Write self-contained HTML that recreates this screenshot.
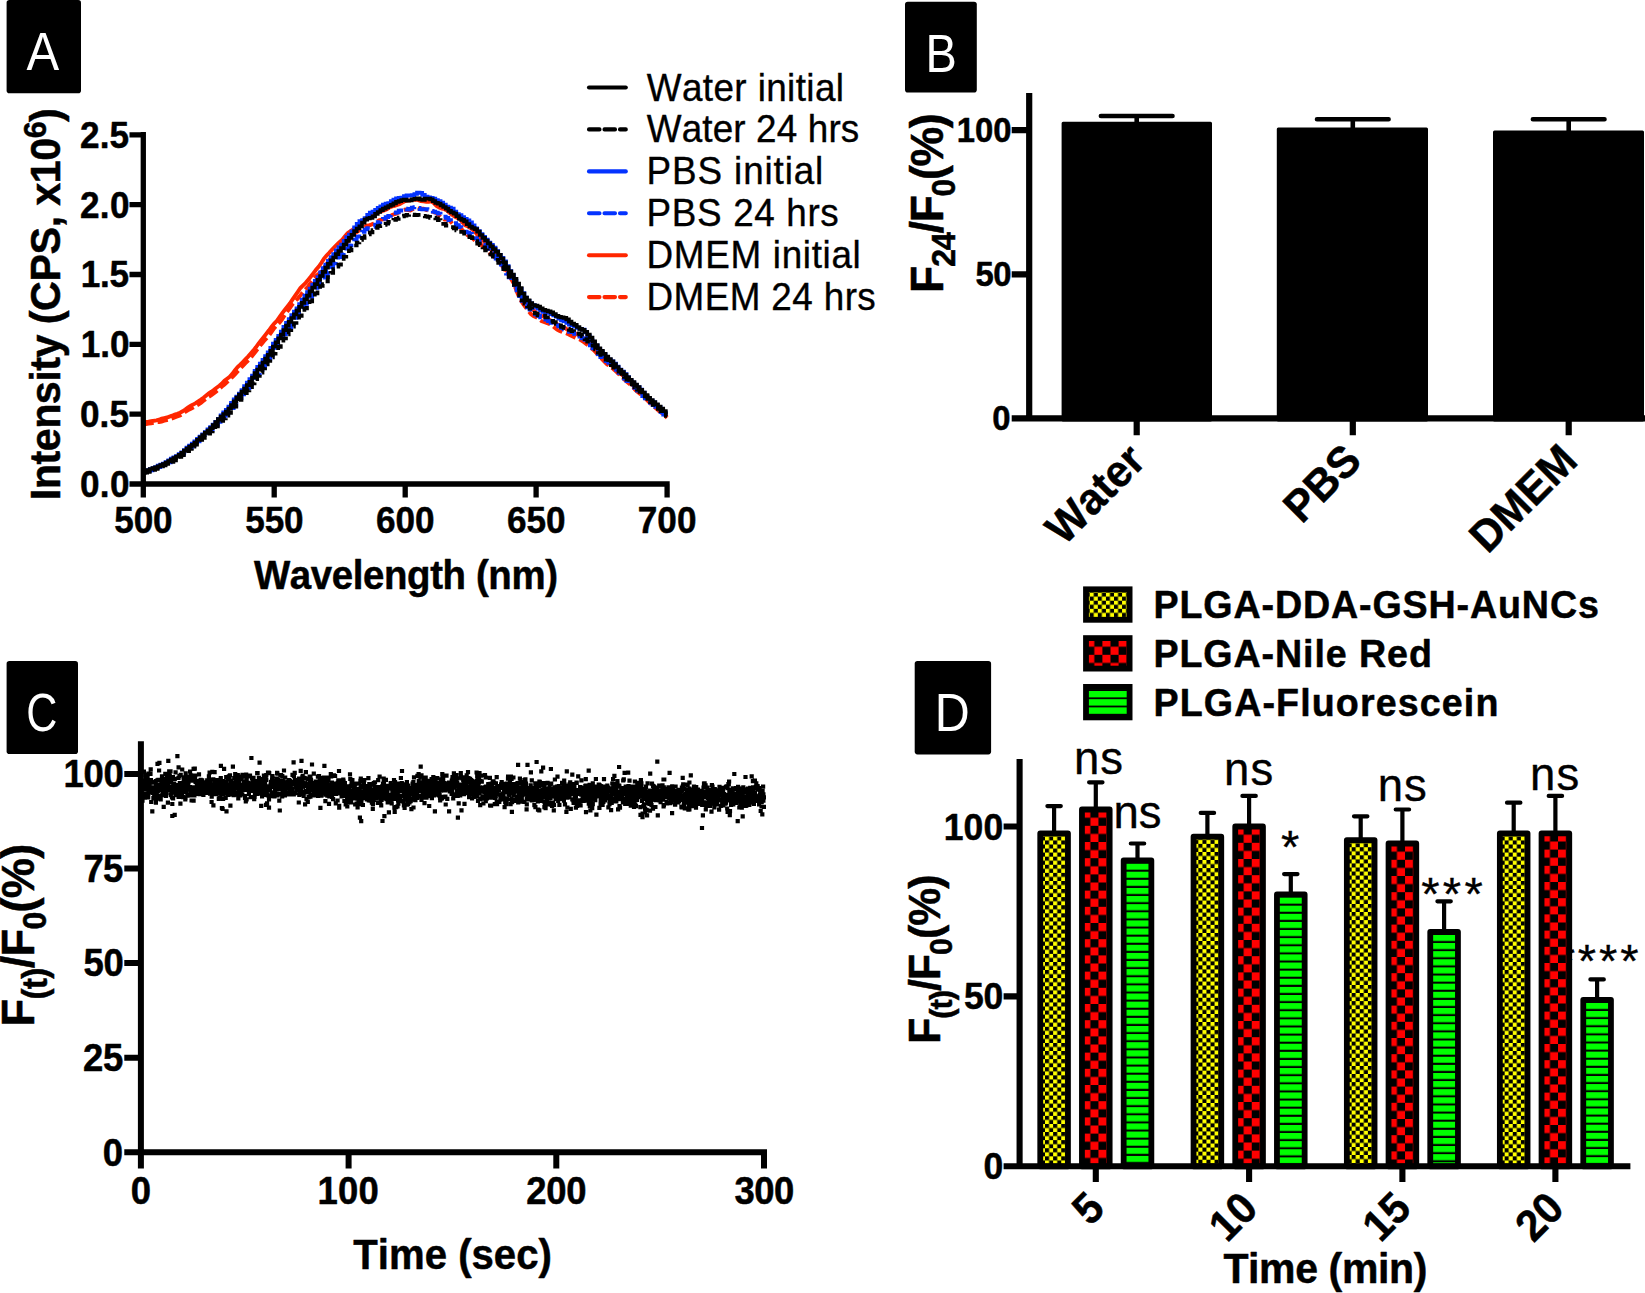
<!DOCTYPE html>
<html lang="en"><head><meta charset="utf-8"><title>Figure</title>
<style>html,body{margin:0;padding:0;background:#fff}svg{display:block}text{font-family:"Liberation Sans",Arial,sans-serif;fill:#000;font-kerning:none;white-space:pre}.b{font-weight:700;stroke:#000;stroke-width:.5px;stroke-linejoin:round}.r{stroke:#000;stroke-width:.35px}.ax{stroke:#000;fill:none}</style></head><body>
<svg width="1645" height="1293" viewBox="0 0 1645 1293">
<rect width="1645" height="1293" fill="#fff"/>
<rect x="6.6" y="0" width="74.4" height="93.2" rx="2.8" fill="#000"/>
<text transform="translate(26.60,70.40) scale(0.899,1)" font-size="54.51" style="fill:#fff">A</text>
<polyline points="143.3,424.7 145.9,424.2 148.5,423.6 151.2,423.4 153.8,422.9 156.4,422.3 159.0,422.0 161.6,421.5 164.3,420.7 166.9,420.1 169.5,419.5 172.1,418.5 174.7,417.4 177.3,416.5 180.0,415.5 182.6,414.0 185.2,411.9 187.8,410.3 190.4,409.1 193.1,407.6 195.7,406.0 198.3,404.6 200.9,402.8 203.5,400.8 206.2,398.7 208.8,396.8 211.4,395.2 214.0,393.3 216.6,391.2 219.3,388.9 221.9,386.6 224.5,384.5 227.1,382.1 229.7,379.6 232.3,377.0 235.0,374.4 237.6,371.5 240.2,368.7 242.8,366.0 245.4,363.1 248.1,360.5 250.7,357.8 253.3,354.6 255.9,351.3 258.5,347.9 261.2,344.4 263.8,341.2 266.4,338.5 269.0,335.6 271.6,332.0 274.2,328.2 276.9,325.3 279.5,322.6 282.1,319.3 284.7,315.3 287.3,311.5 290.0,307.8 292.6,304.1 295.2,301.1 297.8,298.6 300.4,295.4 303.1,291.9 305.7,289.1 308.3,286.2 310.9,282.6 313.5,279.0 316.2,275.8 318.8,273.7 321.4,271.4 324.0,267.8 326.6,264.2 329.2,259.9 331.9,256.4 334.5,254.9 337.1,253.3 339.7,250.3 342.3,246.7 345.0,244.1 347.6,241.9 350.2,238.6 352.8,235.1 355.4,233.0 358.1,231.2 360.7,229.0 363.3,227.1 365.9,226.0 368.5,225.5 371.2,224.6 373.8,223.6 376.4,222.0 379.0,220.2 381.6,219.6 384.2,219.1 386.9,218.4 389.5,216.8 392.1,215.0 394.7,214.2 397.3,213.2 400.0,211.5 402.6,210.2 405.2,209.6 407.8,210.1 410.4,210.4 413.1,209.1 415.7,208.1 418.3,208.5 420.9,208.7 423.5,208.7 426.2,209.9 428.8,210.6 431.4,211.2 434.0,212.2 436.6,213.1 439.2,215.5 441.9,218.5 444.5,219.6 447.1,219.3 449.7,220.6 452.3,223.6 455.0,225.0 457.6,225.5 460.2,227.6 462.8,230.6 465.4,233.5 468.1,235.6 470.7,236.9 473.3,238.9 475.9,241.9 478.5,243.7 481.2,244.8 483.8,247.1 486.4,250.0 489.0,252.6 491.6,255.0 494.2,256.8 496.9,258.7 499.5,261.8 502.1,265.9 504.7,269.7 507.3,273.2 510.0,277.1 512.6,281.6 515.2,287.2 517.8,294.0 520.4,299.8 523.1,303.9 525.7,307.4 528.3,310.9 530.9,314.0 533.5,316.1 536.1,317.2 538.8,318.9 541.4,321.0 544.0,322.0 546.6,323.0 549.2,323.9 551.9,325.1 554.5,327.5 557.1,329.7 559.7,330.9 562.3,332.0 565.0,332.9 567.6,333.9 570.2,335.3 572.8,336.6 575.4,337.7 578.1,338.8 580.7,340.0 583.3,341.7 585.9,343.6 588.5,345.6 591.1,347.9 593.8,350.2 596.4,353.0 599.0,356.0 601.6,358.6 604.2,361.5 606.9,364.1 609.5,365.8 612.1,367.9 614.7,370.2 617.3,372.7 620.0,375.2 622.6,377.6 625.2,380.2 627.8,382.4 630.4,384.7 633.1,387.5 635.7,390.4 638.3,392.6 640.9,394.6 643.5,396.6 646.1,399.1 648.8,402.0 651.4,404.5 654.0,406.6 656.6,408.9 659.2,411.2 661.9,413.2 664.5,415.3 667.1,417.7" fill="none" stroke="#ff2600" stroke-width="3.9" stroke-linejoin="miter" stroke-dasharray="10.5 4"/>
<polyline points="143.3,422.3 145.9,422.0 148.5,421.6 151.2,421.1 153.8,420.8 156.4,420.4 159.0,419.7 161.6,418.7 164.3,418.1 166.9,417.5 169.5,416.6 172.1,415.7 174.7,414.7 177.3,413.8 180.0,412.7 182.6,411.3 185.2,409.5 187.8,407.6 190.4,405.9 193.1,404.6 195.7,403.1 198.3,401.3 200.9,399.6 203.5,397.7 206.2,395.4 208.8,393.4 211.4,391.7 214.0,389.8 216.6,387.7 219.3,385.8 221.9,383.6 224.5,380.8 227.1,378.7 229.7,376.8 232.3,373.9 235.0,370.3 237.6,367.0 240.2,364.7 242.8,362.2 245.4,359.4 248.1,356.6 250.7,353.6 253.3,350.6 255.9,347.3 258.5,343.7 261.2,340.3 263.8,337.0 266.4,333.6 269.0,330.3 271.6,326.7 274.2,323.6 276.9,320.8 279.5,317.0 282.1,313.3 284.7,310.0 287.3,306.6 290.0,303.3 292.6,299.4 295.2,295.6 297.8,291.9 300.4,288.0 303.1,285.3 305.7,282.8 308.3,279.7 310.9,276.5 313.5,273.1 316.2,269.5 318.8,266.5 321.4,262.8 324.0,258.6 326.6,255.5 329.2,252.8 331.9,249.8 334.5,247.0 337.1,244.3 339.7,242.0 342.3,239.7 345.0,236.2 347.6,233.2 350.2,231.4 352.8,229.6 355.4,227.7 358.1,225.9 360.7,223.6 363.3,220.6 365.9,218.0 368.5,217.5 371.2,216.8 373.8,214.6 376.4,213.3 379.0,212.3 381.6,211.1 384.2,210.3 386.9,209.3 389.5,207.5 392.1,206.4 394.7,205.8 397.3,205.0 400.0,204.0 402.6,202.4 405.2,201.1 407.8,200.5 410.4,200.3 413.1,199.9 415.7,199.5 418.3,200.2 420.9,201.0 423.5,201.4 426.2,201.8 428.8,201.7 431.4,201.4 434.0,203.3 436.6,205.9 439.2,207.6 441.9,208.7 444.5,209.2 447.1,210.6 449.7,213.1 452.3,215.0 455.0,216.8 457.6,218.1 460.2,219.6 462.8,222.8 465.4,225.4 468.1,226.5 470.7,228.1 473.3,230.2 475.9,232.8 478.5,236.6 481.2,239.5 483.8,241.1 486.4,244.0 489.0,247.8 491.6,250.2 494.2,252.2 496.9,255.2 499.5,258.6 502.1,262.2 504.7,266.8 507.3,271.4 510.0,275.7 512.6,279.9 515.2,284.7 517.8,290.0 520.4,295.3 523.1,300.1 525.7,303.5 528.3,305.8 530.9,307.8 533.5,310.1 536.1,312.7 538.8,314.7 541.4,316.0 544.0,316.6 546.6,317.7 549.2,319.6 551.9,321.2 554.5,322.7 557.1,324.2 559.7,325.5 562.3,326.7 565.0,328.0 567.6,329.9 570.2,331.2 572.8,332.2 575.4,333.4 578.1,334.8 580.7,336.3 583.3,338.0 585.9,339.9 588.5,341.9 591.1,343.7 593.8,346.1 596.4,349.1 599.0,352.2 601.6,354.9 604.2,357.3 606.9,360.3 609.5,363.4 612.1,365.9 614.7,367.7 617.3,369.8 620.0,372.7 622.6,375.4 625.2,377.8 627.8,380.3 630.4,383.1 633.1,385.5 635.7,387.8 638.3,390.9 640.9,393.4 643.5,395.2 646.1,397.4 648.8,400.2 651.4,402.8 654.0,405.1 656.6,407.3 659.2,409.5 661.9,412.1 664.5,414.6 667.1,416.7" fill="none" stroke="#ff2600" stroke-width="3.9" stroke-linejoin="miter"/>
<polyline points="143.3,472.5 144.6,472.5 144.6,471.8 147.2,471.8 147.2,471.2 149.8,471.2 149.8,470.5 152.5,470.5 152.5,469.4 155.1,469.4 155.1,468.2 157.7,468.2 157.7,467.1 160.3,467.1 160.3,465.9 162.9,465.9 162.9,464.7 165.6,464.7 165.6,463.6 168.2,463.6 168.2,462.3 170.8,462.3 170.8,460.6 173.4,460.6 173.4,458.8 176.0,458.8 176.0,457.2 178.7,457.2 178.7,455.9 181.3,455.9 181.3,454.3 183.9,454.3 183.9,452.4 186.5,452.4 186.5,450.3 189.1,450.3 189.1,447.9 191.8,447.9 191.8,445.9 194.4,445.9 194.4,443.9 197.0,443.9 197.0,441.3 199.6,441.3 199.6,438.7 202.2,438.7 202.2,436.7 204.8,436.7 204.8,434.9 207.5,434.9 207.5,432.4 210.1,432.4 210.1,429.7 212.7,429.7 212.7,427.3 215.3,427.3 215.3,424.9 217.9,424.9 217.9,422.0 220.6,422.0 220.6,418.7 223.2,418.7 223.2,415.8 225.8,415.8 225.8,413.5 228.4,413.5 228.4,410.9 231.0,410.9 231.0,408.1 233.7,408.1 233.7,405.3 236.3,405.3 236.3,401.9 238.9,401.9 238.9,398.2 241.5,398.2 241.5,394.4 244.1,394.4 244.1,391.3 246.8,391.3 246.8,388.2 249.4,388.2 249.4,384.3 252.0,384.3 252.0,381.0 254.6,381.0 254.6,377.8 257.2,377.8 257.2,374.0 259.8,374.0 259.8,370.2 262.5,370.2 262.5,366.4 265.1,366.4 265.1,362.8 267.7,362.8 267.7,359.4 270.3,359.4 270.3,354.9 272.9,354.9 272.9,350.1 275.6,350.1 275.6,345.9 278.2,345.9 278.2,341.8 280.8,341.8 280.8,337.7 283.4,337.7 283.4,334.2 286.0,334.2 286.0,330.9 288.7,330.9 288.7,327.4 291.3,327.4 291.3,324.1 293.9,324.1 293.9,320.7 296.5,320.7 296.5,316.5 299.1,316.5 299.1,311.6 301.7,311.6 301.7,307.3 304.4,307.3 304.4,303.8 307.0,303.8 307.0,300.0 309.6,300.0 309.6,296.9 312.2,296.9 312.2,293.4 314.8,293.4 314.8,289.8 317.5,289.8 317.5,286.4 320.1,286.4 320.1,281.8 322.7,281.8 322.7,277.7 325.3,277.7 325.3,274.8 327.9,274.8 327.9,271.2 330.6,271.2 330.6,267.2 333.2,267.2 333.2,263.4 335.8,263.4 335.8,260.2 338.4,260.2 338.4,257.2 341.0,257.2 341.0,254.1 343.7,254.1 343.7,251.6 346.3,251.6 346.3,248.7 348.9,248.7 348.9,245.3 351.5,245.3 351.5,242.7 354.1,242.7 354.1,239.6 356.7,239.6 356.7,236.6 359.4,236.6 359.4,234.6 362.0,234.6 362.0,231.9 364.6,231.9 364.6,229.3 367.2,229.3 367.2,228.0 369.8,228.0 369.8,227.7 372.5,227.7 372.5,227.0 375.1,227.0 375.1,224.6 377.7,224.6 377.7,222.1 380.3,222.1 380.3,220.5 382.9,220.5 382.9,218.9 385.6,218.9 385.6,217.2 388.2,217.2 388.2,215.9 390.8,215.9 390.8,214.4 393.4,214.4 393.4,213.0 396.0,213.0 396.0,212.4 398.7,212.4 398.7,210.7 401.3,210.7 401.3,208.5 403.9,208.5 403.9,208.6 406.5,208.6 406.5,209.6 409.1,209.6 409.1,208.9 411.7,208.9 411.7,207.5 414.4,207.5 414.4,207.1 417.0,207.1 417.0,207.9 419.6,207.9 419.6,209.1 422.2,209.1 422.2,209.3 424.8,209.3 424.8,209.0 427.5,209.0 427.5,209.6 430.1,209.6 430.1,210.8 432.7,210.8 432.7,211.7 435.3,211.7 435.3,212.5 437.9,212.5 437.9,213.6 440.6,213.6 440.6,215.4 443.2,215.4 443.2,216.7 445.8,216.7 445.8,217.9 448.4,217.9 448.4,220.1 451.0,220.1 451.0,222.0 453.7,222.0 453.7,223.2 456.3,223.2 456.3,225.1 458.9,225.1 458.9,227.1 461.5,227.1 461.5,229.5 464.1,229.5 464.1,231.7 466.7,231.7 466.7,232.5 469.4,232.5 469.4,233.8 472.0,233.8 472.0,235.9 474.6,235.9 474.6,238.2 477.2,238.2 477.2,240.8 479.8,240.8 479.8,243.2 482.5,243.2 482.5,244.6 485.1,244.6 485.1,246.0 487.7,246.0 487.7,249.0 490.3,249.0 490.3,252.6 492.9,252.6 492.9,255.5 495.6,255.5 495.6,258.7 498.2,258.7 498.2,261.7 500.8,261.7 500.8,264.7 503.4,264.7 503.4,269.0 506.0,269.0 506.0,273.7 508.7,273.7 508.7,277.4 511.3,277.4 511.3,280.9 513.9,280.9 513.9,285.1 516.5,285.1 516.5,290.4 519.1,290.4 519.1,296.2 521.7,296.2 521.7,300.8 524.4,300.8 524.4,304.3 527.0,304.3 527.0,307.3 529.6,307.3 529.6,309.6 532.2,309.6 532.2,312.1 534.8,312.1 534.8,314.3 537.5,314.3 537.5,315.8 540.1,315.8 540.1,317.5 542.7,317.5 542.7,318.8 545.3,318.8 545.3,319.7 547.9,319.7 547.9,321.1 550.6,321.1 550.6,322.8 553.2,322.8 553.2,324.2 555.8,324.2 555.8,325.2 558.4,325.2 558.4,326.5 561.0,326.5 561.0,328.2 563.6,328.2 563.6,329.5 566.3,329.5 566.3,330.9 568.9,330.9 568.9,331.8 571.5,331.8 571.5,332.1 574.1,332.1 574.1,333.9 576.7,333.9 576.7,335.8 579.4,335.8 579.4,336.7 582.0,336.7 582.0,338.4 584.6,338.4 584.6,340.0 587.2,340.0 587.2,342.1 589.8,342.1 589.8,345.3 592.5,345.3 592.5,348.5 595.1,348.5 595.1,351.3 597.7,351.3 597.7,354.2 600.3,354.2 600.3,357.1 602.9,357.1 602.9,359.5 605.6,359.5 605.6,361.1 608.2,361.1 608.2,362.9 610.8,362.9 610.8,365.0 613.4,365.0 613.4,367.2 616.0,367.2 616.0,370.0 618.6,370.0 618.6,373.0 621.3,373.0 621.3,375.8 623.9,375.8 623.9,378.7 626.5,378.7 626.5,381.2 629.1,381.2 629.1,383.3 631.7,383.3 631.7,385.4 634.4,385.4 634.4,387.8 637.0,387.8 637.0,390.7 639.6,390.7 639.6,393.6 642.2,393.6 642.2,396.2 644.8,396.2 644.8,398.3 647.5,398.3 647.5,400.3 650.1,400.3 650.1,402.8 652.7,402.8 652.7,405.1 655.3,405.1 655.3,406.9 657.9,406.9 657.9,409.2 660.6,409.2 660.6,412.1 663.2,412.1 663.2,414.6 665.8,414.6 665.8,416.8 667.1,416.8" fill="none" stroke="#0433ff" stroke-width="3.7" stroke-linejoin="miter" stroke-dasharray="12 5"/>
<polyline points="143.3,471.9 144.6,471.9 144.6,471.2 147.2,471.2 147.2,470.2 149.8,470.2 149.8,469.0 152.5,469.0 152.5,468.1 155.1,468.1 155.1,467.0 157.7,467.0 157.7,465.7 160.3,465.7 160.3,464.7 162.9,464.7 162.9,463.6 165.6,463.6 165.6,462.1 168.2,462.1 168.2,460.3 170.8,460.3 170.8,458.6 173.4,458.6 173.4,457.4 176.0,457.4 176.0,456.1 178.7,456.1 178.7,454.2 181.3,454.2 181.3,452.3 183.9,452.3 183.9,450.0 186.5,450.0 186.5,447.7 189.1,447.7 189.1,445.6 191.8,445.6 191.8,443.5 194.4,443.5 194.4,441.3 197.0,441.3 197.0,438.9 199.6,438.9 199.6,436.5 202.2,436.5 202.2,434.4 204.8,434.4 204.8,432.0 207.5,432.0 207.5,429.4 210.1,429.4 210.1,427.1 212.7,427.1 212.7,424.7 215.3,424.7 215.3,421.9 217.9,421.9 217.9,418.8 220.6,418.8 220.6,415.4 223.2,415.4 223.2,412.4 225.8,412.4 225.8,409.9 228.4,409.9 228.4,406.7 231.0,406.7 231.0,402.9 233.7,402.9 233.7,399.4 236.3,399.4 236.3,396.5 238.9,396.5 238.9,393.6 241.5,393.6 241.5,390.0 244.1,390.0 244.1,386.2 246.8,386.2 246.8,382.6 249.4,382.6 249.4,379.2 252.0,379.2 252.0,375.5 254.6,375.5 254.6,370.9 257.2,370.9 257.2,366.9 259.8,366.9 259.8,363.6 262.5,363.6 262.5,359.8 265.1,359.8 265.1,356.1 267.7,356.1 267.7,352.3 270.3,352.3 270.3,347.9 272.9,347.9 272.9,343.5 275.6,343.5 275.6,339.8 278.2,339.8 278.2,335.9 280.8,335.9 280.8,331.5 283.4,331.5 283.4,326.9 286.0,326.9 286.0,322.8 288.7,322.8 288.7,319.2 291.3,319.2 291.3,315.2 293.9,315.2 293.9,311.5 296.5,311.5 296.5,308.3 299.1,308.3 299.1,304.1 301.7,304.1 301.7,299.6 304.4,299.6 304.4,295.5 307.0,295.5 307.0,292.0 309.6,292.0 309.6,288.7 312.2,288.7 312.2,284.6 314.8,284.6 314.8,280.8 317.5,280.8 317.5,277.0 320.1,277.0 320.1,272.3 322.7,272.3 322.7,268.1 325.3,268.1 325.3,264.6 327.9,264.6 327.9,260.8 330.6,260.8 330.6,257.2 333.2,257.2 333.2,254.1 335.8,254.1 335.8,250.4 338.4,250.4 338.4,247.0 341.0,247.0 341.0,244.6 343.7,244.6 343.7,240.8 346.3,240.8 346.3,237.1 348.9,237.1 348.9,234.7 351.5,234.7 351.5,231.3 354.1,231.3 354.1,227.4 356.7,227.4 356.7,223.9 359.4,223.9 359.4,221.2 362.0,221.2 362.0,220.1 364.6,220.1 364.6,218.2 367.2,218.2 367.2,214.8 369.8,214.8 369.8,212.6 372.5,212.6 372.5,211.6 375.1,211.6 375.1,209.9 377.7,209.9 377.7,207.9 380.3,207.9 380.3,206.3 382.9,206.3 382.9,204.6 385.6,204.6 385.6,203.5 388.2,203.5 388.2,203.0 390.8,203.0 390.8,201.0 393.4,201.0 393.4,199.5 396.0,199.5 396.0,198.4 398.7,198.4 398.7,197.8 401.3,197.8 401.3,197.6 403.9,197.6 403.9,196.1 406.5,196.1 406.5,195.4 409.1,195.4 409.1,195.7 411.7,195.7 411.7,195.1 414.4,195.1 414.4,194.0 417.0,194.0 417.0,192.6 419.6,192.6 419.6,192.8 422.2,192.8 422.2,194.8 424.8,194.8 424.8,196.5 427.5,196.5 427.5,197.3 430.1,197.3 430.1,197.8 432.7,197.8 432.7,198.7 435.3,198.7 435.3,200.0 437.9,200.0 437.9,201.2 440.6,201.2 440.6,202.6 443.2,202.6 443.2,204.5 445.8,204.5 445.8,206.7 448.4,206.7 448.4,207.6 451.0,207.6 451.0,208.5 453.7,208.5 453.7,211.7 456.3,211.7 456.3,214.1 458.9,214.1 458.9,215.2 461.5,215.2 461.5,217.0 464.1,217.0 464.1,218.8 466.7,218.8 466.7,220.3 469.4,220.3 469.4,222.3 472.0,222.3 472.0,225.3 474.6,225.3 474.6,228.4 477.2,228.4 477.2,231.0 479.8,231.0 479.8,234.2 482.5,234.2 482.5,236.9 485.1,236.9 485.1,239.6 487.7,239.6 487.7,242.5 490.3,242.5 490.3,244.9 492.9,244.9 492.9,247.6 495.6,247.6 495.6,251.1 498.2,251.1 498.2,254.9 500.8,254.9 500.8,257.9 503.4,257.9 503.4,261.3 506.0,261.3 506.0,266.1 508.7,266.1 508.7,271.0 511.3,271.0 511.3,275.4 513.9,275.4 513.9,280.9 516.5,280.9 516.5,285.5 519.1,285.5 519.1,288.9 521.7,288.9 521.7,293.2 524.4,293.2 524.4,297.5 527.0,297.5 527.0,300.9 529.6,300.9 529.6,303.3 532.2,303.3 532.2,305.0 534.8,305.0 534.8,306.9 537.5,306.9 537.5,308.7 540.1,308.7 540.1,310.6 542.7,310.6 542.7,312.0 545.3,312.0 545.3,312.3 547.9,312.3 547.9,312.8 550.6,312.8 550.6,314.1 553.2,314.1 553.2,315.4 555.8,315.4 555.8,316.6 558.4,316.6 558.4,318.7 561.0,318.7 561.0,320.4 563.6,320.4 563.6,321.2 566.3,321.2 566.3,322.9 568.9,322.9 568.9,324.7 571.5,324.7 571.5,325.5 574.1,325.5 574.1,326.4 576.7,326.4 576.7,328.0 579.4,328.0 579.4,328.8 582.0,328.8 582.0,329.7 584.6,329.7 584.6,332.4 587.2,332.4 587.2,336.2 589.8,336.2 589.8,340.1 592.5,340.1 592.5,342.9 595.1,342.9 595.1,345.7 597.7,345.7 597.7,349.2 600.3,349.2 600.3,352.0 602.9,352.0 602.9,354.4 605.6,354.4 605.6,357.1 608.2,357.1 608.2,359.5 610.8,359.5 610.8,361.4 613.4,361.4 613.4,363.7 616.0,363.7 616.0,366.7 618.6,366.7 618.6,369.5 621.3,369.5 621.3,371.7 623.9,371.7 623.9,374.1 626.5,374.1 626.5,377.1 629.1,377.1 629.1,380.3 631.7,380.3 631.7,382.7 634.4,382.7 634.4,384.9 637.0,384.9 637.0,387.2 639.6,387.2 639.6,389.7 642.2,389.7 642.2,392.6 644.8,392.6 644.8,395.8 647.5,395.8 647.5,398.5 650.1,398.5 650.1,400.6 652.7,400.6 652.7,402.4 655.3,402.4 655.3,404.8 657.9,404.8 657.9,407.2 660.6,407.2 660.6,409.6 663.2,409.6 663.2,412.3 665.8,412.3 665.8,414.9 667.1,414.9" fill="none" stroke="#0433ff" stroke-width="3.7" stroke-linejoin="miter"/>
<polyline points="143.3,473.2 144.6,473.2 144.6,472.6 147.2,472.6 147.2,472.0 149.8,472.0 149.8,470.9 152.5,470.9 152.5,469.9 155.1,469.9 155.1,468.9 157.7,468.9 157.7,467.6 160.3,467.6 160.3,466.4 162.9,466.4 162.9,465.4 165.6,465.4 165.6,464.0 168.2,464.0 168.2,462.8 170.8,462.8 170.8,461.8 173.4,461.8 173.4,460.4 176.0,460.4 176.0,458.6 178.7,458.6 178.7,456.8 181.3,456.8 181.3,455.2 183.9,455.2 183.9,453.4 186.5,453.4 186.5,451.2 189.1,451.2 189.1,448.9 191.8,448.9 191.8,446.7 194.4,446.7 194.4,444.7 197.0,444.7 197.0,442.2 199.6,442.2 199.6,439.9 202.2,439.9 202.2,437.8 204.8,437.8 204.8,435.7 207.5,435.7 207.5,433.7 210.1,433.7 210.1,431.5 212.7,431.5 212.7,429.1 215.3,429.1 215.3,426.3 217.9,426.3 217.9,423.6 220.6,423.6 220.6,421.0 223.2,421.0 223.2,418.4 225.8,418.4 225.8,415.6 228.4,415.6 228.4,412.8 231.0,412.8 231.0,409.7 233.7,409.7 233.7,406.6 236.3,406.6 236.3,403.6 238.9,403.6 238.9,399.9 241.5,399.9 241.5,396.2 244.1,396.2 244.1,393.1 246.8,393.1 246.8,390.3 249.4,390.3 249.4,387.2 252.0,387.2 252.0,383.4 254.6,383.4 254.6,379.2 257.2,379.2 257.2,375.9 259.8,375.9 259.8,372.7 262.5,372.7 262.5,368.5 265.1,368.5 265.1,364.4 267.7,364.4 267.7,360.9 270.3,360.9 270.3,357.4 272.9,357.4 272.9,353.7 275.6,353.7 275.6,350.4 278.2,350.4 278.2,346.8 280.8,346.8 280.8,342.8 283.4,342.8 283.4,338.5 286.0,338.5 286.0,334.3 288.7,334.3 288.7,330.2 291.3,330.2 291.3,326.6 293.9,326.6 293.9,323.0 296.5,323.0 296.5,319.5 299.1,319.5 299.1,316.0 301.7,316.0 301.7,311.9 304.4,311.9 304.4,308.3 307.0,308.3 307.0,305.1 309.6,305.1 309.6,301.4 312.2,301.4 312.2,297.6 314.8,297.6 314.8,293.4 317.5,293.4 317.5,289.1 320.1,289.1 320.1,286.0 322.7,286.0 322.7,284.1 325.3,284.1 325.3,281.4 327.9,281.4 327.9,277.2 330.6,277.2 330.6,272.9 333.2,272.9 333.2,269.1 335.8,269.1 335.8,266.7 338.4,266.7 338.4,264.6 341.0,264.6 341.0,260.8 343.7,260.8 343.7,256.6 346.3,256.6 346.3,253.4 348.9,253.4 348.9,250.5 351.5,250.5 351.5,248.1 354.1,248.1 354.1,245.5 356.7,245.5 356.7,242.5 359.4,242.5 359.4,239.9 362.0,239.9 362.0,237.8 364.6,237.8 364.6,236.2 367.2,236.2 367.2,234.5 369.8,234.5 369.8,232.3 372.5,232.3 372.5,230.1 375.1,230.1 375.1,227.8 377.7,227.8 377.7,226.2 380.3,226.2 380.3,225.6 382.9,225.6 382.9,225.0 385.6,225.0 385.6,223.7 388.2,223.7 388.2,221.9 390.8,221.9 390.8,220.7 393.4,220.7 393.4,219.8 396.0,219.8 396.0,218.8 398.7,218.8 398.7,217.6 401.3,217.6 401.3,216.5 403.9,216.5 403.9,215.7 406.5,215.7 406.5,214.8 409.1,214.8 409.1,214.3 411.7,214.3 411.7,214.7 414.4,214.7 414.4,215.2 417.0,215.2 417.0,214.8 419.6,214.8 419.6,214.8 422.2,214.8 422.2,215.9 424.8,215.9 424.8,216.4 427.5,216.4 427.5,216.9 430.1,216.9 430.1,217.8 432.7,217.8 432.7,217.7 435.3,217.7 435.3,218.3 437.9,218.3 437.9,220.2 440.6,220.2 440.6,222.0 443.2,222.0 443.2,223.8 445.8,223.8 445.8,225.6 448.4,225.6 448.4,226.8 451.0,226.8 451.0,227.1 453.7,227.1 453.7,228.3 456.3,228.3 456.3,230.4 458.9,230.4 458.9,231.8 461.5,231.8 461.5,232.0 464.1,232.0 464.1,233.6 466.7,233.6 466.7,236.4 469.4,236.4 469.4,237.2 472.0,237.2 472.0,238.1 474.6,238.1 474.6,241.1 477.2,241.1 477.2,243.7 479.8,243.7 479.8,245.2 482.5,245.2 482.5,247.4 485.1,247.4 485.1,250.4 487.7,250.4 487.7,252.7 490.3,252.7 490.3,254.3 492.9,254.3 492.9,256.6 495.6,256.6 495.6,259.8 498.2,259.8 498.2,262.9 500.8,262.9 500.8,266.1 503.4,266.1 503.4,269.1 506.0,269.1 506.0,272.7 508.7,272.7 508.7,276.9 511.3,276.9 511.3,280.7 513.9,280.7 513.9,284.8 516.5,284.8 516.5,289.9 519.1,289.9 519.1,295.4 521.7,295.4 521.7,300.3 524.4,300.3 524.4,303.7 527.0,303.7 527.0,306.3 529.6,306.3 529.6,308.7 532.2,308.7 532.2,310.9 534.8,310.9 534.8,313.5 537.5,313.5 537.5,315.4 540.1,315.4 540.1,315.3 542.7,315.3 542.7,315.5 545.3,315.5 545.3,317.4 547.9,317.4 547.9,319.4 550.6,319.4 550.6,320.9 553.2,320.9 553.2,322.2 555.8,322.2 555.8,323.8 558.4,323.8 558.4,325.4 561.0,325.4 561.0,326.8 563.6,326.8 563.6,327.9 566.3,327.9 566.3,328.8 568.9,328.8 568.9,329.9 571.5,329.9 571.5,331.1 574.1,331.1 574.1,332.2 576.7,332.2 576.7,333.3 579.4,333.3 579.4,334.4 582.0,334.4 582.0,336.2 584.6,336.2 584.6,339.2 587.2,339.2 587.2,341.6 589.8,341.6 589.8,343.1 592.5,343.1 592.5,345.6 595.1,345.6 595.1,349.4 597.7,349.4 597.7,352.7 600.3,352.7 600.3,354.9 602.9,354.9 602.9,357.2 605.6,357.2 605.6,359.7 608.2,359.7 608.2,362.3 610.8,362.3 610.8,365.1 613.4,365.1 613.4,367.7 616.0,367.7 616.0,369.7 618.6,369.7 618.6,371.6 621.3,371.6 621.3,374.0 623.9,374.0 623.9,376.9 626.5,376.9 626.5,379.7 629.1,379.7 629.1,382.0 631.7,382.0 631.7,384.4 634.4,384.4 634.4,387.1 637.0,387.1 637.0,389.6 639.6,389.6 639.6,391.9 642.2,391.9 642.2,394.2 644.8,394.2 644.8,396.5 647.5,396.5 647.5,399.0 650.1,399.0 650.1,402.1 652.7,402.1 652.7,404.9 655.3,404.9 655.3,406.9 657.9,406.9 657.9,408.9 660.6,408.9 660.6,411.1 663.2,411.1 663.2,413.4 665.8,413.4 665.8,416.0 667.1,416.0" fill="none" stroke="#000" stroke-width="3.7" stroke-linejoin="miter" stroke-dasharray="8.5 4.4"/>
<polyline points="143.3,472.2 144.6,472.2 144.6,471.3 147.2,471.3 147.2,470.2 149.8,470.2 149.8,469.0 152.5,469.0 152.5,468.1 155.1,468.1 155.1,467.4 157.7,467.4 157.7,466.3 160.3,466.3 160.3,465.1 162.9,465.1 162.9,464.0 165.6,464.0 165.6,462.6 168.2,462.6 168.2,461.1 170.8,461.1 170.8,459.5 173.4,459.5 173.4,458.1 176.0,458.1 176.0,456.7 178.7,456.7 178.7,454.9 181.3,454.9 181.3,452.8 183.9,452.8 183.9,450.7 186.5,450.7 186.5,448.7 189.1,448.7 189.1,446.7 191.8,446.7 191.8,444.8 194.4,444.8 194.4,442.7 197.0,442.7 197.0,439.9 199.6,439.9 199.6,437.4 202.2,437.4 202.2,435.0 204.8,435.0 204.8,432.6 207.5,432.6 207.5,430.5 210.1,430.5 210.1,428.1 212.7,428.1 212.7,425.2 215.3,425.2 215.3,422.0 217.9,422.0 217.9,419.2 220.6,419.2 220.6,416.7 223.2,416.7 223.2,414.0 225.8,414.0 225.8,411.5 228.4,411.5 228.4,408.7 231.0,408.7 231.0,405.2 233.7,405.2 233.7,401.4 236.3,401.4 236.3,397.7 238.9,397.7 238.9,394.5 241.5,394.5 241.5,391.6 244.1,391.6 244.1,388.5 246.8,388.5 246.8,385.2 249.4,385.2 249.4,381.9 252.0,381.9 252.0,377.7 254.6,377.7 254.6,373.2 257.2,373.2 257.2,369.6 259.8,369.6 259.8,366.4 262.5,366.4 262.5,362.5 265.1,362.5 265.1,358.5 267.7,358.5 267.7,354.8 270.3,354.8 270.3,350.8 272.9,350.8 272.9,346.5 275.6,346.5 275.6,342.3 278.2,342.3 278.2,338.4 280.8,338.4 280.8,334.6 283.4,334.6 283.4,330.1 286.0,330.1 286.0,325.7 288.7,325.7 288.7,321.8 291.3,321.8 291.3,318.0 293.9,318.0 293.9,314.4 296.5,314.4 296.5,310.7 299.1,310.7 299.1,306.8 301.7,306.8 301.7,302.9 304.4,302.9 304.4,299.4 307.0,299.4 307.0,295.7 309.6,295.7 309.6,291.3 312.2,291.3 312.2,287.6 314.8,287.6 314.8,284.1 317.5,284.1 317.5,279.9 320.1,279.9 320.1,276.0 322.7,276.0 322.7,271.9 325.3,271.9 325.3,267.6 327.9,267.6 327.9,263.8 330.6,263.8 330.6,260.4 333.2,260.4 333.2,257.5 335.8,257.5 335.8,254.1 338.4,254.1 338.4,251.0 341.0,251.0 341.0,248.1 343.7,248.1 343.7,244.6 346.3,244.6 346.3,240.9 348.9,240.9 348.9,237.8 351.5,237.8 351.5,234.8 354.1,234.8 354.1,231.1 356.7,231.1 356.7,228.5 359.4,228.5 359.4,226.4 362.0,226.4 362.0,222.7 364.6,222.7 364.6,219.6 367.2,219.6 367.2,218.3 369.8,218.3 369.8,217.8 372.5,217.8 372.5,216.3 375.1,216.3 375.1,213.9 377.7,213.9 377.7,212.0 380.3,212.0 380.3,210.2 382.9,210.2 382.9,208.6 385.6,208.6 385.6,207.3 388.2,207.3 388.2,206.0 390.8,206.0 390.8,204.9 393.4,204.9 393.4,203.4 396.0,203.4 396.0,201.8 398.7,201.8 398.7,201.1 401.3,201.1 401.3,200.1 403.9,200.1 403.9,199.5 406.5,199.5 406.5,200.7 409.1,200.7 409.1,200.5 411.7,200.5 411.7,199.3 414.4,199.3 414.4,198.9 417.0,198.9 417.0,198.4 419.6,198.4 419.6,199.3 422.2,199.3 422.2,199.8 424.8,199.8 424.8,198.7 427.5,198.7 427.5,198.5 430.1,198.5 430.1,199.4 432.7,199.4 432.7,201.2 435.3,201.2 435.3,202.8 437.9,202.8 437.9,203.6 440.6,203.6 440.6,205.3 443.2,205.3 443.2,207.0 445.8,207.0 445.8,208.7 448.4,208.7 448.4,210.9 451.0,210.9 451.0,212.3 453.7,212.3 453.7,213.7 456.3,213.7 456.3,216.2 458.9,216.2 458.9,218.7 461.5,218.7 461.5,219.8 464.1,219.8 464.1,221.3 466.7,221.3 466.7,224.1 469.4,224.1 469.4,226.5 472.0,226.5 472.0,228.0 474.6,228.0 474.6,229.2 477.2,229.2 477.2,231.7 479.8,231.7 479.8,235.0 482.5,235.0 482.5,237.9 485.1,237.9 485.1,240.5 487.7,240.5 487.7,243.4 490.3,243.4 490.3,246.4 492.9,246.4 492.9,249.1 495.6,249.1 495.6,251.7 498.2,251.7 498.2,254.8 500.8,254.8 500.8,258.5 503.4,258.5 503.4,262.4 506.0,262.4 506.0,267.1 508.7,267.1 508.7,271.3 511.3,271.3 511.3,274.6 513.9,274.6 513.9,278.9 516.5,278.9 516.5,283.5 519.1,283.5 519.1,288.1 521.7,288.1 521.7,293.5 524.4,293.5 524.4,297.6 527.0,297.6 527.0,300.3 529.6,300.3 529.6,303.1 532.2,303.1 532.2,305.0 534.8,305.0 534.8,305.7 537.5,305.7 537.5,306.5 540.1,306.5 540.1,308.4 542.7,308.4 542.7,309.8 545.3,309.8 545.3,310.6 547.9,310.6 547.9,311.3 550.6,311.3 550.6,312.3 553.2,312.3 553.2,314.2 555.8,314.2 555.8,315.8 558.4,315.8 558.4,316.8 561.0,316.8 561.0,317.4 563.6,317.4 563.6,317.8 566.3,317.8 566.3,319.3 568.9,319.3 568.9,321.7 571.5,321.7 571.5,323.6 574.1,323.6 574.1,324.9 576.7,324.9 576.7,327.0 579.4,327.0 579.4,328.8 582.0,328.8 582.0,329.9 584.6,329.9 584.6,331.8 587.2,331.8 587.2,334.6 589.8,334.6 589.8,337.7 592.5,337.7 592.5,341.3 595.1,341.3 595.1,345.2 597.7,345.2 597.7,348.4 600.3,348.4 600.3,350.8 602.9,350.8 602.9,353.8 605.6,353.8 605.6,356.6 608.2,356.6 608.2,359.0 610.8,359.0 610.8,361.4 613.4,361.4 613.4,364.2 616.0,364.2 616.0,367.0 618.6,367.0 618.6,369.8 621.3,369.8 621.3,372.2 623.9,372.2 623.9,374.5 626.5,374.5 626.5,377.3 629.1,377.3 629.1,379.9 631.7,379.9 631.7,382.2 634.4,382.2 634.4,384.5 637.0,384.5 637.0,387.0 639.6,387.0 639.6,389.9 642.2,389.9 642.2,392.5 644.8,392.5 644.8,395.1 647.5,395.1 647.5,397.8 650.1,397.8 650.1,400.0 652.7,400.0 652.7,402.2 655.3,402.2 655.3,404.4 657.9,404.4 657.9,406.5 660.6,406.5 660.6,408.5 663.2,408.5 663.2,411.2 665.8,411.2 665.8,414.1 667.1,414.1" fill="none" stroke="#000" stroke-width="3.7" stroke-linejoin="miter"/>
<path class="ax" stroke-width="5.3" d="M143.3,132.1 V497.5 M129.5,484.0 H669.7 M129.5,414.2 H143.3 M129.5,344.3 H143.3 M129.5,274.5 H143.3 M129.5,204.6 H143.3 M129.5,134.8 H143.3 M274.2,484.0 V497.5 M405.2,484.0 V497.5 M536.1,484.0 V497.5 M667.1,484.0 V497.5"/>
<text class="b" transform="translate(79.91,496.95) scale(0.96,1)" font-size="36.60" letter-spacing="0.358">0.0</text>
<text class="b" transform="translate(79.91,427.11) scale(0.96,1)" font-size="36.60" letter-spacing="0.117">0.5</text>
<text class="b" transform="translate(80.79,357.27) scale(0.96,1)" font-size="36.60" letter-spacing="-0.099">1.0</text>
<text class="b" transform="translate(80.79,287.43) scale(0.96,1)" font-size="36.60" letter-spacing="-0.340">1.5</text>
<text class="b" transform="translate(80.08,217.59) scale(0.96,1)" font-size="36.60" letter-spacing="0.268">2.0</text>
<text class="b" transform="translate(80.08,147.75) scale(0.96,1)" font-size="36.60" letter-spacing="0.027">2.5</text>
<text class="b" transform="translate(114.32,532.70) scale(0.96,1)" font-size="36.60" letter-spacing="-0.157">500</text>
<text class="b" transform="translate(245.27,532.70) scale(0.96,1)" font-size="36.60" letter-spacing="-0.157">550</text>
<text class="b" transform="translate(376.01,532.70) scale(0.96,1)" font-size="36.60" letter-spacing="-0.050">600</text>
<text class="b" transform="translate(506.96,532.70) scale(0.96,1)" font-size="36.60" letter-spacing="-0.050">650</text>
<text class="b" transform="translate(637.69,532.70) scale(0.96,1)" font-size="36.60" letter-spacing="0.067">700</text>
<text class="b" transform="translate(253.96,589.20) scale(0.96,1)" font-size="40.00" letter-spacing="-0.386">Wavelength (nm)</text>
<text class="b" transform="translate(60.40,500.16) rotate(-90) scale(0.96,1)" font-size="43.00" letter-spacing="-0.529">Intensity (CPS, x10<tspan font-size="31.82" dy="-14.70">6</tspan><tspan dy="14.70">)</tspan></text>
<line x1="589" x2="625.8" y1="87.5" y2="87.5" stroke="#000" stroke-width="4.1" stroke-linecap="round"/>
<text class="r" transform="translate(646.74,100.50) scale(0.96,1)" font-size="38.40" letter-spacing="0.414">Water initial</text>
<line x1="589" x2="625.8" y1="129.4" y2="129.4" stroke="#000" stroke-width="4.1" stroke-linecap="round" stroke-dasharray="10.5 5"/>
<text class="r" transform="translate(646.74,142.43) scale(0.96,1)" font-size="38.40" letter-spacing="0.150">Water 24 hrs</text>
<line x1="589" x2="625.8" y1="171.4" y2="171.4" stroke="#0433ff" stroke-width="4.1" stroke-linecap="round"/>
<text class="r" transform="translate(646.58,184.36) scale(0.96,1)" font-size="38.40" letter-spacing="0.914">PBS initial</text>
<line x1="589" x2="625.8" y1="213.3" y2="213.3" stroke="#0433ff" stroke-width="4.1" stroke-linecap="round" stroke-dasharray="10.5 5"/>
<text class="r" transform="translate(646.58,226.29) scale(0.96,1)" font-size="38.40" letter-spacing="0.671">PBS 24 hrs</text>
<line x1="589" x2="625.8" y1="255.2" y2="255.2" stroke="#ff2600" stroke-width="4.1" stroke-linecap="round"/>
<text class="r" transform="translate(646.58,268.22) scale(0.96,1)" font-size="38.40" letter-spacing="0.702">DMEM initial</text>
<line x1="589" x2="625.8" y1="297.1" y2="297.1" stroke="#ff2600" stroke-width="4.1" stroke-linecap="round" stroke-dasharray="10.5 5"/>
<text class="r" transform="translate(646.58,310.15) scale(0.96,1)" font-size="38.40" letter-spacing="0.410">DMEM 24 hrs</text>
<rect x="905.0" y="1.7" width="71.8" height="90.9" rx="2.8" fill="#000"/>
<text transform="translate(925.55,71.90) scale(0.871,1)" font-size="53.93" style="fill:#fff">B</text>
<path d="M1136.7,124.8 V116.0 M1100.9,116.0 H1172.5" stroke="#000" stroke-width="4.6" stroke-linecap="round" fill="none"/>
<rect x="1063.1" y="123.3" width="147.4" height="296.6" fill="#000" stroke="#000" stroke-width="3" stroke-linejoin="round"/>
<path d="M1352.8,130.6 V119.2 M1317.0,119.2 H1388.6" stroke="#000" stroke-width="4.6" stroke-linecap="round" fill="none"/>
<rect x="1278.3" y="129.1" width="148.2" height="290.8" fill="#000" stroke="#000" stroke-width="3" stroke-linejoin="round"/>
<path d="M1568.7,133.6 V119.2 M1532.9,119.2 H1604.5" stroke="#000" stroke-width="4.6" stroke-linecap="round" fill="none"/>
<rect x="1494.5" y="132.1" width="148.0" height="287.8" fill="#000" stroke="#000" stroke-width="3" stroke-linejoin="round"/>
<path class="ax" stroke-width="6.2" d="M1029.2,93 V421.5 M1011.7,418.4 H1645 M1011.7,274.3 H1029.2 M1011.7,130.2 H1029.2 M1136.7,418.4 V435.2 M1352.8,418.4 V435.2 M1568.7,418.4 V435.2"/>
<text class="b" transform="translate(992.19,430.40) scale(0.96,1)" font-size="34.20" letter-spacing="0.000">0</text>
<text class="b" transform="translate(975.59,286.30) scale(0.96,1)" font-size="34.20" letter-spacing="-0.690">50</text>
<text class="b" transform="translate(956.73,142.20) scale(0.96,1)" font-size="34.20" letter-spacing="-0.033">100</text>
<text class="b" transform="translate(1147.5,462.9) rotate(-45) scale(0.96,1)" text-anchor="end" font-size="44.3">Water</text>
<text class="b" transform="translate(1363.6,462.9) rotate(-45) scale(0.96,1)" text-anchor="end" font-size="44.3">PBS</text>
<text class="b" transform="translate(1579.5,462.9) rotate(-45) scale(0.96,1)" text-anchor="end" font-size="44.3">DMEM</text>
<text class="b" transform="translate(943.00,292.99) rotate(-90) scale(0.96,1)" font-size="46.50" letter-spacing="-1.371">F<tspan font-size="33.95" dy="12.00">24</tspan><tspan dy="-12.00">/F</tspan><tspan font-size="33.02" dy="12.00">0</tspan><tspan dy="-12.00">(%)</tspan></text>
<rect x="6.6" y="661.0" width="71.4" height="93.1" rx="2.8" fill="#000"/>
<text transform="translate(26.31,731.07) scale(0.799,1)" font-size="53.95" style="fill:#fff">C</text>
<path fill="#000" d="M138.8,791.4h4.2v4.2h-4.2zM139.2,787.9h4.2v4.2h-4.2zM139.6,784.0h4.2v4.2h-4.2zM139.4,788.8h4.2v4.2h-4.2zM140.0,792.1h4.2v4.2h-4.2zM140.2,792.3h4.2v4.2h-4.2zM140.3,780.2h4.2v4.2h-4.2zM140.6,778.9h4.2v4.2h-4.2zM140.4,798.5h4.2v4.2h-4.2zM141.1,794.6h4.2v4.2h-4.2zM140.9,784.5h4.2v4.2h-4.2zM141.6,786.8h4.2v4.2h-4.2zM141.7,786.0h4.2v4.2h-4.2zM141.8,769.6h4.2v4.2h-4.2zM141.6,780.4h4.2v4.2h-4.2zM141.9,792.7h4.2v4.2h-4.2zM142.5,778.4h4.2v4.2h-4.2zM142.8,787.4h4.2v4.2h-4.2zM142.9,795.6h4.2v4.2h-4.2zM142.9,784.5h4.2v4.2h-4.2zM143.4,773.1h4.2v4.2h-4.2zM143.6,791.8h4.2v4.2h-4.2zM143.6,783.0h4.2v4.2h-4.2zM144.0,775.8h4.2v4.2h-4.2zM143.9,795.0h4.2v4.2h-4.2zM144.1,785.0h4.2v4.2h-4.2zM144.3,777.6h4.2v4.2h-4.2zM144.4,779.0h4.2v4.2h-4.2zM144.7,782.1h4.2v4.2h-4.2zM144.7,783.6h4.2v4.2h-4.2zM145.5,782.1h4.2v4.2h-4.2zM145.5,773.1h4.2v4.2h-4.2zM145.5,775.6h4.2v4.2h-4.2zM146.1,795.4h4.2v4.2h-4.2zM146.3,791.3h4.2v4.2h-4.2zM146.2,771.6h4.2v4.2h-4.2zM146.5,786.5h4.2v4.2h-4.2zM146.5,783.5h4.2v4.2h-4.2zM147.1,787.6h4.2v4.2h-4.2zM147.1,782.9h4.2v4.2h-4.2zM147.5,781.4h4.2v4.2h-4.2zM147.3,779.0h4.2v4.2h-4.2zM148.0,790.0h4.2v4.2h-4.2zM148.1,787.1h4.2v4.2h-4.2zM148.2,785.3h4.2v4.2h-4.2zM148.4,771.8h4.2v4.2h-4.2zM148.8,778.0h4.2v4.2h-4.2zM148.6,767.3h4.2v4.2h-4.2zM149.1,799.9h4.2v4.2h-4.2zM149.3,788.0h4.2v4.2h-4.2zM149.4,780.4h4.2v4.2h-4.2zM149.8,786.1h4.2v4.2h-4.2zM149.9,788.4h4.2v4.2h-4.2zM150.1,785.3h4.2v4.2h-4.2zM150.2,809.3h4.2v4.2h-4.2zM150.6,789.2h4.2v4.2h-4.2zM150.6,789.8h4.2v4.2h-4.2zM150.8,790.7h4.2v4.2h-4.2zM150.8,788.9h4.2v4.2h-4.2zM151.4,780.6h4.2v4.2h-4.2zM151.3,796.0h4.2v4.2h-4.2zM151.8,779.9h4.2v4.2h-4.2zM152.1,792.1h4.2v4.2h-4.2zM152.2,795.2h4.2v4.2h-4.2zM152.3,796.3h4.2v4.2h-4.2zM152.7,791.5h4.2v4.2h-4.2zM152.5,788.2h4.2v4.2h-4.2zM152.7,795.8h4.2v4.2h-4.2zM153.3,789.0h4.2v4.2h-4.2zM153.4,793.0h4.2v4.2h-4.2zM153.7,779.0h4.2v4.2h-4.2zM153.7,794.8h4.2v4.2h-4.2zM153.8,800.5h4.2v4.2h-4.2zM154.1,784.8h4.2v4.2h-4.2zM154.2,788.1h4.2v4.2h-4.2zM154.7,790.7h4.2v4.2h-4.2zM155.0,796.5h4.2v4.2h-4.2zM154.9,783.0h4.2v4.2h-4.2zM155.3,778.3h4.2v4.2h-4.2zM155.4,761.7h4.2v4.2h-4.2zM155.9,794.5h4.2v4.2h-4.2zM155.7,789.3h4.2v4.2h-4.2zM156.3,777.7h4.2v4.2h-4.2zM156.3,783.4h4.2v4.2h-4.2zM156.7,785.8h4.2v4.2h-4.2zM156.6,795.8h4.2v4.2h-4.2zM157.0,768.4h4.2v4.2h-4.2zM157.0,788.3h4.2v4.2h-4.2zM157.0,787.5h4.2v4.2h-4.2zM157.3,760.8h4.2v4.2h-4.2zM157.6,794.0h4.2v4.2h-4.2zM157.6,788.4h4.2v4.2h-4.2zM157.8,794.0h4.2v4.2h-4.2zM158.1,794.7h4.2v4.2h-4.2zM158.8,782.2h4.2v4.2h-4.2zM158.6,797.3h4.2v4.2h-4.2zM159.1,786.2h4.2v4.2h-4.2zM159.1,782.3h4.2v4.2h-4.2zM159.1,785.0h4.2v4.2h-4.2zM159.8,777.4h4.2v4.2h-4.2zM159.8,786.7h4.2v4.2h-4.2zM159.9,774.3h4.2v4.2h-4.2zM160.0,779.7h4.2v4.2h-4.2zM160.2,793.0h4.2v4.2h-4.2zM160.4,787.0h4.2v4.2h-4.2zM160.8,790.0h4.2v4.2h-4.2zM161.3,779.5h4.2v4.2h-4.2zM161.4,777.1h4.2v4.2h-4.2zM161.2,776.6h4.2v4.2h-4.2zM161.4,781.8h4.2v4.2h-4.2zM161.6,804.8h4.2v4.2h-4.2zM162.0,789.2h4.2v4.2h-4.2zM162.1,792.3h4.2v4.2h-4.2zM162.7,782.2h4.2v4.2h-4.2zM162.8,792.9h4.2v4.2h-4.2zM163.2,771.8h4.2v4.2h-4.2zM163.3,784.7h4.2v4.2h-4.2zM163.5,782.1h4.2v4.2h-4.2zM163.8,793.7h4.2v4.2h-4.2zM163.7,792.9h4.2v4.2h-4.2zM163.9,792.5h4.2v4.2h-4.2zM164.0,778.1h4.2v4.2h-4.2zM164.4,787.5h4.2v4.2h-4.2zM164.3,791.0h4.2v4.2h-4.2zM164.9,782.6h4.2v4.2h-4.2zM164.7,780.7h4.2v4.2h-4.2zM165.0,775.4h4.2v4.2h-4.2zM165.3,785.9h4.2v4.2h-4.2zM165.8,800.5h4.2v4.2h-4.2zM166.1,781.3h4.2v4.2h-4.2zM166.2,758.8h4.2v4.2h-4.2zM166.2,780.9h4.2v4.2h-4.2zM166.7,780.3h4.2v4.2h-4.2zM166.5,788.3h4.2v4.2h-4.2zM167.1,769.2h4.2v4.2h-4.2zM167.2,776.5h4.2v4.2h-4.2zM167.0,772.2h4.2v4.2h-4.2zM167.4,785.1h4.2v4.2h-4.2zM167.7,787.3h4.2v4.2h-4.2zM167.7,773.8h4.2v4.2h-4.2zM168.0,785.5h4.2v4.2h-4.2zM168.4,769.2h4.2v4.2h-4.2zM168.7,793.1h4.2v4.2h-4.2zM168.9,787.0h4.2v4.2h-4.2zM168.9,788.4h4.2v4.2h-4.2zM169.0,780.2h4.2v4.2h-4.2zM169.2,786.7h4.2v4.2h-4.2zM169.3,790.8h4.2v4.2h-4.2zM169.9,795.4h4.2v4.2h-4.2zM170.2,801.9h4.2v4.2h-4.2zM170.2,813.9h4.2v4.2h-4.2zM170.7,786.3h4.2v4.2h-4.2zM170.8,774.9h4.2v4.2h-4.2zM171.0,796.2h4.2v4.2h-4.2zM170.8,776.2h4.2v4.2h-4.2zM171.1,782.3h4.2v4.2h-4.2zM171.2,784.8h4.2v4.2h-4.2zM171.4,787.8h4.2v4.2h-4.2zM172.1,781.6h4.2v4.2h-4.2zM171.9,790.3h4.2v4.2h-4.2zM172.0,784.2h4.2v4.2h-4.2zM172.3,783.2h4.2v4.2h-4.2zM172.6,812.8h4.2v4.2h-4.2zM172.7,776.7h4.2v4.2h-4.2zM172.9,784.8h4.2v4.2h-4.2zM173.1,783.8h4.2v4.2h-4.2zM173.5,770.2h4.2v4.2h-4.2zM173.9,793.0h4.2v4.2h-4.2zM173.7,792.2h4.2v4.2h-4.2zM173.9,790.6h4.2v4.2h-4.2zM174.4,783.1h4.2v4.2h-4.2zM174.4,786.6h4.2v4.2h-4.2zM174.8,785.8h4.2v4.2h-4.2zM175.0,786.6h4.2v4.2h-4.2zM175.1,790.6h4.2v4.2h-4.2zM175.3,754.0h4.2v4.2h-4.2zM175.8,789.4h4.2v4.2h-4.2zM175.5,784.6h4.2v4.2h-4.2zM176.1,782.9h4.2v4.2h-4.2zM176.5,794.8h4.2v4.2h-4.2zM176.4,775.7h4.2v4.2h-4.2zM176.5,765.3h4.2v4.2h-4.2zM176.7,784.1h4.2v4.2h-4.2zM177.3,794.9h4.2v4.2h-4.2zM177.4,774.0h4.2v4.2h-4.2zM177.7,780.9h4.2v4.2h-4.2zM177.7,785.8h4.2v4.2h-4.2zM177.9,791.4h4.2v4.2h-4.2zM178.1,786.9h4.2v4.2h-4.2zM178.3,801.5h4.2v4.2h-4.2zM178.7,782.7h4.2v4.2h-4.2zM178.6,772.8h4.2v4.2h-4.2zM178.6,783.0h4.2v4.2h-4.2zM179.3,782.6h4.2v4.2h-4.2zM179.6,789.2h4.2v4.2h-4.2zM179.5,788.8h4.2v4.2h-4.2zM179.9,792.6h4.2v4.2h-4.2zM180.1,767.4h4.2v4.2h-4.2zM179.9,784.9h4.2v4.2h-4.2zM180.1,786.3h4.2v4.2h-4.2zM180.6,785.0h4.2v4.2h-4.2zM180.5,783.0h4.2v4.2h-4.2zM180.9,782.1h4.2v4.2h-4.2zM181.1,795.0h4.2v4.2h-4.2zM181.6,778.1h4.2v4.2h-4.2zM181.7,784.8h4.2v4.2h-4.2zM182.1,784.2h4.2v4.2h-4.2zM181.9,775.2h4.2v4.2h-4.2zM182.5,776.0h4.2v4.2h-4.2zM182.2,789.5h4.2v4.2h-4.2zM182.7,789.9h4.2v4.2h-4.2zM182.9,780.8h4.2v4.2h-4.2zM183.2,797.4h4.2v4.2h-4.2zM183.1,784.3h4.2v4.2h-4.2zM183.6,771.2h4.2v4.2h-4.2zM183.4,795.8h4.2v4.2h-4.2zM184.1,788.8h4.2v4.2h-4.2zM184.1,789.6h4.2v4.2h-4.2zM184.1,778.0h4.2v4.2h-4.2zM184.4,783.5h4.2v4.2h-4.2zM184.6,790.2h4.2v4.2h-4.2zM185.1,779.6h4.2v4.2h-4.2zM185.1,774.7h4.2v4.2h-4.2zM185.4,793.5h4.2v4.2h-4.2zM185.3,779.9h4.2v4.2h-4.2zM185.9,783.7h4.2v4.2h-4.2zM185.7,785.5h4.2v4.2h-4.2zM185.9,777.3h4.2v4.2h-4.2zM186.4,780.4h4.2v4.2h-4.2zM186.4,787.6h4.2v4.2h-4.2zM187.0,778.1h4.2v4.2h-4.2zM187.2,786.1h4.2v4.2h-4.2zM187.0,785.1h4.2v4.2h-4.2zM187.5,792.4h4.2v4.2h-4.2zM187.7,784.9h4.2v4.2h-4.2zM188.0,769.6h4.2v4.2h-4.2zM188.1,793.3h4.2v4.2h-4.2zM188.4,778.5h4.2v4.2h-4.2zM188.2,774.3h4.2v4.2h-4.2zM188.6,785.9h4.2v4.2h-4.2zM189.0,773.2h4.2v4.2h-4.2zM189.1,775.6h4.2v4.2h-4.2zM189.0,789.0h4.2v4.2h-4.2zM189.5,798.4h4.2v4.2h-4.2zM189.6,792.3h4.2v4.2h-4.2zM190.1,786.5h4.2v4.2h-4.2zM189.9,791.9h4.2v4.2h-4.2zM190.5,791.5h4.2v4.2h-4.2zM190.3,787.9h4.2v4.2h-4.2zM190.5,786.1h4.2v4.2h-4.2zM190.7,786.5h4.2v4.2h-4.2zM190.9,785.2h4.2v4.2h-4.2zM191.5,798.5h4.2v4.2h-4.2zM191.5,766.7h4.2v4.2h-4.2zM191.5,778.5h4.2v4.2h-4.2zM192.3,793.3h4.2v4.2h-4.2zM192.5,788.8h4.2v4.2h-4.2zM192.7,766.5h4.2v4.2h-4.2zM192.9,790.9h4.2v4.2h-4.2zM192.8,785.2h4.2v4.2h-4.2zM192.8,776.8h4.2v4.2h-4.2zM193.4,779.0h4.2v4.2h-4.2zM193.2,773.4h4.2v4.2h-4.2zM193.5,779.7h4.2v4.2h-4.2zM194.0,789.0h4.2v4.2h-4.2zM194.2,791.2h4.2v4.2h-4.2zM194.5,780.1h4.2v4.2h-4.2zM194.4,785.6h4.2v4.2h-4.2zM194.8,784.0h4.2v4.2h-4.2zM194.6,791.0h4.2v4.2h-4.2zM195.3,791.5h4.2v4.2h-4.2zM195.2,785.6h4.2v4.2h-4.2zM195.6,788.9h4.2v4.2h-4.2zM195.9,778.7h4.2v4.2h-4.2zM195.9,780.8h4.2v4.2h-4.2zM196.2,786.5h4.2v4.2h-4.2zM196.1,791.8h4.2v4.2h-4.2zM196.3,788.7h4.2v4.2h-4.2zM196.6,791.5h4.2v4.2h-4.2zM196.7,780.4h4.2v4.2h-4.2zM196.9,772.3h4.2v4.2h-4.2zM197.6,792.1h4.2v4.2h-4.2zM197.4,789.0h4.2v4.2h-4.2zM197.6,784.5h4.2v4.2h-4.2zM198.1,782.3h4.2v4.2h-4.2zM198.3,782.1h4.2v4.2h-4.2zM198.7,786.4h4.2v4.2h-4.2zM198.3,792.1h4.2v4.2h-4.2zM198.6,777.8h4.2v4.2h-4.2zM198.9,789.9h4.2v4.2h-4.2zM199.2,783.2h4.2v4.2h-4.2zM199.6,784.5h4.2v4.2h-4.2zM199.5,792.1h4.2v4.2h-4.2zM199.9,788.1h4.2v4.2h-4.2zM200.1,783.5h4.2v4.2h-4.2zM200.1,778.3h4.2v4.2h-4.2zM200.4,788.9h4.2v4.2h-4.2zM200.6,787.1h4.2v4.2h-4.2zM200.7,786.1h4.2v4.2h-4.2zM201.1,787.3h4.2v4.2h-4.2zM201.3,792.9h4.2v4.2h-4.2zM201.3,780.3h4.2v4.2h-4.2zM201.6,786.2h4.2v4.2h-4.2zM201.8,782.4h4.2v4.2h-4.2zM201.9,789.0h4.2v4.2h-4.2zM202.6,787.4h4.2v4.2h-4.2zM202.7,790.4h4.2v4.2h-4.2zM203.0,788.8h4.2v4.2h-4.2zM203.0,787.8h4.2v4.2h-4.2zM203.0,789.6h4.2v4.2h-4.2zM203.5,790.8h4.2v4.2h-4.2zM203.5,783.8h4.2v4.2h-4.2zM203.9,787.5h4.2v4.2h-4.2zM203.9,788.3h4.2v4.2h-4.2zM204.0,782.6h4.2v4.2h-4.2zM204.2,782.2h4.2v4.2h-4.2zM204.7,785.2h4.2v4.2h-4.2zM205.1,778.3h4.2v4.2h-4.2zM204.8,781.1h4.2v4.2h-4.2zM205.5,784.8h4.2v4.2h-4.2zM205.7,784.4h4.2v4.2h-4.2zM205.7,782.7h4.2v4.2h-4.2zM206.2,786.0h4.2v4.2h-4.2zM206.3,790.7h4.2v4.2h-4.2zM206.2,790.0h4.2v4.2h-4.2zM206.8,782.6h4.2v4.2h-4.2zM206.5,789.7h4.2v4.2h-4.2zM206.8,774.3h4.2v4.2h-4.2zM207.0,787.7h4.2v4.2h-4.2zM207.5,770.6h4.2v4.2h-4.2zM207.6,784.0h4.2v4.2h-4.2zM207.6,777.7h4.2v4.2h-4.2zM208.0,791.5h4.2v4.2h-4.2zM208.0,781.5h4.2v4.2h-4.2zM208.5,786.3h4.2v4.2h-4.2zM208.7,779.5h4.2v4.2h-4.2zM208.9,786.8h4.2v4.2h-4.2zM209.2,791.0h4.2v4.2h-4.2zM209.5,799.9h4.2v4.2h-4.2zM209.6,784.4h4.2v4.2h-4.2zM209.6,794.6h4.2v4.2h-4.2zM210.1,785.2h4.2v4.2h-4.2zM209.8,789.9h4.2v4.2h-4.2zM210.2,769.8h4.2v4.2h-4.2zM210.4,784.2h4.2v4.2h-4.2zM210.7,782.6h4.2v4.2h-4.2zM211.1,792.0h4.2v4.2h-4.2zM211.2,777.2h4.2v4.2h-4.2zM211.3,803.2h4.2v4.2h-4.2zM211.7,782.9h4.2v4.2h-4.2zM211.5,785.9h4.2v4.2h-4.2zM212.1,784.2h4.2v4.2h-4.2zM212.2,791.3h4.2v4.2h-4.2zM212.4,784.2h4.2v4.2h-4.2zM212.6,782.4h4.2v4.2h-4.2zM212.5,770.0h4.2v4.2h-4.2zM213.0,778.9h4.2v4.2h-4.2zM213.0,780.4h4.2v4.2h-4.2zM213.5,787.6h4.2v4.2h-4.2zM213.7,788.1h4.2v4.2h-4.2zM214.0,785.4h4.2v4.2h-4.2zM214.1,792.1h4.2v4.2h-4.2zM213.9,786.9h4.2v4.2h-4.2zM214.5,778.0h4.2v4.2h-4.2zM214.7,783.7h4.2v4.2h-4.2zM214.7,788.8h4.2v4.2h-4.2zM215.2,786.9h4.2v4.2h-4.2zM215.3,787.9h4.2v4.2h-4.2zM215.2,788.9h4.2v4.2h-4.2zM215.7,789.0h4.2v4.2h-4.2zM215.9,791.2h4.2v4.2h-4.2zM215.8,781.8h4.2v4.2h-4.2zM216.3,786.5h4.2v4.2h-4.2zM216.3,785.3h4.2v4.2h-4.2zM216.7,796.8h4.2v4.2h-4.2zM216.9,780.0h4.2v4.2h-4.2zM217.1,782.1h4.2v4.2h-4.2zM217.4,796.3h4.2v4.2h-4.2zM217.8,787.7h4.2v4.2h-4.2zM217.8,785.1h4.2v4.2h-4.2zM218.0,795.7h4.2v4.2h-4.2zM218.0,783.1h4.2v4.2h-4.2zM218.2,777.7h4.2v4.2h-4.2zM218.7,775.9h4.2v4.2h-4.2zM218.6,780.5h4.2v4.2h-4.2zM218.8,763.7h4.2v4.2h-4.2zM219.2,791.9h4.2v4.2h-4.2zM219.2,786.2h4.2v4.2h-4.2zM219.8,805.9h4.2v4.2h-4.2zM219.9,782.1h4.2v4.2h-4.2zM220.2,791.7h4.2v4.2h-4.2zM220.5,806.7h4.2v4.2h-4.2zM220.7,788.1h4.2v4.2h-4.2zM220.5,786.6h4.2v4.2h-4.2zM220.8,778.9h4.2v4.2h-4.2zM221.0,796.8h4.2v4.2h-4.2zM221.1,787.4h4.2v4.2h-4.2zM221.3,792.3h4.2v4.2h-4.2zM221.5,784.1h4.2v4.2h-4.2zM221.8,783.0h4.2v4.2h-4.2zM221.8,785.3h4.2v4.2h-4.2zM222.0,766.8h4.2v4.2h-4.2zM222.7,781.9h4.2v4.2h-4.2zM222.7,779.8h4.2v4.2h-4.2zM223.1,790.6h4.2v4.2h-4.2zM222.9,780.9h4.2v4.2h-4.2zM223.5,787.8h4.2v4.2h-4.2zM223.6,785.8h4.2v4.2h-4.2zM223.6,795.8h4.2v4.2h-4.2zM223.7,791.2h4.2v4.2h-4.2zM224.4,779.8h4.2v4.2h-4.2zM224.1,775.1h4.2v4.2h-4.2zM224.4,809.3h4.2v4.2h-4.2zM224.5,787.5h4.2v4.2h-4.2zM225.1,789.9h4.2v4.2h-4.2zM225.4,777.4h4.2v4.2h-4.2zM225.5,783.0h4.2v4.2h-4.2zM225.6,791.1h4.2v4.2h-4.2zM226.0,792.8h4.2v4.2h-4.2zM226.2,783.8h4.2v4.2h-4.2zM226.2,792.8h4.2v4.2h-4.2zM226.3,785.8h4.2v4.2h-4.2zM226.8,774.2h4.2v4.2h-4.2zM227.1,777.5h4.2v4.2h-4.2zM227.2,775.6h4.2v4.2h-4.2zM227.4,784.0h4.2v4.2h-4.2zM227.4,782.2h4.2v4.2h-4.2zM227.8,786.5h4.2v4.2h-4.2zM227.9,773.2h4.2v4.2h-4.2zM228.3,803.6h4.2v4.2h-4.2zM228.3,792.2h4.2v4.2h-4.2zM228.3,788.3h4.2v4.2h-4.2zM229.0,778.5h4.2v4.2h-4.2zM228.7,787.3h4.2v4.2h-4.2zM229.4,783.3h4.2v4.2h-4.2zM229.1,792.3h4.2v4.2h-4.2zM229.4,788.0h4.2v4.2h-4.2zM229.5,791.7h4.2v4.2h-4.2zM230.0,787.6h4.2v4.2h-4.2zM230.3,785.9h4.2v4.2h-4.2zM230.6,781.3h4.2v4.2h-4.2zM230.8,780.7h4.2v4.2h-4.2zM231.0,781.4h4.2v4.2h-4.2zM230.8,764.5h4.2v4.2h-4.2zM231.1,790.6h4.2v4.2h-4.2zM231.6,793.0h4.2v4.2h-4.2zM231.6,785.2h4.2v4.2h-4.2zM232.0,790.0h4.2v4.2h-4.2zM232.1,785.9h4.2v4.2h-4.2zM232.2,790.9h4.2v4.2h-4.2zM232.2,776.0h4.2v4.2h-4.2zM232.7,786.3h4.2v4.2h-4.2zM232.8,780.5h4.2v4.2h-4.2zM233.3,786.2h4.2v4.2h-4.2zM233.1,772.0h4.2v4.2h-4.2zM233.4,792.4h4.2v4.2h-4.2zM234.0,782.7h4.2v4.2h-4.2zM234.1,776.7h4.2v4.2h-4.2zM234.4,775.7h4.2v4.2h-4.2zM234.2,778.9h4.2v4.2h-4.2zM234.7,784.4h4.2v4.2h-4.2zM234.8,777.8h4.2v4.2h-4.2zM234.9,791.5h4.2v4.2h-4.2zM235.2,774.3h4.2v4.2h-4.2zM235.4,792.6h4.2v4.2h-4.2zM235.5,779.6h4.2v4.2h-4.2zM235.7,772.9h4.2v4.2h-4.2zM236.2,796.3h4.2v4.2h-4.2zM236.3,780.7h4.2v4.2h-4.2zM236.4,787.4h4.2v4.2h-4.2zM236.5,787.6h4.2v4.2h-4.2zM236.8,780.7h4.2v4.2h-4.2zM237.1,790.1h4.2v4.2h-4.2zM237.2,785.3h4.2v4.2h-4.2zM237.4,774.5h4.2v4.2h-4.2zM237.4,788.5h4.2v4.2h-4.2zM238.1,777.2h4.2v4.2h-4.2zM238.2,793.2h4.2v4.2h-4.2zM238.6,782.6h4.2v4.2h-4.2zM238.3,783.5h4.2v4.2h-4.2zM238.6,791.8h4.2v4.2h-4.2zM239.2,787.3h4.2v4.2h-4.2zM239.0,790.3h4.2v4.2h-4.2zM239.4,776.3h4.2v4.2h-4.2zM239.4,775.5h4.2v4.2h-4.2zM239.6,787.7h4.2v4.2h-4.2zM239.7,783.7h4.2v4.2h-4.2zM240.1,785.2h4.2v4.2h-4.2zM240.2,792.2h4.2v4.2h-4.2zM240.4,772.7h4.2v4.2h-4.2zM241.1,784.6h4.2v4.2h-4.2zM241.0,784.2h4.2v4.2h-4.2zM241.3,774.5h4.2v4.2h-4.2zM241.2,783.1h4.2v4.2h-4.2zM241.7,787.3h4.2v4.2h-4.2zM241.8,780.4h4.2v4.2h-4.2zM242.0,779.8h4.2v4.2h-4.2zM242.2,780.6h4.2v4.2h-4.2zM242.2,782.9h4.2v4.2h-4.2zM242.8,787.3h4.2v4.2h-4.2zM242.6,785.0h4.2v4.2h-4.2zM242.9,795.9h4.2v4.2h-4.2zM243.0,793.9h4.2v4.2h-4.2zM243.7,779.3h4.2v4.2h-4.2zM243.8,787.7h4.2v4.2h-4.2zM243.7,799.4h4.2v4.2h-4.2zM244.4,781.3h4.2v4.2h-4.2zM244.1,772.6h4.2v4.2h-4.2zM244.6,778.3h4.2v4.2h-4.2zM244.5,797.2h4.2v4.2h-4.2zM244.9,783.9h4.2v4.2h-4.2zM245.4,773.7h4.2v4.2h-4.2zM245.6,774.2h4.2v4.2h-4.2zM245.4,787.0h4.2v4.2h-4.2zM245.7,785.6h4.2v4.2h-4.2zM245.7,783.1h4.2v4.2h-4.2zM246.3,780.7h4.2v4.2h-4.2zM246.2,784.5h4.2v4.2h-4.2zM246.7,786.5h4.2v4.2h-4.2zM246.7,781.8h4.2v4.2h-4.2zM246.8,791.9h4.2v4.2h-4.2zM246.9,785.3h4.2v4.2h-4.2zM247.3,782.3h4.2v4.2h-4.2zM247.9,773.6h4.2v4.2h-4.2zM247.8,788.8h4.2v4.2h-4.2zM248.0,784.9h4.2v4.2h-4.2zM248.2,788.6h4.2v4.2h-4.2zM248.5,781.9h4.2v4.2h-4.2zM248.7,781.3h4.2v4.2h-4.2zM248.6,795.0h4.2v4.2h-4.2zM249.0,782.2h4.2v4.2h-4.2zM249.3,755.9h4.2v4.2h-4.2zM249.2,783.0h4.2v4.2h-4.2zM249.6,784.6h4.2v4.2h-4.2zM249.9,776.3h4.2v4.2h-4.2zM250.1,786.0h4.2v4.2h-4.2zM250.3,788.7h4.2v4.2h-4.2zM250.7,783.0h4.2v4.2h-4.2zM250.9,778.5h4.2v4.2h-4.2zM250.9,781.3h4.2v4.2h-4.2zM250.9,778.6h4.2v4.2h-4.2zM251.4,775.8h4.2v4.2h-4.2zM251.3,788.7h4.2v4.2h-4.2zM252.0,785.1h4.2v4.2h-4.2zM252.2,785.8h4.2v4.2h-4.2zM252.1,797.0h4.2v4.2h-4.2zM252.5,794.9h4.2v4.2h-4.2zM252.5,779.0h4.2v4.2h-4.2zM252.8,792.0h4.2v4.2h-4.2zM252.8,782.3h4.2v4.2h-4.2zM253.2,786.2h4.2v4.2h-4.2zM253.8,786.9h4.2v4.2h-4.2zM253.5,781.4h4.2v4.2h-4.2zM253.8,787.1h4.2v4.2h-4.2zM253.8,781.2h4.2v4.2h-4.2zM254.5,786.2h4.2v4.2h-4.2zM254.6,786.4h4.2v4.2h-4.2zM255.0,779.0h4.2v4.2h-4.2zM255.2,791.2h4.2v4.2h-4.2zM254.8,791.8h4.2v4.2h-4.2zM255.1,771.0h4.2v4.2h-4.2zM255.8,786.5h4.2v4.2h-4.2zM255.5,770.9h4.2v4.2h-4.2zM256.2,782.8h4.2v4.2h-4.2zM256.3,785.6h4.2v4.2h-4.2zM256.3,785.6h4.2v4.2h-4.2zM256.8,788.9h4.2v4.2h-4.2zM256.8,775.7h4.2v4.2h-4.2zM256.7,787.7h4.2v4.2h-4.2zM257.3,781.5h4.2v4.2h-4.2zM257.5,787.5h4.2v4.2h-4.2zM257.5,760.5h4.2v4.2h-4.2zM257.6,789.2h4.2v4.2h-4.2zM258.2,784.9h4.2v4.2h-4.2zM258.4,780.4h4.2v4.2h-4.2zM258.6,791.5h4.2v4.2h-4.2zM258.6,777.7h4.2v4.2h-4.2zM259.1,803.7h4.2v4.2h-4.2zM259.2,787.1h4.2v4.2h-4.2zM259.5,786.4h4.2v4.2h-4.2zM259.7,780.7h4.2v4.2h-4.2zM259.5,779.7h4.2v4.2h-4.2zM259.7,778.0h4.2v4.2h-4.2zM260.4,789.4h4.2v4.2h-4.2zM260.0,794.2h4.2v4.2h-4.2zM260.3,784.9h4.2v4.2h-4.2zM260.6,783.1h4.2v4.2h-4.2zM260.6,777.1h4.2v4.2h-4.2zM260.9,791.3h4.2v4.2h-4.2zM261.5,782.3h4.2v4.2h-4.2zM261.5,787.6h4.2v4.2h-4.2zM261.8,773.4h4.2v4.2h-4.2zM262.1,776.6h4.2v4.2h-4.2zM262.0,778.5h4.2v4.2h-4.2zM262.5,780.9h4.2v4.2h-4.2zM262.9,781.1h4.2v4.2h-4.2zM263.0,780.8h4.2v4.2h-4.2zM262.8,784.8h4.2v4.2h-4.2zM263.0,792.7h4.2v4.2h-4.2zM263.2,785.8h4.2v4.2h-4.2zM263.8,787.6h4.2v4.2h-4.2zM263.6,774.9h4.2v4.2h-4.2zM263.9,802.8h4.2v4.2h-4.2zM264.2,777.7h4.2v4.2h-4.2zM264.2,773.0h4.2v4.2h-4.2zM264.9,784.7h4.2v4.2h-4.2zM264.7,790.2h4.2v4.2h-4.2zM265.0,801.2h4.2v4.2h-4.2zM265.5,787.3h4.2v4.2h-4.2zM265.7,793.3h4.2v4.2h-4.2zM265.5,784.2h4.2v4.2h-4.2zM265.9,770.6h4.2v4.2h-4.2zM266.1,784.2h4.2v4.2h-4.2zM266.5,770.6h4.2v4.2h-4.2zM266.3,785.3h4.2v4.2h-4.2zM266.9,797.3h4.2v4.2h-4.2zM267.1,771.0h4.2v4.2h-4.2zM266.9,805.6h4.2v4.2h-4.2zM267.2,787.7h4.2v4.2h-4.2zM267.3,787.7h4.2v4.2h-4.2zM267.8,788.4h4.2v4.2h-4.2zM267.9,784.2h4.2v4.2h-4.2zM268.5,782.4h4.2v4.2h-4.2zM268.4,785.1h4.2v4.2h-4.2zM268.5,794.1h4.2v4.2h-4.2zM269.1,785.0h4.2v4.2h-4.2zM268.9,779.7h4.2v4.2h-4.2zM269.4,793.2h4.2v4.2h-4.2zM269.6,792.0h4.2v4.2h-4.2zM269.4,784.4h4.2v4.2h-4.2zM270.1,775.2h4.2v4.2h-4.2zM270.0,777.7h4.2v4.2h-4.2zM270.4,774.1h4.2v4.2h-4.2zM270.6,784.9h4.2v4.2h-4.2zM270.6,790.9h4.2v4.2h-4.2zM271.2,784.5h4.2v4.2h-4.2zM270.9,784.8h4.2v4.2h-4.2zM271.3,790.2h4.2v4.2h-4.2zM271.7,784.2h4.2v4.2h-4.2zM271.9,792.3h4.2v4.2h-4.2zM271.8,783.5h4.2v4.2h-4.2zM272.4,794.3h4.2v4.2h-4.2zM272.6,781.0h4.2v4.2h-4.2zM272.3,790.2h4.2v4.2h-4.2zM273.0,781.3h4.2v4.2h-4.2zM273.0,788.6h4.2v4.2h-4.2zM273.3,793.4h4.2v4.2h-4.2zM273.7,785.3h4.2v4.2h-4.2zM273.4,778.4h4.2v4.2h-4.2zM274.1,791.9h4.2v4.2h-4.2zM273.8,785.1h4.2v4.2h-4.2zM274.0,783.4h4.2v4.2h-4.2zM274.5,791.8h4.2v4.2h-4.2zM274.6,776.5h4.2v4.2h-4.2zM275.0,770.7h4.2v4.2h-4.2zM275.3,771.5h4.2v4.2h-4.2zM275.5,792.4h4.2v4.2h-4.2zM275.5,793.2h4.2v4.2h-4.2zM275.8,777.7h4.2v4.2h-4.2zM275.7,780.7h4.2v4.2h-4.2zM276.4,787.4h4.2v4.2h-4.2zM276.3,778.8h4.2v4.2h-4.2zM276.8,785.4h4.2v4.2h-4.2zM276.8,787.3h4.2v4.2h-4.2zM276.6,779.6h4.2v4.2h-4.2zM277.2,798.5h4.2v4.2h-4.2zM277.3,782.5h4.2v4.2h-4.2zM277.8,781.2h4.2v4.2h-4.2zM278.0,780.7h4.2v4.2h-4.2zM277.7,808.4h4.2v4.2h-4.2zM278.3,773.4h4.2v4.2h-4.2zM278.7,792.1h4.2v4.2h-4.2zM278.5,780.1h4.2v4.2h-4.2zM278.7,772.9h4.2v4.2h-4.2zM279.0,778.5h4.2v4.2h-4.2zM279.0,773.2h4.2v4.2h-4.2zM279.4,785.5h4.2v4.2h-4.2zM279.5,786.8h4.2v4.2h-4.2zM280.1,794.2h4.2v4.2h-4.2zM280.0,780.5h4.2v4.2h-4.2zM280.2,774.1h4.2v4.2h-4.2zM280.4,780.3h4.2v4.2h-4.2zM280.6,791.1h4.2v4.2h-4.2zM280.7,779.4h4.2v4.2h-4.2zM280.8,784.4h4.2v4.2h-4.2zM281.4,792.8h4.2v4.2h-4.2zM281.4,789.4h4.2v4.2h-4.2zM281.6,780.3h4.2v4.2h-4.2zM281.9,768.4h4.2v4.2h-4.2zM281.9,785.8h4.2v4.2h-4.2zM282.4,782.6h4.2v4.2h-4.2zM282.4,793.0h4.2v4.2h-4.2zM282.8,793.2h4.2v4.2h-4.2zM282.8,789.8h4.2v4.2h-4.2zM283.1,775.4h4.2v4.2h-4.2zM283.6,791.3h4.2v4.2h-4.2zM283.6,783.1h4.2v4.2h-4.2zM283.7,786.3h4.2v4.2h-4.2zM283.9,782.2h4.2v4.2h-4.2zM284.0,792.2h4.2v4.2h-4.2zM284.4,780.3h4.2v4.2h-4.2zM284.3,783.9h4.2v4.2h-4.2zM285.0,782.5h4.2v4.2h-4.2zM284.9,781.4h4.2v4.2h-4.2zM285.3,779.7h4.2v4.2h-4.2zM285.4,781.4h4.2v4.2h-4.2zM285.8,781.4h4.2v4.2h-4.2zM286.0,791.2h4.2v4.2h-4.2zM285.8,782.8h4.2v4.2h-4.2zM286.5,783.5h4.2v4.2h-4.2zM286.6,785.4h4.2v4.2h-4.2zM286.6,791.9h4.2v4.2h-4.2zM287.2,789.9h4.2v4.2h-4.2zM287.1,777.9h4.2v4.2h-4.2zM287.1,787.3h4.2v4.2h-4.2zM287.5,784.1h4.2v4.2h-4.2zM287.9,778.9h4.2v4.2h-4.2zM288.0,790.8h4.2v4.2h-4.2zM288.3,780.1h4.2v4.2h-4.2zM288.2,792.4h4.2v4.2h-4.2zM288.6,784.0h4.2v4.2h-4.2zM288.6,786.2h4.2v4.2h-4.2zM289.2,790.5h4.2v4.2h-4.2zM289.3,789.5h4.2v4.2h-4.2zM289.4,780.4h4.2v4.2h-4.2zM289.6,787.6h4.2v4.2h-4.2zM290.0,780.1h4.2v4.2h-4.2zM290.3,786.6h4.2v4.2h-4.2zM290.0,791.3h4.2v4.2h-4.2zM290.4,772.8h4.2v4.2h-4.2zM290.9,780.2h4.2v4.2h-4.2zM290.8,790.6h4.2v4.2h-4.2zM291.1,782.0h4.2v4.2h-4.2zM291.4,781.1h4.2v4.2h-4.2zM291.5,760.2h4.2v4.2h-4.2zM291.5,781.6h4.2v4.2h-4.2zM291.7,792.3h4.2v4.2h-4.2zM291.8,773.7h4.2v4.2h-4.2zM292.2,781.6h4.2v4.2h-4.2zM292.6,770.7h4.2v4.2h-4.2zM292.7,777.9h4.2v4.2h-4.2zM292.8,790.4h4.2v4.2h-4.2zM293.3,791.0h4.2v4.2h-4.2zM293.4,790.3h4.2v4.2h-4.2zM293.8,778.4h4.2v4.2h-4.2zM293.7,778.4h4.2v4.2h-4.2zM294.1,784.9h4.2v4.2h-4.2zM294.1,779.5h4.2v4.2h-4.2zM294.2,785.5h4.2v4.2h-4.2zM294.4,784.4h4.2v4.2h-4.2zM295.1,778.6h4.2v4.2h-4.2zM295.1,786.6h4.2v4.2h-4.2zM294.9,787.0h4.2v4.2h-4.2zM295.2,783.2h4.2v4.2h-4.2zM295.3,779.2h4.2v4.2h-4.2zM295.9,781.5h4.2v4.2h-4.2zM296.3,782.6h4.2v4.2h-4.2zM296.2,779.7h4.2v4.2h-4.2zM296.4,781.4h4.2v4.2h-4.2zM296.4,788.3h4.2v4.2h-4.2zM296.7,800.4h4.2v4.2h-4.2zM296.8,776.5h4.2v4.2h-4.2zM297.2,786.5h4.2v4.2h-4.2zM297.2,792.8h4.2v4.2h-4.2zM297.8,776.8h4.2v4.2h-4.2zM298.1,789.5h4.2v4.2h-4.2zM298.4,783.6h4.2v4.2h-4.2zM298.0,791.8h4.2v4.2h-4.2zM298.6,768.8h4.2v4.2h-4.2zM298.8,778.3h4.2v4.2h-4.2zM298.7,783.7h4.2v4.2h-4.2zM299.4,758.7h4.2v4.2h-4.2zM299.4,786.9h4.2v4.2h-4.2zM299.4,783.2h4.2v4.2h-4.2zM299.6,780.1h4.2v4.2h-4.2zM299.7,779.4h4.2v4.2h-4.2zM300.3,783.4h4.2v4.2h-4.2zM300.3,775.1h4.2v4.2h-4.2zM300.6,773.8h4.2v4.2h-4.2zM300.9,784.5h4.2v4.2h-4.2zM300.8,782.1h4.2v4.2h-4.2zM301.4,780.8h4.2v4.2h-4.2zM301.6,793.9h4.2v4.2h-4.2zM301.8,789.9h4.2v4.2h-4.2zM302.1,775.7h4.2v4.2h-4.2zM302.2,781.3h4.2v4.2h-4.2zM302.3,782.5h4.2v4.2h-4.2zM302.7,782.6h4.2v4.2h-4.2zM302.5,775.9h4.2v4.2h-4.2zM303.0,802.2h4.2v4.2h-4.2zM303.0,781.3h4.2v4.2h-4.2zM303.4,783.9h4.2v4.2h-4.2zM303.7,776.4h4.2v4.2h-4.2zM303.8,770.0h4.2v4.2h-4.2zM303.7,782.8h4.2v4.2h-4.2zM304.0,783.5h4.2v4.2h-4.2zM304.0,788.7h4.2v4.2h-4.2zM304.4,797.1h4.2v4.2h-4.2zM304.7,781.7h4.2v4.2h-4.2zM304.9,789.0h4.2v4.2h-4.2zM305.1,783.9h4.2v4.2h-4.2zM305.5,790.4h4.2v4.2h-4.2zM305.3,789.1h4.2v4.2h-4.2zM305.7,799.8h4.2v4.2h-4.2zM305.9,785.1h4.2v4.2h-4.2zM305.9,777.0h4.2v4.2h-4.2zM306.5,795.1h4.2v4.2h-4.2zM306.5,790.1h4.2v4.2h-4.2zM307.0,790.2h4.2v4.2h-4.2zM307.0,776.9h4.2v4.2h-4.2zM307.3,781.7h4.2v4.2h-4.2zM307.6,774.6h4.2v4.2h-4.2zM307.9,781.3h4.2v4.2h-4.2zM307.7,782.1h4.2v4.2h-4.2zM308.3,774.5h4.2v4.2h-4.2zM308.3,787.2h4.2v4.2h-4.2zM308.3,794.5h4.2v4.2h-4.2zM308.8,782.0h4.2v4.2h-4.2zM309.1,792.6h4.2v4.2h-4.2zM308.9,777.7h4.2v4.2h-4.2zM309.6,781.7h4.2v4.2h-4.2zM309.7,783.6h4.2v4.2h-4.2zM309.9,762.4h4.2v4.2h-4.2zM309.9,783.1h4.2v4.2h-4.2zM310.4,787.7h4.2v4.2h-4.2zM310.1,782.7h4.2v4.2h-4.2zM310.5,780.9h4.2v4.2h-4.2zM310.5,784.8h4.2v4.2h-4.2zM311.2,782.7h4.2v4.2h-4.2zM311.0,784.6h4.2v4.2h-4.2zM311.5,790.0h4.2v4.2h-4.2zM311.5,785.7h4.2v4.2h-4.2zM311.7,771.6h4.2v4.2h-4.2zM311.8,783.4h4.2v4.2h-4.2zM312.0,793.2h4.2v4.2h-4.2zM312.6,790.0h4.2v4.2h-4.2zM312.6,782.4h4.2v4.2h-4.2zM312.8,788.2h4.2v4.2h-4.2zM312.9,786.5h4.2v4.2h-4.2zM313.5,781.9h4.2v4.2h-4.2zM313.6,779.5h4.2v4.2h-4.2zM313.8,788.4h4.2v4.2h-4.2zM313.8,787.6h4.2v4.2h-4.2zM313.9,793.1h4.2v4.2h-4.2zM314.4,784.0h4.2v4.2h-4.2zM314.3,788.7h4.2v4.2h-4.2zM314.9,780.1h4.2v4.2h-4.2zM315.2,782.2h4.2v4.2h-4.2zM315.2,791.4h4.2v4.2h-4.2zM315.5,781.0h4.2v4.2h-4.2zM315.8,774.6h4.2v4.2h-4.2zM316.0,793.8h4.2v4.2h-4.2zM316.2,790.5h4.2v4.2h-4.2zM315.9,790.6h4.2v4.2h-4.2zM316.4,782.1h4.2v4.2h-4.2zM316.4,790.7h4.2v4.2h-4.2zM316.8,786.6h4.2v4.2h-4.2zM316.8,779.5h4.2v4.2h-4.2zM316.9,773.9h4.2v4.2h-4.2zM317.6,782.9h4.2v4.2h-4.2zM317.4,784.9h4.2v4.2h-4.2zM317.6,775.7h4.2v4.2h-4.2zM317.9,784.3h4.2v4.2h-4.2zM318.3,805.8h4.2v4.2h-4.2zM318.4,787.4h4.2v4.2h-4.2zM318.7,787.0h4.2v4.2h-4.2zM318.8,776.1h4.2v4.2h-4.2zM319.3,793.5h4.2v4.2h-4.2zM319.5,782.9h4.2v4.2h-4.2zM319.7,775.9h4.2v4.2h-4.2zM319.8,790.9h4.2v4.2h-4.2zM319.9,786.5h4.2v4.2h-4.2zM320.1,789.9h4.2v4.2h-4.2zM320.4,781.7h4.2v4.2h-4.2zM320.7,780.3h4.2v4.2h-4.2zM320.8,784.0h4.2v4.2h-4.2zM321.0,786.6h4.2v4.2h-4.2zM321.3,786.9h4.2v4.2h-4.2zM321.4,786.1h4.2v4.2h-4.2zM321.8,780.3h4.2v4.2h-4.2zM321.9,784.4h4.2v4.2h-4.2zM322.1,778.2h4.2v4.2h-4.2zM322.0,775.5h4.2v4.2h-4.2zM322.3,763.8h4.2v4.2h-4.2zM322.4,791.1h4.2v4.2h-4.2zM323.0,779.2h4.2v4.2h-4.2zM323.3,786.7h4.2v4.2h-4.2zM323.3,799.1h4.2v4.2h-4.2zM323.6,792.6h4.2v4.2h-4.2zM323.9,782.5h4.2v4.2h-4.2zM324.1,786.2h4.2v4.2h-4.2zM323.9,791.0h4.2v4.2h-4.2zM324.3,791.4h4.2v4.2h-4.2zM324.7,785.3h4.2v4.2h-4.2zM324.7,790.4h4.2v4.2h-4.2zM324.9,789.1h4.2v4.2h-4.2zM324.8,785.7h4.2v4.2h-4.2zM325.3,793.5h4.2v4.2h-4.2zM325.5,779.4h4.2v4.2h-4.2zM325.9,775.6h4.2v4.2h-4.2zM325.8,783.0h4.2v4.2h-4.2zM325.9,792.6h4.2v4.2h-4.2zM326.4,775.8h4.2v4.2h-4.2zM326.3,777.8h4.2v4.2h-4.2zM326.9,801.7h4.2v4.2h-4.2zM327.2,794.2h4.2v4.2h-4.2zM327.2,790.1h4.2v4.2h-4.2zM327.2,785.4h4.2v4.2h-4.2zM327.8,785.0h4.2v4.2h-4.2zM327.9,783.7h4.2v4.2h-4.2zM327.9,782.7h4.2v4.2h-4.2zM328.2,787.6h4.2v4.2h-4.2zM328.7,772.0h4.2v4.2h-4.2zM328.6,792.4h4.2v4.2h-4.2zM328.6,789.5h4.2v4.2h-4.2zM329.1,791.7h4.2v4.2h-4.2zM329.1,774.4h4.2v4.2h-4.2zM329.2,789.7h4.2v4.2h-4.2zM329.8,780.6h4.2v4.2h-4.2zM329.8,786.8h4.2v4.2h-4.2zM330.0,784.3h4.2v4.2h-4.2zM330.0,794.7h4.2v4.2h-4.2zM330.6,789.2h4.2v4.2h-4.2zM330.5,785.7h4.2v4.2h-4.2zM331.1,789.3h4.2v4.2h-4.2zM331.2,785.6h4.2v4.2h-4.2zM331.0,797.0h4.2v4.2h-4.2zM331.5,791.0h4.2v4.2h-4.2zM332.0,786.0h4.2v4.2h-4.2zM331.9,773.2h4.2v4.2h-4.2zM332.0,783.1h4.2v4.2h-4.2zM332.5,781.9h4.2v4.2h-4.2zM332.6,789.8h4.2v4.2h-4.2zM332.7,781.4h4.2v4.2h-4.2zM333.1,784.8h4.2v4.2h-4.2zM333.0,773.9h4.2v4.2h-4.2zM333.5,789.3h4.2v4.2h-4.2zM333.7,801.3h4.2v4.2h-4.2zM333.8,791.8h4.2v4.2h-4.2zM334.2,781.5h4.2v4.2h-4.2zM334.2,783.0h4.2v4.2h-4.2zM334.4,784.2h4.2v4.2h-4.2zM334.8,784.8h4.2v4.2h-4.2zM335.1,781.8h4.2v4.2h-4.2zM334.9,787.6h4.2v4.2h-4.2zM335.5,781.7h4.2v4.2h-4.2zM335.5,798.4h4.2v4.2h-4.2zM335.9,782.5h4.2v4.2h-4.2zM335.7,780.7h4.2v4.2h-4.2zM336.2,778.3h4.2v4.2h-4.2zM336.2,784.9h4.2v4.2h-4.2zM336.3,787.3h4.2v4.2h-4.2zM336.8,778.6h4.2v4.2h-4.2zM337.1,803.8h4.2v4.2h-4.2zM336.9,768.9h4.2v4.2h-4.2zM337.1,805.5h4.2v4.2h-4.2zM337.7,778.3h4.2v4.2h-4.2zM337.5,791.2h4.2v4.2h-4.2zM337.9,779.7h4.2v4.2h-4.2zM338.2,786.4h4.2v4.2h-4.2zM338.2,788.0h4.2v4.2h-4.2zM338.8,785.5h4.2v4.2h-4.2zM339.1,783.5h4.2v4.2h-4.2zM338.9,786.8h4.2v4.2h-4.2zM339.3,784.7h4.2v4.2h-4.2zM339.5,794.4h4.2v4.2h-4.2zM339.7,786.4h4.2v4.2h-4.2zM340.1,791.4h4.2v4.2h-4.2zM340.1,787.2h4.2v4.2h-4.2zM340.0,780.0h4.2v4.2h-4.2zM340.2,791.4h4.2v4.2h-4.2zM340.9,786.7h4.2v4.2h-4.2zM340.9,780.1h4.2v4.2h-4.2zM341.2,777.5h4.2v4.2h-4.2zM341.5,784.0h4.2v4.2h-4.2zM341.5,791.2h4.2v4.2h-4.2zM341.5,779.3h4.2v4.2h-4.2zM341.9,787.1h4.2v4.2h-4.2zM342.1,792.4h4.2v4.2h-4.2zM342.5,784.9h4.2v4.2h-4.2zM342.3,798.9h4.2v4.2h-4.2zM342.7,791.2h4.2v4.2h-4.2zM342.8,781.1h4.2v4.2h-4.2zM343.1,793.9h4.2v4.2h-4.2zM343.5,785.0h4.2v4.2h-4.2zM343.6,802.4h4.2v4.2h-4.2zM343.7,786.8h4.2v4.2h-4.2zM344.2,784.3h4.2v4.2h-4.2zM344.1,785.1h4.2v4.2h-4.2zM344.7,789.3h4.2v4.2h-4.2zM344.9,796.9h4.2v4.2h-4.2zM344.7,789.3h4.2v4.2h-4.2zM345.2,785.7h4.2v4.2h-4.2zM345.2,804.2h4.2v4.2h-4.2zM345.6,788.7h4.2v4.2h-4.2zM345.5,799.9h4.2v4.2h-4.2zM345.8,793.4h4.2v4.2h-4.2zM346.0,795.5h4.2v4.2h-4.2zM346.5,786.1h4.2v4.2h-4.2zM346.7,787.6h4.2v4.2h-4.2zM346.9,789.0h4.2v4.2h-4.2zM346.7,791.1h4.2v4.2h-4.2zM347.0,799.8h4.2v4.2h-4.2zM347.0,791.5h4.2v4.2h-4.2zM347.5,784.3h4.2v4.2h-4.2zM347.9,772.2h4.2v4.2h-4.2zM348.2,776.9h4.2v4.2h-4.2zM348.0,796.2h4.2v4.2h-4.2zM348.6,792.7h4.2v4.2h-4.2zM348.7,788.6h4.2v4.2h-4.2zM349.0,800.4h4.2v4.2h-4.2zM348.8,783.8h4.2v4.2h-4.2zM349.1,795.9h4.2v4.2h-4.2zM349.5,779.8h4.2v4.2h-4.2zM349.8,783.2h4.2v4.2h-4.2zM350.0,779.3h4.2v4.2h-4.2zM349.8,790.6h4.2v4.2h-4.2zM350.3,777.9h4.2v4.2h-4.2zM350.5,789.9h4.2v4.2h-4.2zM350.8,792.5h4.2v4.2h-4.2zM350.7,782.3h4.2v4.2h-4.2zM351.3,790.9h4.2v4.2h-4.2zM351.5,792.5h4.2v4.2h-4.2zM351.3,782.4h4.2v4.2h-4.2zM351.5,792.8h4.2v4.2h-4.2zM352.0,786.9h4.2v4.2h-4.2zM352.0,793.8h4.2v4.2h-4.2zM352.2,796.3h4.2v4.2h-4.2zM352.3,781.8h4.2v4.2h-4.2zM352.5,788.2h4.2v4.2h-4.2zM352.7,784.6h4.2v4.2h-4.2zM353.1,802.4h4.2v4.2h-4.2zM353.6,789.8h4.2v4.2h-4.2zM353.3,787.6h4.2v4.2h-4.2zM353.6,792.9h4.2v4.2h-4.2zM354.0,793.0h4.2v4.2h-4.2zM354.2,788.3h4.2v4.2h-4.2zM354.5,801.6h4.2v4.2h-4.2zM354.3,790.8h4.2v4.2h-4.2zM354.7,781.5h4.2v4.2h-4.2zM355.0,793.5h4.2v4.2h-4.2zM355.2,796.5h4.2v4.2h-4.2zM355.5,805.3h4.2v4.2h-4.2zM355.7,787.0h4.2v4.2h-4.2zM356.0,794.3h4.2v4.2h-4.2zM355.8,786.9h4.2v4.2h-4.2zM356.2,801.3h4.2v4.2h-4.2zM356.5,798.6h4.2v4.2h-4.2zM356.5,797.0h4.2v4.2h-4.2zM356.7,791.5h4.2v4.2h-4.2zM356.8,790.8h4.2v4.2h-4.2zM357.6,786.4h4.2v4.2h-4.2zM357.8,815.6h4.2v4.2h-4.2zM357.4,781.6h4.2v4.2h-4.2zM357.6,802.1h4.2v4.2h-4.2zM358.3,778.7h4.2v4.2h-4.2zM358.6,794.9h4.2v4.2h-4.2zM358.7,790.2h4.2v4.2h-4.2zM358.7,776.6h4.2v4.2h-4.2zM359.1,819.1h4.2v4.2h-4.2zM359.0,784.5h4.2v4.2h-4.2zM359.3,799.1h4.2v4.2h-4.2zM359.3,795.9h4.2v4.2h-4.2zM359.6,796.4h4.2v4.2h-4.2zM359.7,793.1h4.2v4.2h-4.2zM360.4,794.0h4.2v4.2h-4.2zM360.4,784.9h4.2v4.2h-4.2zM360.7,783.8h4.2v4.2h-4.2zM360.8,802.9h4.2v4.2h-4.2zM360.8,792.9h4.2v4.2h-4.2zM361.0,789.2h4.2v4.2h-4.2zM361.3,795.8h4.2v4.2h-4.2zM361.5,791.7h4.2v4.2h-4.2zM361.8,782.2h4.2v4.2h-4.2zM362.1,778.1h4.2v4.2h-4.2zM362.6,795.3h4.2v4.2h-4.2zM362.4,786.7h4.2v4.2h-4.2zM362.6,792.1h4.2v4.2h-4.2zM362.7,790.6h4.2v4.2h-4.2zM362.9,796.0h4.2v4.2h-4.2zM363.5,791.6h4.2v4.2h-4.2zM363.3,790.4h4.2v4.2h-4.2zM363.5,783.9h4.2v4.2h-4.2zM363.7,785.6h4.2v4.2h-4.2zM364.2,788.7h4.2v4.2h-4.2zM364.4,790.1h4.2v4.2h-4.2zM364.8,795.1h4.2v4.2h-4.2zM365.0,784.9h4.2v4.2h-4.2zM364.8,797.3h4.2v4.2h-4.2zM365.4,794.9h4.2v4.2h-4.2zM365.3,786.2h4.2v4.2h-4.2zM365.5,792.5h4.2v4.2h-4.2zM365.6,788.1h4.2v4.2h-4.2zM366.3,776.1h4.2v4.2h-4.2zM366.0,796.5h4.2v4.2h-4.2zM366.3,792.9h4.2v4.2h-4.2zM366.7,798.3h4.2v4.2h-4.2zM366.9,790.2h4.2v4.2h-4.2zM367.1,785.3h4.2v4.2h-4.2zM367.2,782.1h4.2v4.2h-4.2zM367.8,783.8h4.2v4.2h-4.2zM367.7,787.8h4.2v4.2h-4.2zM367.9,791.0h4.2v4.2h-4.2zM368.0,784.4h4.2v4.2h-4.2zM368.1,791.2h4.2v4.2h-4.2zM368.3,797.0h4.2v4.2h-4.2zM368.5,798.5h4.2v4.2h-4.2zM368.9,794.3h4.2v4.2h-4.2zM368.9,798.2h4.2v4.2h-4.2zM369.4,792.6h4.2v4.2h-4.2zM369.8,800.6h4.2v4.2h-4.2zM369.7,797.6h4.2v4.2h-4.2zM370.0,782.5h4.2v4.2h-4.2zM370.3,781.9h4.2v4.2h-4.2zM370.6,796.2h4.2v4.2h-4.2zM370.7,806.7h4.2v4.2h-4.2zM370.8,802.1h4.2v4.2h-4.2zM370.8,791.4h4.2v4.2h-4.2zM371.5,797.9h4.2v4.2h-4.2zM371.5,787.7h4.2v4.2h-4.2zM371.7,781.0h4.2v4.2h-4.2zM371.9,792.6h4.2v4.2h-4.2zM371.8,793.1h4.2v4.2h-4.2zM372.1,794.7h4.2v4.2h-4.2zM372.5,785.4h4.2v4.2h-4.2zM372.6,789.6h4.2v4.2h-4.2zM372.9,780.2h4.2v4.2h-4.2zM372.8,789.1h4.2v4.2h-4.2zM373.3,789.9h4.2v4.2h-4.2zM373.3,796.4h4.2v4.2h-4.2zM373.8,796.6h4.2v4.2h-4.2zM374.0,787.1h4.2v4.2h-4.2zM374.3,792.5h4.2v4.2h-4.2zM374.1,785.1h4.2v4.2h-4.2zM374.6,787.5h4.2v4.2h-4.2zM374.7,794.0h4.2v4.2h-4.2zM374.9,793.1h4.2v4.2h-4.2zM375.1,784.9h4.2v4.2h-4.2zM375.5,785.8h4.2v4.2h-4.2zM375.4,785.9h4.2v4.2h-4.2zM375.9,795.5h4.2v4.2h-4.2zM375.7,800.9h4.2v4.2h-4.2zM376.1,795.0h4.2v4.2h-4.2zM376.1,778.0h4.2v4.2h-4.2zM376.9,786.7h4.2v4.2h-4.2zM376.7,790.6h4.2v4.2h-4.2zM377.1,792.1h4.2v4.2h-4.2zM377.4,795.4h4.2v4.2h-4.2zM377.5,787.6h4.2v4.2h-4.2zM377.5,774.6h4.2v4.2h-4.2zM378.1,790.1h4.2v4.2h-4.2zM378.0,787.8h4.2v4.2h-4.2zM378.1,790.5h4.2v4.2h-4.2zM378.2,799.4h4.2v4.2h-4.2zM378.5,787.0h4.2v4.2h-4.2zM378.7,785.1h4.2v4.2h-4.2zM379.2,797.4h4.2v4.2h-4.2zM379.1,803.2h4.2v4.2h-4.2zM379.5,797.7h4.2v4.2h-4.2zM379.4,790.6h4.2v4.2h-4.2zM380.1,784.2h4.2v4.2h-4.2zM380.1,794.8h4.2v4.2h-4.2zM380.3,790.6h4.2v4.2h-4.2zM380.4,818.9h4.2v4.2h-4.2zM380.8,787.0h4.2v4.2h-4.2zM380.9,781.6h4.2v4.2h-4.2zM381.1,796.2h4.2v4.2h-4.2zM381.6,776.6h4.2v4.2h-4.2zM381.9,779.8h4.2v4.2h-4.2zM382.1,793.7h4.2v4.2h-4.2zM382.3,795.8h4.2v4.2h-4.2zM382.3,784.9h4.2v4.2h-4.2zM382.4,789.2h4.2v4.2h-4.2zM382.3,814.0h4.2v4.2h-4.2zM382.6,777.8h4.2v4.2h-4.2zM382.8,784.9h4.2v4.2h-4.2zM383.1,796.0h4.2v4.2h-4.2zM383.2,784.6h4.2v4.2h-4.2zM383.8,777.7h4.2v4.2h-4.2zM383.8,785.8h4.2v4.2h-4.2zM384.0,784.0h4.2v4.2h-4.2zM384.5,790.3h4.2v4.2h-4.2zM384.5,793.4h4.2v4.2h-4.2zM384.5,797.1h4.2v4.2h-4.2zM384.8,787.7h4.2v4.2h-4.2zM385.3,787.1h4.2v4.2h-4.2zM385.6,800.4h4.2v4.2h-4.2zM385.3,791.0h4.2v4.2h-4.2zM385.8,797.4h4.2v4.2h-4.2zM386.2,785.2h4.2v4.2h-4.2zM385.9,794.0h4.2v4.2h-4.2zM386.3,783.8h4.2v4.2h-4.2zM386.3,786.2h4.2v4.2h-4.2zM386.8,810.2h4.2v4.2h-4.2zM386.8,783.8h4.2v4.2h-4.2zM387.5,793.1h4.2v4.2h-4.2zM387.5,796.3h4.2v4.2h-4.2zM387.8,784.4h4.2v4.2h-4.2zM388.0,793.2h4.2v4.2h-4.2zM388.1,785.5h4.2v4.2h-4.2zM388.0,793.1h4.2v4.2h-4.2zM388.2,798.4h4.2v4.2h-4.2zM388.6,797.4h4.2v4.2h-4.2zM388.6,781.0h4.2v4.2h-4.2zM388.9,792.9h4.2v4.2h-4.2zM389.0,782.7h4.2v4.2h-4.2zM389.6,801.2h4.2v4.2h-4.2zM389.9,786.6h4.2v4.2h-4.2zM390.2,792.4h4.2v4.2h-4.2zM390.3,789.3h4.2v4.2h-4.2zM390.3,784.0h4.2v4.2h-4.2zM390.4,783.5h4.2v4.2h-4.2zM391.0,794.4h4.2v4.2h-4.2zM390.9,793.4h4.2v4.2h-4.2zM391.3,796.7h4.2v4.2h-4.2zM391.6,789.5h4.2v4.2h-4.2zM391.8,787.5h4.2v4.2h-4.2zM391.9,789.5h4.2v4.2h-4.2zM391.9,778.1h4.2v4.2h-4.2zM392.1,791.6h4.2v4.2h-4.2zM392.3,805.5h4.2v4.2h-4.2zM392.9,780.1h4.2v4.2h-4.2zM392.6,809.8h4.2v4.2h-4.2zM393.3,789.5h4.2v4.2h-4.2zM393.4,796.8h4.2v4.2h-4.2zM393.7,794.5h4.2v4.2h-4.2zM393.7,793.6h4.2v4.2h-4.2zM394.0,805.1h4.2v4.2h-4.2zM393.8,793.7h4.2v4.2h-4.2zM394.5,785.8h4.2v4.2h-4.2zM394.6,783.8h4.2v4.2h-4.2zM394.4,787.1h4.2v4.2h-4.2zM394.7,785.8h4.2v4.2h-4.2zM395.3,788.3h4.2v4.2h-4.2zM395.4,804.3h4.2v4.2h-4.2zM395.5,796.2h4.2v4.2h-4.2zM395.8,788.8h4.2v4.2h-4.2zM395.7,792.8h4.2v4.2h-4.2zM396.0,798.4h4.2v4.2h-4.2zM396.3,801.5h4.2v4.2h-4.2zM396.5,794.4h4.2v4.2h-4.2zM397.0,781.6h4.2v4.2h-4.2zM397.0,795.6h4.2v4.2h-4.2zM397.2,784.0h4.2v4.2h-4.2zM397.4,794.6h4.2v4.2h-4.2zM397.7,786.0h4.2v4.2h-4.2zM397.9,787.8h4.2v4.2h-4.2zM397.7,781.4h4.2v4.2h-4.2zM398.1,794.5h4.2v4.2h-4.2zM398.5,794.1h4.2v4.2h-4.2zM398.5,787.2h4.2v4.2h-4.2zM398.6,798.9h4.2v4.2h-4.2zM398.8,775.9h4.2v4.2h-4.2zM399.5,793.9h4.2v4.2h-4.2zM399.7,781.1h4.2v4.2h-4.2zM399.9,768.9h4.2v4.2h-4.2zM399.9,788.4h4.2v4.2h-4.2zM399.8,789.3h4.2v4.2h-4.2zM400.4,782.5h4.2v4.2h-4.2zM400.8,784.7h4.2v4.2h-4.2zM400.5,798.7h4.2v4.2h-4.2zM400.8,785.3h4.2v4.2h-4.2zM400.9,799.2h4.2v4.2h-4.2zM401.3,787.6h4.2v4.2h-4.2zM401.8,803.3h4.2v4.2h-4.2zM402.0,792.0h4.2v4.2h-4.2zM401.9,784.4h4.2v4.2h-4.2zM402.4,789.5h4.2v4.2h-4.2zM402.7,792.4h4.2v4.2h-4.2zM402.5,783.5h4.2v4.2h-4.2zM402.5,805.9h4.2v4.2h-4.2zM402.8,791.2h4.2v4.2h-4.2zM402.9,795.3h4.2v4.2h-4.2zM403.4,791.0h4.2v4.2h-4.2zM403.6,782.2h4.2v4.2h-4.2zM404.0,795.6h4.2v4.2h-4.2zM403.9,791.3h4.2v4.2h-4.2zM404.2,797.2h4.2v4.2h-4.2zM404.4,786.3h4.2v4.2h-4.2zM404.7,790.7h4.2v4.2h-4.2zM404.6,792.9h4.2v4.2h-4.2zM404.8,780.1h4.2v4.2h-4.2zM405.2,802.6h4.2v4.2h-4.2zM405.2,800.6h4.2v4.2h-4.2zM406.0,801.9h4.2v4.2h-4.2zM405.7,789.5h4.2v4.2h-4.2zM406.4,794.6h4.2v4.2h-4.2zM406.0,783.5h4.2v4.2h-4.2zM406.7,790.4h4.2v4.2h-4.2zM406.5,797.7h4.2v4.2h-4.2zM407.1,790.2h4.2v4.2h-4.2zM407.4,795.4h4.2v4.2h-4.2zM407.4,800.2h4.2v4.2h-4.2zM407.3,791.2h4.2v4.2h-4.2zM408.0,791.7h4.2v4.2h-4.2zM407.8,786.1h4.2v4.2h-4.2zM408.3,798.2h4.2v4.2h-4.2zM408.6,799.1h4.2v4.2h-4.2zM408.5,786.4h4.2v4.2h-4.2zM408.9,791.4h4.2v4.2h-4.2zM408.8,790.7h4.2v4.2h-4.2zM409.4,791.1h4.2v4.2h-4.2zM409.3,807.0h4.2v4.2h-4.2zM409.5,796.7h4.2v4.2h-4.2zM409.8,788.1h4.2v4.2h-4.2zM409.8,789.1h4.2v4.2h-4.2zM410.3,791.0h4.2v4.2h-4.2zM410.5,785.2h4.2v4.2h-4.2zM410.5,781.4h4.2v4.2h-4.2zM411.1,791.7h4.2v4.2h-4.2zM411.3,785.9h4.2v4.2h-4.2zM411.3,780.1h4.2v4.2h-4.2zM411.4,805.4h4.2v4.2h-4.2zM411.9,775.2h4.2v4.2h-4.2zM411.8,795.6h4.2v4.2h-4.2zM412.4,783.5h4.2v4.2h-4.2zM412.2,787.0h4.2v4.2h-4.2zM412.4,797.2h4.2v4.2h-4.2zM412.8,797.5h4.2v4.2h-4.2zM413.2,783.6h4.2v4.2h-4.2zM413.3,798.1h4.2v4.2h-4.2zM413.2,785.4h4.2v4.2h-4.2zM413.3,783.0h4.2v4.2h-4.2zM413.7,789.7h4.2v4.2h-4.2zM414.3,794.9h4.2v4.2h-4.2zM414.2,795.0h4.2v4.2h-4.2zM414.7,792.0h4.2v4.2h-4.2zM414.9,790.0h4.2v4.2h-4.2zM414.7,785.1h4.2v4.2h-4.2zM414.9,783.2h4.2v4.2h-4.2zM415.0,795.8h4.2v4.2h-4.2zM415.3,773.7h4.2v4.2h-4.2zM415.6,794.3h4.2v4.2h-4.2zM416.1,784.7h4.2v4.2h-4.2zM416.0,782.8h4.2v4.2h-4.2zM416.5,784.2h4.2v4.2h-4.2zM416.2,787.2h4.2v4.2h-4.2zM416.5,771.9h4.2v4.2h-4.2zM416.7,778.8h4.2v4.2h-4.2zM417.3,788.6h4.2v4.2h-4.2zM417.5,785.3h4.2v4.2h-4.2zM417.5,782.6h4.2v4.2h-4.2zM417.7,793.6h4.2v4.2h-4.2zM418.2,794.6h4.2v4.2h-4.2zM418.3,774.6h4.2v4.2h-4.2zM418.1,788.9h4.2v4.2h-4.2zM418.6,764.6h4.2v4.2h-4.2zM419.0,794.6h4.2v4.2h-4.2zM419.1,788.3h4.2v4.2h-4.2zM419.0,783.6h4.2v4.2h-4.2zM419.4,797.7h4.2v4.2h-4.2zM419.4,773.3h4.2v4.2h-4.2zM419.8,780.8h4.2v4.2h-4.2zM420.2,787.7h4.2v4.2h-4.2zM420.4,785.6h4.2v4.2h-4.2zM420.1,786.0h4.2v4.2h-4.2zM420.6,782.1h4.2v4.2h-4.2zM420.8,791.5h4.2v4.2h-4.2zM420.8,793.0h4.2v4.2h-4.2zM421.2,777.4h4.2v4.2h-4.2zM421.6,789.0h4.2v4.2h-4.2zM421.7,795.6h4.2v4.2h-4.2zM421.9,791.0h4.2v4.2h-4.2zM422.3,782.2h4.2v4.2h-4.2zM422.1,789.4h4.2v4.2h-4.2zM422.8,784.4h4.2v4.2h-4.2zM422.4,801.1h4.2v4.2h-4.2zM423.0,778.6h4.2v4.2h-4.2zM423.3,785.8h4.2v4.2h-4.2zM423.2,789.8h4.2v4.2h-4.2zM423.5,790.5h4.2v4.2h-4.2zM423.6,775.5h4.2v4.2h-4.2zM424.1,783.7h4.2v4.2h-4.2zM423.9,792.3h4.2v4.2h-4.2zM424.4,795.6h4.2v4.2h-4.2zM424.9,792.2h4.2v4.2h-4.2zM424.9,783.5h4.2v4.2h-4.2zM425.1,782.6h4.2v4.2h-4.2zM425.1,788.0h4.2v4.2h-4.2zM425.3,778.8h4.2v4.2h-4.2zM425.5,789.2h4.2v4.2h-4.2zM426.0,794.0h4.2v4.2h-4.2zM426.3,788.4h4.2v4.2h-4.2zM426.0,788.0h4.2v4.2h-4.2zM426.6,782.1h4.2v4.2h-4.2zM426.4,790.5h4.2v4.2h-4.2zM427.2,790.6h4.2v4.2h-4.2zM427.0,789.2h4.2v4.2h-4.2zM427.1,803.9h4.2v4.2h-4.2zM427.8,784.1h4.2v4.2h-4.2zM427.6,792.6h4.2v4.2h-4.2zM427.9,790.5h4.2v4.2h-4.2zM428.0,787.4h4.2v4.2h-4.2zM428.6,792.1h4.2v4.2h-4.2zM428.5,780.9h4.2v4.2h-4.2zM428.6,786.4h4.2v4.2h-4.2zM428.7,788.0h4.2v4.2h-4.2zM429.4,791.4h4.2v4.2h-4.2zM429.5,780.7h4.2v4.2h-4.2zM429.5,776.9h4.2v4.2h-4.2zM429.8,796.1h4.2v4.2h-4.2zM430.0,783.2h4.2v4.2h-4.2zM429.9,780.9h4.2v4.2h-4.2zM430.3,791.0h4.2v4.2h-4.2zM430.3,785.7h4.2v4.2h-4.2zM431.0,777.3h4.2v4.2h-4.2zM431.2,774.9h4.2v4.2h-4.2zM431.5,780.9h4.2v4.2h-4.2zM431.3,783.1h4.2v4.2h-4.2zM431.9,793.2h4.2v4.2h-4.2zM431.7,779.5h4.2v4.2h-4.2zM432.2,789.4h4.2v4.2h-4.2zM432.5,788.4h4.2v4.2h-4.2zM432.5,785.1h4.2v4.2h-4.2zM432.8,809.3h4.2v4.2h-4.2zM433.1,788.8h4.2v4.2h-4.2zM433.3,776.2h4.2v4.2h-4.2zM433.3,782.6h4.2v4.2h-4.2zM433.4,791.4h4.2v4.2h-4.2zM433.5,780.1h4.2v4.2h-4.2zM434.1,782.3h4.2v4.2h-4.2zM434.4,785.0h4.2v4.2h-4.2zM434.2,792.5h4.2v4.2h-4.2zM434.3,787.2h4.2v4.2h-4.2zM434.7,786.2h4.2v4.2h-4.2zM435.2,776.0h4.2v4.2h-4.2zM434.9,785.7h4.2v4.2h-4.2zM435.3,785.2h4.2v4.2h-4.2zM435.7,786.6h4.2v4.2h-4.2zM436.1,791.0h4.2v4.2h-4.2zM435.9,781.3h4.2v4.2h-4.2zM436.3,786.0h4.2v4.2h-4.2zM436.7,790.4h4.2v4.2h-4.2zM436.8,793.4h4.2v4.2h-4.2zM437.1,784.9h4.2v4.2h-4.2zM436.8,780.7h4.2v4.2h-4.2zM437.4,785.0h4.2v4.2h-4.2zM437.5,793.1h4.2v4.2h-4.2zM437.9,795.5h4.2v4.2h-4.2zM438.1,798.2h4.2v4.2h-4.2zM438.0,788.1h4.2v4.2h-4.2zM438.2,781.9h4.2v4.2h-4.2zM438.5,785.5h4.2v4.2h-4.2zM438.7,786.7h4.2v4.2h-4.2zM438.8,777.3h4.2v4.2h-4.2zM439.0,788.6h4.2v4.2h-4.2zM439.2,785.6h4.2v4.2h-4.2zM439.5,796.6h4.2v4.2h-4.2zM439.8,795.9h4.2v4.2h-4.2zM440.1,794.9h4.2v4.2h-4.2zM440.2,772.1h4.2v4.2h-4.2zM440.4,773.3h4.2v4.2h-4.2zM440.9,781.5h4.2v4.2h-4.2zM440.8,794.8h4.2v4.2h-4.2zM441.1,777.1h4.2v4.2h-4.2zM441.3,782.1h4.2v4.2h-4.2zM441.2,795.0h4.2v4.2h-4.2zM441.6,787.8h4.2v4.2h-4.2zM442.0,787.6h4.2v4.2h-4.2zM442.2,787.8h4.2v4.2h-4.2zM442.4,781.0h4.2v4.2h-4.2zM442.5,782.8h4.2v4.2h-4.2zM442.5,780.9h4.2v4.2h-4.2zM443.2,788.4h4.2v4.2h-4.2zM442.8,787.3h4.2v4.2h-4.2zM443.3,794.6h4.2v4.2h-4.2zM443.7,785.9h4.2v4.2h-4.2zM443.5,784.9h4.2v4.2h-4.2zM443.6,802.4h4.2v4.2h-4.2zM444.0,785.2h4.2v4.2h-4.2zM444.0,786.7h4.2v4.2h-4.2zM444.4,773.6h4.2v4.2h-4.2zM444.7,786.1h4.2v4.2h-4.2zM445.2,796.7h4.2v4.2h-4.2zM445.1,787.4h4.2v4.2h-4.2zM445.3,784.3h4.2v4.2h-4.2zM445.6,786.2h4.2v4.2h-4.2zM446.0,785.4h4.2v4.2h-4.2zM446.0,785.7h4.2v4.2h-4.2zM446.3,781.8h4.2v4.2h-4.2zM446.4,782.8h4.2v4.2h-4.2zM446.4,782.8h4.2v4.2h-4.2zM447.0,809.2h4.2v4.2h-4.2zM447.2,783.0h4.2v4.2h-4.2zM447.0,780.6h4.2v4.2h-4.2zM447.6,787.7h4.2v4.2h-4.2zM447.5,786.1h4.2v4.2h-4.2zM447.7,789.3h4.2v4.2h-4.2zM448.4,785.2h4.2v4.2h-4.2zM448.4,782.4h4.2v4.2h-4.2zM448.5,789.4h4.2v4.2h-4.2zM448.8,788.1h4.2v4.2h-4.2zM449.0,789.2h4.2v4.2h-4.2zM448.8,785.1h4.2v4.2h-4.2zM449.5,791.9h4.2v4.2h-4.2zM449.7,778.6h4.2v4.2h-4.2zM449.6,786.8h4.2v4.2h-4.2zM449.8,789.6h4.2v4.2h-4.2zM450.3,777.3h4.2v4.2h-4.2zM450.2,785.4h4.2v4.2h-4.2zM450.4,774.9h4.2v4.2h-4.2zM450.8,784.8h4.2v4.2h-4.2zM450.9,780.7h4.2v4.2h-4.2zM451.4,777.5h4.2v4.2h-4.2zM451.1,796.3h4.2v4.2h-4.2zM451.5,785.2h4.2v4.2h-4.2zM451.8,771.3h4.2v4.2h-4.2zM451.8,785.5h4.2v4.2h-4.2zM452.1,793.8h4.2v4.2h-4.2zM452.5,774.4h4.2v4.2h-4.2zM452.4,777.2h4.2v4.2h-4.2zM452.7,779.6h4.2v4.2h-4.2zM453.3,792.3h4.2v4.2h-4.2zM453.0,779.5h4.2v4.2h-4.2zM453.3,784.3h4.2v4.2h-4.2zM453.5,782.2h4.2v4.2h-4.2zM453.9,776.9h4.2v4.2h-4.2zM454.3,772.9h4.2v4.2h-4.2zM454.4,777.5h4.2v4.2h-4.2zM454.6,789.1h4.2v4.2h-4.2zM454.6,792.5h4.2v4.2h-4.2zM454.6,784.5h4.2v4.2h-4.2zM455.1,781.1h4.2v4.2h-4.2zM455.5,776.3h4.2v4.2h-4.2zM455.6,793.7h4.2v4.2h-4.2zM455.8,789.7h4.2v4.2h-4.2zM455.8,815.5h4.2v4.2h-4.2zM456.2,786.3h4.2v4.2h-4.2zM456.4,787.7h4.2v4.2h-4.2zM456.5,791.1h4.2v4.2h-4.2zM456.6,801.2h4.2v4.2h-4.2zM457.2,784.2h4.2v4.2h-4.2zM457.0,782.6h4.2v4.2h-4.2zM457.6,783.9h4.2v4.2h-4.2zM457.6,790.6h4.2v4.2h-4.2zM458.1,793.4h4.2v4.2h-4.2zM458.0,787.4h4.2v4.2h-4.2zM458.0,789.9h4.2v4.2h-4.2zM458.3,787.9h4.2v4.2h-4.2zM458.7,770.9h4.2v4.2h-4.2zM458.8,774.4h4.2v4.2h-4.2zM459.3,789.3h4.2v4.2h-4.2zM459.4,808.2h4.2v4.2h-4.2zM459.6,782.7h4.2v4.2h-4.2zM459.7,775.6h4.2v4.2h-4.2zM460.2,792.1h4.2v4.2h-4.2zM460.2,776.2h4.2v4.2h-4.2zM460.6,775.2h4.2v4.2h-4.2zM460.7,786.9h4.2v4.2h-4.2zM460.9,783.1h4.2v4.2h-4.2zM461.1,778.1h4.2v4.2h-4.2zM461.2,789.6h4.2v4.2h-4.2zM461.6,775.3h4.2v4.2h-4.2zM461.8,792.1h4.2v4.2h-4.2zM461.6,781.1h4.2v4.2h-4.2zM462.2,783.6h4.2v4.2h-4.2zM462.4,801.8h4.2v4.2h-4.2zM462.1,788.2h4.2v4.2h-4.2zM462.7,780.0h4.2v4.2h-4.2zM463.0,786.3h4.2v4.2h-4.2zM463.2,778.0h4.2v4.2h-4.2zM463.3,786.5h4.2v4.2h-4.2zM463.5,780.3h4.2v4.2h-4.2zM463.5,782.9h4.2v4.2h-4.2zM463.9,784.2h4.2v4.2h-4.2zM464.3,780.0h4.2v4.2h-4.2zM464.0,782.3h4.2v4.2h-4.2zM464.3,777.2h4.2v4.2h-4.2zM464.6,773.2h4.2v4.2h-4.2zM464.6,783.1h4.2v4.2h-4.2zM465.3,787.5h4.2v4.2h-4.2zM465.5,791.1h4.2v4.2h-4.2zM465.8,788.1h4.2v4.2h-4.2zM465.9,770.0h4.2v4.2h-4.2zM466.1,785.2h4.2v4.2h-4.2zM466.4,788.4h4.2v4.2h-4.2zM466.5,789.5h4.2v4.2h-4.2zM466.4,776.1h4.2v4.2h-4.2zM466.8,788.0h4.2v4.2h-4.2zM467.0,795.0h4.2v4.2h-4.2zM466.9,780.2h4.2v4.2h-4.2zM467.1,777.2h4.2v4.2h-4.2zM467.9,790.7h4.2v4.2h-4.2zM467.6,778.9h4.2v4.2h-4.2zM468.0,787.8h4.2v4.2h-4.2zM468.0,776.7h4.2v4.2h-4.2zM468.3,791.8h4.2v4.2h-4.2zM468.9,788.0h4.2v4.2h-4.2zM468.9,784.9h4.2v4.2h-4.2zM468.9,777.9h4.2v4.2h-4.2zM469.0,784.1h4.2v4.2h-4.2zM469.7,778.8h4.2v4.2h-4.2zM469.8,782.6h4.2v4.2h-4.2zM470.0,796.3h4.2v4.2h-4.2zM470.0,778.7h4.2v4.2h-4.2zM470.2,787.8h4.2v4.2h-4.2zM470.7,790.9h4.2v4.2h-4.2zM470.7,784.7h4.2v4.2h-4.2zM470.8,787.0h4.2v4.2h-4.2zM471.3,786.8h4.2v4.2h-4.2zM471.5,794.9h4.2v4.2h-4.2zM471.4,793.5h4.2v4.2h-4.2zM471.5,789.6h4.2v4.2h-4.2zM471.7,791.8h4.2v4.2h-4.2zM471.9,791.8h4.2v4.2h-4.2zM472.4,794.5h4.2v4.2h-4.2zM472.6,790.6h4.2v4.2h-4.2zM472.9,783.2h4.2v4.2h-4.2zM473.0,780.6h4.2v4.2h-4.2zM473.4,789.7h4.2v4.2h-4.2zM473.6,782.4h4.2v4.2h-4.2zM473.6,783.7h4.2v4.2h-4.2zM474.0,790.4h4.2v4.2h-4.2zM473.7,780.7h4.2v4.2h-4.2zM474.1,779.6h4.2v4.2h-4.2zM474.5,770.4h4.2v4.2h-4.2zM474.9,779.1h4.2v4.2h-4.2zM474.7,783.7h4.2v4.2h-4.2zM475.1,774.5h4.2v4.2h-4.2zM475.4,794.2h4.2v4.2h-4.2zM475.4,787.3h4.2v4.2h-4.2zM475.9,798.7h4.2v4.2h-4.2zM475.9,781.4h4.2v4.2h-4.2zM476.2,785.2h4.2v4.2h-4.2zM476.0,775.7h4.2v4.2h-4.2zM476.7,780.5h4.2v4.2h-4.2zM476.8,787.5h4.2v4.2h-4.2zM476.9,775.5h4.2v4.2h-4.2zM477.3,791.0h4.2v4.2h-4.2zM477.4,771.1h4.2v4.2h-4.2zM477.3,789.3h4.2v4.2h-4.2zM477.7,785.4h4.2v4.2h-4.2zM478.2,797.1h4.2v4.2h-4.2zM478.1,803.0h4.2v4.2h-4.2zM478.3,785.3h4.2v4.2h-4.2zM478.5,778.7h4.2v4.2h-4.2zM479.0,788.8h4.2v4.2h-4.2zM479.1,773.6h4.2v4.2h-4.2zM479.0,787.9h4.2v4.2h-4.2zM479.7,779.5h4.2v4.2h-4.2zM479.9,796.5h4.2v4.2h-4.2zM479.8,786.1h4.2v4.2h-4.2zM480.0,788.5h4.2v4.2h-4.2zM480.3,794.2h4.2v4.2h-4.2zM480.6,786.1h4.2v4.2h-4.2zM480.6,789.0h4.2v4.2h-4.2zM480.7,789.5h4.2v4.2h-4.2zM481.3,801.4h4.2v4.2h-4.2zM481.1,795.8h4.2v4.2h-4.2zM481.3,786.0h4.2v4.2h-4.2zM481.6,789.1h4.2v4.2h-4.2zM482.0,787.4h4.2v4.2h-4.2zM481.9,786.6h4.2v4.2h-4.2zM482.5,789.9h4.2v4.2h-4.2zM482.7,788.3h4.2v4.2h-4.2zM482.9,785.9h4.2v4.2h-4.2zM482.8,785.3h4.2v4.2h-4.2zM482.9,772.9h4.2v4.2h-4.2zM483.6,775.4h4.2v4.2h-4.2zM483.7,799.1h4.2v4.2h-4.2zM483.8,792.4h4.2v4.2h-4.2zM483.8,784.5h4.2v4.2h-4.2zM484.1,787.7h4.2v4.2h-4.2zM484.6,794.9h4.2v4.2h-4.2zM484.8,796.2h4.2v4.2h-4.2zM484.9,784.9h4.2v4.2h-4.2zM484.8,788.9h4.2v4.2h-4.2zM485.0,785.1h4.2v4.2h-4.2zM485.5,785.2h4.2v4.2h-4.2zM485.8,785.1h4.2v4.2h-4.2zM486.1,783.0h4.2v4.2h-4.2zM486.1,785.9h4.2v4.2h-4.2zM486.3,790.1h4.2v4.2h-4.2zM486.2,781.9h4.2v4.2h-4.2zM486.5,787.1h4.2v4.2h-4.2zM487.2,789.2h4.2v4.2h-4.2zM487.0,792.5h4.2v4.2h-4.2zM487.3,787.3h4.2v4.2h-4.2zM487.5,793.6h4.2v4.2h-4.2zM487.5,789.6h4.2v4.2h-4.2zM487.8,775.8h4.2v4.2h-4.2zM488.0,803.4h4.2v4.2h-4.2zM488.1,791.3h4.2v4.2h-4.2zM488.4,781.7h4.2v4.2h-4.2zM489.0,795.6h4.2v4.2h-4.2zM489.0,783.9h4.2v4.2h-4.2zM489.0,803.6h4.2v4.2h-4.2zM489.7,782.2h4.2v4.2h-4.2zM489.4,790.3h4.2v4.2h-4.2zM489.9,786.3h4.2v4.2h-4.2zM489.9,781.6h4.2v4.2h-4.2zM490.0,788.6h4.2v4.2h-4.2zM490.7,779.8h4.2v4.2h-4.2zM490.9,789.2h4.2v4.2h-4.2zM490.6,788.1h4.2v4.2h-4.2zM491.3,779.3h4.2v4.2h-4.2zM491.3,794.7h4.2v4.2h-4.2zM491.7,787.6h4.2v4.2h-4.2zM491.6,791.2h4.2v4.2h-4.2zM492.1,792.4h4.2v4.2h-4.2zM492.0,780.7h4.2v4.2h-4.2zM492.4,785.9h4.2v4.2h-4.2zM492.8,791.8h4.2v4.2h-4.2zM493.0,790.8h4.2v4.2h-4.2zM492.7,802.1h4.2v4.2h-4.2zM493.1,795.7h4.2v4.2h-4.2zM493.4,786.7h4.2v4.2h-4.2zM493.4,788.8h4.2v4.2h-4.2zM493.7,794.4h4.2v4.2h-4.2zM493.8,781.2h4.2v4.2h-4.2zM494.2,791.8h4.2v4.2h-4.2zM494.6,775.1h4.2v4.2h-4.2zM494.6,799.6h4.2v4.2h-4.2zM495.0,802.1h4.2v4.2h-4.2zM494.7,787.1h4.2v4.2h-4.2zM495.1,785.0h4.2v4.2h-4.2zM495.2,789.2h4.2v4.2h-4.2zM495.8,787.9h4.2v4.2h-4.2zM495.7,787.5h4.2v4.2h-4.2zM496.1,785.7h4.2v4.2h-4.2zM496.0,784.4h4.2v4.2h-4.2zM496.4,784.6h4.2v4.2h-4.2zM496.7,784.1h4.2v4.2h-4.2zM497.2,799.8h4.2v4.2h-4.2zM496.9,788.1h4.2v4.2h-4.2zM497.1,786.4h4.2v4.2h-4.2zM497.7,784.9h4.2v4.2h-4.2zM498.0,792.5h4.2v4.2h-4.2zM498.2,784.5h4.2v4.2h-4.2zM498.4,785.8h4.2v4.2h-4.2zM498.4,793.8h4.2v4.2h-4.2zM498.3,797.5h4.2v4.2h-4.2zM499.0,782.3h4.2v4.2h-4.2zM499.2,783.7h4.2v4.2h-4.2zM499.3,794.9h4.2v4.2h-4.2zM499.4,793.2h4.2v4.2h-4.2zM499.6,780.0h4.2v4.2h-4.2zM499.5,795.3h4.2v4.2h-4.2zM499.8,783.4h4.2v4.2h-4.2zM500.4,795.2h4.2v4.2h-4.2zM500.7,784.8h4.2v4.2h-4.2zM500.6,791.6h4.2v4.2h-4.2zM500.7,797.1h4.2v4.2h-4.2zM500.9,791.8h4.2v4.2h-4.2zM501.3,792.1h4.2v4.2h-4.2zM501.4,795.4h4.2v4.2h-4.2zM501.4,791.5h4.2v4.2h-4.2zM502.0,785.9h4.2v4.2h-4.2zM502.0,789.9h4.2v4.2h-4.2zM502.5,805.0h4.2v4.2h-4.2zM502.3,785.8h4.2v4.2h-4.2zM503.0,787.2h4.2v4.2h-4.2zM502.8,787.9h4.2v4.2h-4.2zM503.3,781.7h4.2v4.2h-4.2zM503.1,800.0h4.2v4.2h-4.2zM503.6,788.9h4.2v4.2h-4.2zM503.6,785.7h4.2v4.2h-4.2zM503.8,800.7h4.2v4.2h-4.2zM503.9,785.9h4.2v4.2h-4.2zM504.2,802.1h4.2v4.2h-4.2zM504.8,796.3h4.2v4.2h-4.2zM504.9,781.4h4.2v4.2h-4.2zM504.9,786.3h4.2v4.2h-4.2zM505.0,785.3h4.2v4.2h-4.2zM505.3,790.1h4.2v4.2h-4.2zM505.4,797.5h4.2v4.2h-4.2zM505.9,776.6h4.2v4.2h-4.2zM506.0,774.4h4.2v4.2h-4.2zM506.4,788.9h4.2v4.2h-4.2zM506.5,791.9h4.2v4.2h-4.2zM506.4,789.4h4.2v4.2h-4.2zM506.9,788.1h4.2v4.2h-4.2zM507.3,792.9h4.2v4.2h-4.2zM507.0,785.4h4.2v4.2h-4.2zM507.5,790.2h4.2v4.2h-4.2zM507.8,791.0h4.2v4.2h-4.2zM507.9,779.9h4.2v4.2h-4.2zM507.9,778.3h4.2v4.2h-4.2zM508.5,802.1h4.2v4.2h-4.2zM508.7,788.7h4.2v4.2h-4.2zM508.8,774.5h4.2v4.2h-4.2zM508.6,787.6h4.2v4.2h-4.2zM508.9,782.0h4.2v4.2h-4.2zM509.6,796.7h4.2v4.2h-4.2zM509.8,783.8h4.2v4.2h-4.2zM509.5,776.7h4.2v4.2h-4.2zM509.8,809.7h4.2v4.2h-4.2zM510.0,800.1h4.2v4.2h-4.2zM510.6,786.1h4.2v4.2h-4.2zM510.8,786.9h4.2v4.2h-4.2zM510.8,790.1h4.2v4.2h-4.2zM511.0,788.3h4.2v4.2h-4.2zM511.3,775.4h4.2v4.2h-4.2zM511.7,793.0h4.2v4.2h-4.2zM511.4,781.9h4.2v4.2h-4.2zM512.1,787.8h4.2v4.2h-4.2zM511.7,788.3h4.2v4.2h-4.2zM511.9,798.9h4.2v4.2h-4.2zM512.3,784.2h4.2v4.2h-4.2zM512.5,787.7h4.2v4.2h-4.2zM512.7,789.2h4.2v4.2h-4.2zM512.9,787.0h4.2v4.2h-4.2zM513.5,787.3h4.2v4.2h-4.2zM513.6,785.4h4.2v4.2h-4.2zM513.8,797.9h4.2v4.2h-4.2zM513.9,789.6h4.2v4.2h-4.2zM514.3,794.5h4.2v4.2h-4.2zM514.3,789.6h4.2v4.2h-4.2zM514.6,795.0h4.2v4.2h-4.2zM514.4,786.7h4.2v4.2h-4.2zM515.2,784.2h4.2v4.2h-4.2zM515.4,781.1h4.2v4.2h-4.2zM515.3,788.4h4.2v4.2h-4.2zM515.4,796.3h4.2v4.2h-4.2zM515.5,787.2h4.2v4.2h-4.2zM516.0,762.7h4.2v4.2h-4.2zM516.1,800.2h4.2v4.2h-4.2zM516.2,796.5h4.2v4.2h-4.2zM516.7,793.1h4.2v4.2h-4.2zM516.8,787.1h4.2v4.2h-4.2zM516.9,788.0h4.2v4.2h-4.2zM517.3,790.6h4.2v4.2h-4.2zM517.7,781.0h4.2v4.2h-4.2zM517.8,791.1h4.2v4.2h-4.2zM517.8,776.6h4.2v4.2h-4.2zM518.0,788.7h4.2v4.2h-4.2zM518.4,785.4h4.2v4.2h-4.2zM518.7,788.9h4.2v4.2h-4.2zM518.9,780.1h4.2v4.2h-4.2zM518.9,796.8h4.2v4.2h-4.2zM518.9,791.0h4.2v4.2h-4.2zM519.3,790.5h4.2v4.2h-4.2zM519.8,788.3h4.2v4.2h-4.2zM519.7,795.8h4.2v4.2h-4.2zM520.0,799.6h4.2v4.2h-4.2zM519.9,791.1h4.2v4.2h-4.2zM520.5,783.1h4.2v4.2h-4.2zM520.6,792.6h4.2v4.2h-4.2zM520.9,786.6h4.2v4.2h-4.2zM521.0,786.0h4.2v4.2h-4.2zM521.3,788.8h4.2v4.2h-4.2zM521.6,792.1h4.2v4.2h-4.2zM521.8,790.3h4.2v4.2h-4.2zM521.7,781.5h4.2v4.2h-4.2zM522.3,777.9h4.2v4.2h-4.2zM522.3,799.8h4.2v4.2h-4.2zM522.5,787.5h4.2v4.2h-4.2zM522.5,789.0h4.2v4.2h-4.2zM522.9,782.5h4.2v4.2h-4.2zM523.3,777.2h4.2v4.2h-4.2zM523.0,788.1h4.2v4.2h-4.2zM523.4,788.1h4.2v4.2h-4.2zM523.8,782.0h4.2v4.2h-4.2zM523.9,781.5h4.2v4.2h-4.2zM523.9,786.4h4.2v4.2h-4.2zM524.5,807.3h4.2v4.2h-4.2zM524.7,802.3h4.2v4.2h-4.2zM524.7,796.5h4.2v4.2h-4.2zM524.9,790.7h4.2v4.2h-4.2zM525.3,787.9h4.2v4.2h-4.2zM525.1,791.3h4.2v4.2h-4.2zM525.3,793.6h4.2v4.2h-4.2zM525.4,762.7h4.2v4.2h-4.2zM526.1,790.5h4.2v4.2h-4.2zM526.0,797.3h4.2v4.2h-4.2zM526.2,795.9h4.2v4.2h-4.2zM526.8,786.0h4.2v4.2h-4.2zM526.6,795.0h4.2v4.2h-4.2zM526.9,787.4h4.2v4.2h-4.2zM527.0,788.2h4.2v4.2h-4.2zM527.6,786.6h4.2v4.2h-4.2zM527.6,789.7h4.2v4.2h-4.2zM527.7,787.4h4.2v4.2h-4.2zM528.3,792.9h4.2v4.2h-4.2zM528.5,787.1h4.2v4.2h-4.2zM528.6,783.3h4.2v4.2h-4.2zM528.8,770.2h4.2v4.2h-4.2zM528.8,790.0h4.2v4.2h-4.2zM528.8,791.9h4.2v4.2h-4.2zM529.5,789.3h4.2v4.2h-4.2zM529.6,790.7h4.2v4.2h-4.2zM529.7,778.2h4.2v4.2h-4.2zM529.7,798.3h4.2v4.2h-4.2zM529.9,789.2h4.2v4.2h-4.2zM530.4,793.3h4.2v4.2h-4.2zM530.5,797.4h4.2v4.2h-4.2zM531.0,788.6h4.2v4.2h-4.2zM531.0,785.8h4.2v4.2h-4.2zM531.1,792.9h4.2v4.2h-4.2zM531.6,795.1h4.2v4.2h-4.2zM531.4,798.0h4.2v4.2h-4.2zM531.8,789.5h4.2v4.2h-4.2zM532.3,803.0h4.2v4.2h-4.2zM532.2,797.6h4.2v4.2h-4.2zM532.5,794.7h4.2v4.2h-4.2zM532.5,794.9h4.2v4.2h-4.2zM532.7,788.7h4.2v4.2h-4.2zM533.2,781.3h4.2v4.2h-4.2zM533.3,805.1h4.2v4.2h-4.2zM533.2,781.4h4.2v4.2h-4.2zM533.7,791.1h4.2v4.2h-4.2zM533.7,793.5h4.2v4.2h-4.2zM533.9,782.1h4.2v4.2h-4.2zM534.3,782.0h4.2v4.2h-4.2zM534.5,759.9h4.2v4.2h-4.2zM534.7,790.6h4.2v4.2h-4.2zM534.7,786.2h4.2v4.2h-4.2zM535.1,789.8h4.2v4.2h-4.2zM535.4,795.9h4.2v4.2h-4.2zM535.4,787.3h4.2v4.2h-4.2zM535.8,799.2h4.2v4.2h-4.2zM536.1,795.6h4.2v4.2h-4.2zM535.9,807.5h4.2v4.2h-4.2zM536.1,795.9h4.2v4.2h-4.2zM536.7,783.9h4.2v4.2h-4.2zM537.0,792.0h4.2v4.2h-4.2zM537.1,791.7h4.2v4.2h-4.2zM537.3,779.5h4.2v4.2h-4.2zM537.2,808.2h4.2v4.2h-4.2zM537.4,794.1h4.2v4.2h-4.2zM537.7,779.9h4.2v4.2h-4.2zM537.8,791.2h4.2v4.2h-4.2zM538.3,797.7h4.2v4.2h-4.2zM538.7,792.2h4.2v4.2h-4.2zM538.5,798.9h4.2v4.2h-4.2zM538.6,792.5h4.2v4.2h-4.2zM538.8,788.8h4.2v4.2h-4.2zM539.4,793.4h4.2v4.2h-4.2zM539.2,769.2h4.2v4.2h-4.2zM539.4,795.3h4.2v4.2h-4.2zM539.8,783.6h4.2v4.2h-4.2zM540.2,788.0h4.2v4.2h-4.2zM540.3,781.0h4.2v4.2h-4.2zM540.7,788.1h4.2v4.2h-4.2zM540.8,790.5h4.2v4.2h-4.2zM541.0,765.6h4.2v4.2h-4.2zM541.0,789.0h4.2v4.2h-4.2zM541.0,794.9h4.2v4.2h-4.2zM541.4,783.4h4.2v4.2h-4.2zM541.9,799.2h4.2v4.2h-4.2zM542.2,785.9h4.2v4.2h-4.2zM542.3,805.1h4.2v4.2h-4.2zM542.2,781.1h4.2v4.2h-4.2zM542.3,785.2h4.2v4.2h-4.2zM542.8,801.1h4.2v4.2h-4.2zM542.8,793.5h4.2v4.2h-4.2zM543.2,787.0h4.2v4.2h-4.2zM543.5,789.6h4.2v4.2h-4.2zM543.5,806.1h4.2v4.2h-4.2zM543.6,793.1h4.2v4.2h-4.2zM544.2,788.2h4.2v4.2h-4.2zM544.3,792.4h4.2v4.2h-4.2zM544.7,786.9h4.2v4.2h-4.2zM544.9,781.3h4.2v4.2h-4.2zM544.7,787.3h4.2v4.2h-4.2zM544.9,797.2h4.2v4.2h-4.2zM545.0,795.4h4.2v4.2h-4.2zM545.7,786.4h4.2v4.2h-4.2zM545.5,780.8h4.2v4.2h-4.2zM545.7,793.9h4.2v4.2h-4.2zM546.1,788.7h4.2v4.2h-4.2zM546.2,802.4h4.2v4.2h-4.2zM546.6,801.2h4.2v4.2h-4.2zM546.8,790.4h4.2v4.2h-4.2zM547.1,800.3h4.2v4.2h-4.2zM547.1,786.2h4.2v4.2h-4.2zM547.4,787.7h4.2v4.2h-4.2zM547.8,782.6h4.2v4.2h-4.2zM547.6,795.0h4.2v4.2h-4.2zM547.7,789.0h4.2v4.2h-4.2zM548.4,795.7h4.2v4.2h-4.2zM548.4,790.1h4.2v4.2h-4.2zM548.8,792.9h4.2v4.2h-4.2zM548.8,766.9h4.2v4.2h-4.2zM549.1,781.4h4.2v4.2h-4.2zM549.2,787.1h4.2v4.2h-4.2zM549.5,794.3h4.2v4.2h-4.2zM549.5,790.4h4.2v4.2h-4.2zM549.5,802.8h4.2v4.2h-4.2zM550.0,791.7h4.2v4.2h-4.2zM550.0,803.8h4.2v4.2h-4.2zM550.7,792.8h4.2v4.2h-4.2zM550.9,800.4h4.2v4.2h-4.2zM550.9,793.3h4.2v4.2h-4.2zM551.0,788.7h4.2v4.2h-4.2zM551.1,788.1h4.2v4.2h-4.2zM551.7,808.2h4.2v4.2h-4.2zM551.8,788.3h4.2v4.2h-4.2zM551.9,787.9h4.2v4.2h-4.2zM551.9,802.7h4.2v4.2h-4.2zM552.2,785.2h4.2v4.2h-4.2zM552.4,786.4h4.2v4.2h-4.2zM552.9,794.4h4.2v4.2h-4.2zM552.8,777.4h4.2v4.2h-4.2zM553.2,787.1h4.2v4.2h-4.2zM553.6,797.1h4.2v4.2h-4.2zM553.5,795.0h4.2v4.2h-4.2zM553.6,790.5h4.2v4.2h-4.2zM554.0,791.5h4.2v4.2h-4.2zM554.3,785.7h4.2v4.2h-4.2zM554.6,784.8h4.2v4.2h-4.2zM554.6,792.7h4.2v4.2h-4.2zM554.8,784.4h4.2v4.2h-4.2zM555.3,789.7h4.2v4.2h-4.2zM555.4,786.0h4.2v4.2h-4.2zM555.4,774.5h4.2v4.2h-4.2zM555.6,793.9h4.2v4.2h-4.2zM556.1,798.8h4.2v4.2h-4.2zM555.8,786.5h4.2v4.2h-4.2zM556.5,793.5h4.2v4.2h-4.2zM556.2,793.7h4.2v4.2h-4.2zM556.7,784.1h4.2v4.2h-4.2zM556.7,784.7h4.2v4.2h-4.2zM557.3,802.9h4.2v4.2h-4.2zM557.5,786.4h4.2v4.2h-4.2zM557.5,791.7h4.2v4.2h-4.2zM557.6,794.9h4.2v4.2h-4.2zM558.1,788.4h4.2v4.2h-4.2zM558.0,789.5h4.2v4.2h-4.2zM558.2,792.6h4.2v4.2h-4.2zM558.3,785.6h4.2v4.2h-4.2zM558.5,796.9h4.2v4.2h-4.2zM558.7,795.9h4.2v4.2h-4.2zM559.3,792.2h4.2v4.2h-4.2zM559.5,786.8h4.2v4.2h-4.2zM559.8,787.3h4.2v4.2h-4.2zM559.9,794.9h4.2v4.2h-4.2zM560.0,793.3h4.2v4.2h-4.2zM560.0,780.8h4.2v4.2h-4.2zM560.7,785.6h4.2v4.2h-4.2zM560.6,785.5h4.2v4.2h-4.2zM561.1,784.7h4.2v4.2h-4.2zM561.3,788.5h4.2v4.2h-4.2zM561.5,784.2h4.2v4.2h-4.2zM561.8,798.5h4.2v4.2h-4.2zM562.0,791.3h4.2v4.2h-4.2zM561.9,789.6h4.2v4.2h-4.2zM562.1,778.5h4.2v4.2h-4.2zM562.3,782.0h4.2v4.2h-4.2zM562.7,793.7h4.2v4.2h-4.2zM562.6,786.0h4.2v4.2h-4.2zM562.9,802.3h4.2v4.2h-4.2zM563.2,789.3h4.2v4.2h-4.2zM563.5,794.8h4.2v4.2h-4.2zM563.3,783.8h4.2v4.2h-4.2zM563.9,794.4h4.2v4.2h-4.2zM564.0,791.1h4.2v4.2h-4.2zM563.9,783.5h4.2v4.2h-4.2zM564.3,809.8h4.2v4.2h-4.2zM564.7,769.3h4.2v4.2h-4.2zM564.6,794.2h4.2v4.2h-4.2zM565.2,790.4h4.2v4.2h-4.2zM565.3,805.4h4.2v4.2h-4.2zM565.3,795.5h4.2v4.2h-4.2zM565.6,792.7h4.2v4.2h-4.2zM566.1,784.1h4.2v4.2h-4.2zM566.2,787.2h4.2v4.2h-4.2zM566.2,795.0h4.2v4.2h-4.2zM566.3,788.7h4.2v4.2h-4.2zM567.0,787.5h4.2v4.2h-4.2zM566.8,784.9h4.2v4.2h-4.2zM567.2,794.1h4.2v4.2h-4.2zM567.0,785.6h4.2v4.2h-4.2zM567.5,782.2h4.2v4.2h-4.2zM568.0,788.2h4.2v4.2h-4.2zM567.9,789.9h4.2v4.2h-4.2zM568.1,780.2h4.2v4.2h-4.2zM568.4,792.3h4.2v4.2h-4.2zM568.7,806.7h4.2v4.2h-4.2zM569.0,784.9h4.2v4.2h-4.2zM569.1,791.6h4.2v4.2h-4.2zM569.3,791.3h4.2v4.2h-4.2zM569.6,790.8h4.2v4.2h-4.2zM569.5,789.1h4.2v4.2h-4.2zM569.8,784.5h4.2v4.2h-4.2zM570.0,784.7h4.2v4.2h-4.2zM570.2,797.2h4.2v4.2h-4.2zM570.2,772.5h4.2v4.2h-4.2zM570.4,790.5h4.2v4.2h-4.2zM570.9,784.7h4.2v4.2h-4.2zM571.2,798.3h4.2v4.2h-4.2zM571.4,791.9h4.2v4.2h-4.2zM571.2,781.9h4.2v4.2h-4.2zM571.5,800.8h4.2v4.2h-4.2zM571.6,786.9h4.2v4.2h-4.2zM572.2,787.6h4.2v4.2h-4.2zM572.5,790.3h4.2v4.2h-4.2zM572.3,784.6h4.2v4.2h-4.2zM572.4,790.7h4.2v4.2h-4.2zM573.0,792.5h4.2v4.2h-4.2zM572.9,794.4h4.2v4.2h-4.2zM573.2,791.3h4.2v4.2h-4.2zM573.2,796.2h4.2v4.2h-4.2zM573.8,794.6h4.2v4.2h-4.2zM573.8,805.5h4.2v4.2h-4.2zM574.4,780.6h4.2v4.2h-4.2zM574.6,780.7h4.2v4.2h-4.2zM574.5,800.4h4.2v4.2h-4.2zM574.7,787.9h4.2v4.2h-4.2zM574.9,790.9h4.2v4.2h-4.2zM575.0,803.8h4.2v4.2h-4.2zM575.4,798.9h4.2v4.2h-4.2zM575.8,789.8h4.2v4.2h-4.2zM575.7,788.9h4.2v4.2h-4.2zM576.1,774.2h4.2v4.2h-4.2zM576.1,791.7h4.2v4.2h-4.2zM576.4,800.0h4.2v4.2h-4.2zM576.8,791.8h4.2v4.2h-4.2zM576.6,788.1h4.2v4.2h-4.2zM576.9,790.6h4.2v4.2h-4.2zM577.3,800.9h4.2v4.2h-4.2zM577.6,798.3h4.2v4.2h-4.2zM577.6,788.8h4.2v4.2h-4.2zM578.1,789.1h4.2v4.2h-4.2zM578.0,785.1h4.2v4.2h-4.2zM578.5,803.3h4.2v4.2h-4.2zM578.4,785.1h4.2v4.2h-4.2zM578.8,788.7h4.2v4.2h-4.2zM579.2,792.5h4.2v4.2h-4.2zM579.2,791.1h4.2v4.2h-4.2zM579.4,786.0h4.2v4.2h-4.2zM579.3,778.3h4.2v4.2h-4.2zM579.8,790.3h4.2v4.2h-4.2zM580.2,797.8h4.2v4.2h-4.2zM579.9,789.1h4.2v4.2h-4.2zM580.6,795.5h4.2v4.2h-4.2zM580.5,792.3h4.2v4.2h-4.2zM581.0,793.6h4.2v4.2h-4.2zM580.8,788.0h4.2v4.2h-4.2zM581.4,796.6h4.2v4.2h-4.2zM581.4,798.7h4.2v4.2h-4.2zM581.5,792.8h4.2v4.2h-4.2zM581.7,795.2h4.2v4.2h-4.2zM581.8,792.5h4.2v4.2h-4.2zM582.4,791.9h4.2v4.2h-4.2zM582.7,786.3h4.2v4.2h-4.2zM582.7,794.0h4.2v4.2h-4.2zM583.2,784.1h4.2v4.2h-4.2zM583.3,796.8h4.2v4.2h-4.2zM583.0,788.2h4.2v4.2h-4.2zM583.7,777.1h4.2v4.2h-4.2zM583.7,791.5h4.2v4.2h-4.2zM583.6,783.5h4.2v4.2h-4.2zM583.9,810.0h4.2v4.2h-4.2zM584.5,793.3h4.2v4.2h-4.2zM584.6,783.4h4.2v4.2h-4.2zM584.6,798.6h4.2v4.2h-4.2zM585.1,787.2h4.2v4.2h-4.2zM585.2,791.9h4.2v4.2h-4.2zM585.3,786.1h4.2v4.2h-4.2zM585.6,785.7h4.2v4.2h-4.2zM585.8,787.9h4.2v4.2h-4.2zM586.1,790.9h4.2v4.2h-4.2zM586.4,783.4h4.2v4.2h-4.2zM586.7,797.4h4.2v4.2h-4.2zM586.6,768.5h4.2v4.2h-4.2zM586.7,801.6h4.2v4.2h-4.2zM586.7,793.5h4.2v4.2h-4.2zM587.5,782.7h4.2v4.2h-4.2zM587.7,804.0h4.2v4.2h-4.2zM587.9,787.0h4.2v4.2h-4.2zM587.9,797.2h4.2v4.2h-4.2zM588.3,808.4h4.2v4.2h-4.2zM588.0,795.7h4.2v4.2h-4.2zM588.5,800.0h4.2v4.2h-4.2zM588.7,800.3h4.2v4.2h-4.2zM588.9,782.8h4.2v4.2h-4.2zM589.2,784.0h4.2v4.2h-4.2zM589.4,785.8h4.2v4.2h-4.2zM589.4,792.6h4.2v4.2h-4.2zM589.7,784.8h4.2v4.2h-4.2zM590.2,791.3h4.2v4.2h-4.2zM590.1,806.0h4.2v4.2h-4.2zM590.1,788.0h4.2v4.2h-4.2zM590.8,797.5h4.2v4.2h-4.2zM590.7,802.0h4.2v4.2h-4.2zM590.7,781.3h4.2v4.2h-4.2zM591.4,784.4h4.2v4.2h-4.2zM591.5,784.9h4.2v4.2h-4.2zM591.3,788.6h4.2v4.2h-4.2zM591.6,793.4h4.2v4.2h-4.2zM592.2,796.3h4.2v4.2h-4.2zM592.4,794.6h4.2v4.2h-4.2zM592.3,786.1h4.2v4.2h-4.2zM592.5,792.4h4.2v4.2h-4.2zM592.8,786.6h4.2v4.2h-4.2zM593.2,798.1h4.2v4.2h-4.2zM593.5,787.1h4.2v4.2h-4.2zM593.4,789.1h4.2v4.2h-4.2zM593.9,791.5h4.2v4.2h-4.2zM593.8,776.9h4.2v4.2h-4.2zM594.3,812.6h4.2v4.2h-4.2zM594.1,792.7h4.2v4.2h-4.2zM594.4,791.9h4.2v4.2h-4.2zM594.6,789.4h4.2v4.2h-4.2zM595.1,794.4h4.2v4.2h-4.2zM595.4,784.6h4.2v4.2h-4.2zM595.2,792.8h4.2v4.2h-4.2zM595.7,790.0h4.2v4.2h-4.2zM595.9,785.3h4.2v4.2h-4.2zM596.1,789.9h4.2v4.2h-4.2zM596.2,792.0h4.2v4.2h-4.2zM596.3,785.5h4.2v4.2h-4.2zM596.6,787.3h4.2v4.2h-4.2zM596.5,792.6h4.2v4.2h-4.2zM596.7,782.4h4.2v4.2h-4.2zM597.5,793.8h4.2v4.2h-4.2zM597.4,783.0h4.2v4.2h-4.2zM597.3,805.7h4.2v4.2h-4.2zM597.9,790.3h4.2v4.2h-4.2zM597.8,792.4h4.2v4.2h-4.2zM598.3,787.1h4.2v4.2h-4.2zM598.5,801.7h4.2v4.2h-4.2zM598.6,798.7h4.2v4.2h-4.2zM598.7,783.9h4.2v4.2h-4.2zM599.0,794.7h4.2v4.2h-4.2zM599.1,787.9h4.2v4.2h-4.2zM599.7,786.5h4.2v4.2h-4.2zM599.7,795.8h4.2v4.2h-4.2zM600.1,785.2h4.2v4.2h-4.2zM600.0,798.7h4.2v4.2h-4.2zM600.1,791.6h4.2v4.2h-4.2zM600.8,792.2h4.2v4.2h-4.2zM600.5,802.7h4.2v4.2h-4.2zM600.9,784.5h4.2v4.2h-4.2zM601.3,799.7h4.2v4.2h-4.2zM601.5,797.9h4.2v4.2h-4.2zM601.4,795.9h4.2v4.2h-4.2zM601.9,777.1h4.2v4.2h-4.2zM601.7,790.6h4.2v4.2h-4.2zM602.2,794.8h4.2v4.2h-4.2zM602.5,794.7h4.2v4.2h-4.2zM602.7,797.0h4.2v4.2h-4.2zM603.0,794.2h4.2v4.2h-4.2zM603.0,798.3h4.2v4.2h-4.2zM603.2,789.8h4.2v4.2h-4.2zM603.1,796.2h4.2v4.2h-4.2zM603.9,786.6h4.2v4.2h-4.2zM603.6,785.1h4.2v4.2h-4.2zM604.2,788.2h4.2v4.2h-4.2zM604.1,795.3h4.2v4.2h-4.2zM604.6,796.1h4.2v4.2h-4.2zM604.4,792.7h4.2v4.2h-4.2zM604.7,795.3h4.2v4.2h-4.2zM605.2,783.6h4.2v4.2h-4.2zM605.2,787.9h4.2v4.2h-4.2zM605.5,792.0h4.2v4.2h-4.2zM605.5,794.3h4.2v4.2h-4.2zM606.0,794.2h4.2v4.2h-4.2zM605.9,785.4h4.2v4.2h-4.2zM606.3,805.3h4.2v4.2h-4.2zM606.3,788.6h4.2v4.2h-4.2zM606.6,795.1h4.2v4.2h-4.2zM607.1,793.5h4.2v4.2h-4.2zM607.4,802.0h4.2v4.2h-4.2zM607.6,798.2h4.2v4.2h-4.2zM607.5,787.5h4.2v4.2h-4.2zM607.5,786.3h4.2v4.2h-4.2zM608.2,788.5h4.2v4.2h-4.2zM608.3,796.5h4.2v4.2h-4.2zM608.3,795.3h4.2v4.2h-4.2zM608.4,799.4h4.2v4.2h-4.2zM608.8,787.5h4.2v4.2h-4.2zM609.0,794.3h4.2v4.2h-4.2zM609.0,808.1h4.2v4.2h-4.2zM609.6,800.9h4.2v4.2h-4.2zM609.8,790.5h4.2v4.2h-4.2zM609.9,791.5h4.2v4.2h-4.2zM609.9,788.1h4.2v4.2h-4.2zM610.4,796.9h4.2v4.2h-4.2zM610.2,781.4h4.2v4.2h-4.2zM610.5,789.7h4.2v4.2h-4.2zM611.0,797.2h4.2v4.2h-4.2zM611.0,777.0h4.2v4.2h-4.2zM611.2,783.3h4.2v4.2h-4.2zM611.6,792.0h4.2v4.2h-4.2zM612.0,797.4h4.2v4.2h-4.2zM612.2,784.2h4.2v4.2h-4.2zM612.3,773.8h4.2v4.2h-4.2zM612.1,799.0h4.2v4.2h-4.2zM612.8,792.5h4.2v4.2h-4.2zM612.8,799.3h4.2v4.2h-4.2zM613.2,782.1h4.2v4.2h-4.2zM613.3,783.8h4.2v4.2h-4.2zM613.5,792.3h4.2v4.2h-4.2zM613.4,790.2h4.2v4.2h-4.2zM613.9,793.9h4.2v4.2h-4.2zM613.9,788.3h4.2v4.2h-4.2zM614.0,786.9h4.2v4.2h-4.2zM614.2,799.4h4.2v4.2h-4.2zM614.6,791.9h4.2v4.2h-4.2zM614.9,792.6h4.2v4.2h-4.2zM615.3,779.0h4.2v4.2h-4.2zM615.4,781.2h4.2v4.2h-4.2zM615.4,789.5h4.2v4.2h-4.2zM615.4,793.7h4.2v4.2h-4.2zM615.6,796.0h4.2v4.2h-4.2zM616.0,784.3h4.2v4.2h-4.2zM616.0,807.2h4.2v4.2h-4.2zM616.5,797.0h4.2v4.2h-4.2zM617.0,764.9h4.2v4.2h-4.2zM617.1,783.5h4.2v4.2h-4.2zM617.4,804.0h4.2v4.2h-4.2zM617.1,792.7h4.2v4.2h-4.2zM617.3,784.6h4.2v4.2h-4.2zM617.7,792.8h4.2v4.2h-4.2zM617.9,805.5h4.2v4.2h-4.2zM618.3,792.1h4.2v4.2h-4.2zM618.5,793.2h4.2v4.2h-4.2zM618.3,790.2h4.2v4.2h-4.2zM619.0,796.7h4.2v4.2h-4.2zM619.3,795.0h4.2v4.2h-4.2zM619.2,787.2h4.2v4.2h-4.2zM619.3,788.4h4.2v4.2h-4.2zM619.8,794.0h4.2v4.2h-4.2zM619.9,793.6h4.2v4.2h-4.2zM620.1,788.5h4.2v4.2h-4.2zM620.5,786.2h4.2v4.2h-4.2zM620.2,786.0h4.2v4.2h-4.2zM620.8,800.4h4.2v4.2h-4.2zM621.1,778.4h4.2v4.2h-4.2zM620.9,797.8h4.2v4.2h-4.2zM621.2,792.2h4.2v4.2h-4.2zM621.7,777.2h4.2v4.2h-4.2zM621.6,791.0h4.2v4.2h-4.2zM622.1,791.2h4.2v4.2h-4.2zM622.3,797.0h4.2v4.2h-4.2zM622.5,770.8h4.2v4.2h-4.2zM622.7,789.5h4.2v4.2h-4.2zM622.6,787.9h4.2v4.2h-4.2zM623.2,790.5h4.2v4.2h-4.2zM623.3,799.2h4.2v4.2h-4.2zM623.1,801.7h4.2v4.2h-4.2zM623.8,787.8h4.2v4.2h-4.2zM623.6,784.4h4.2v4.2h-4.2zM624.2,786.2h4.2v4.2h-4.2zM624.3,792.1h4.2v4.2h-4.2zM624.2,797.8h4.2v4.2h-4.2zM624.7,793.4h4.2v4.2h-4.2zM624.9,797.1h4.2v4.2h-4.2zM625.1,790.6h4.2v4.2h-4.2zM625.0,801.8h4.2v4.2h-4.2zM625.4,788.0h4.2v4.2h-4.2zM625.7,788.8h4.2v4.2h-4.2zM626.1,770.5h4.2v4.2h-4.2zM626.3,793.2h4.2v4.2h-4.2zM626.4,786.5h4.2v4.2h-4.2zM626.4,783.9h4.2v4.2h-4.2zM626.4,790.6h4.2v4.2h-4.2zM626.9,787.6h4.2v4.2h-4.2zM627.4,778.5h4.2v4.2h-4.2zM627.0,797.7h4.2v4.2h-4.2zM627.6,801.2h4.2v4.2h-4.2zM627.8,795.2h4.2v4.2h-4.2zM627.9,799.4h4.2v4.2h-4.2zM628.1,792.9h4.2v4.2h-4.2zM628.6,784.6h4.2v4.2h-4.2zM628.7,799.0h4.2v4.2h-4.2zM628.7,803.6h4.2v4.2h-4.2zM628.8,792.5h4.2v4.2h-4.2zM629.1,797.1h4.2v4.2h-4.2zM629.5,787.9h4.2v4.2h-4.2zM629.6,794.7h4.2v4.2h-4.2zM630.1,792.2h4.2v4.2h-4.2zM629.8,791.0h4.2v4.2h-4.2zM630.5,796.0h4.2v4.2h-4.2zM630.4,801.0h4.2v4.2h-4.2zM630.8,786.7h4.2v4.2h-4.2zM630.6,789.6h4.2v4.2h-4.2zM631.0,796.7h4.2v4.2h-4.2zM631.1,794.7h4.2v4.2h-4.2zM631.2,788.8h4.2v4.2h-4.2zM631.9,798.5h4.2v4.2h-4.2zM631.6,786.8h4.2v4.2h-4.2zM631.9,804.8h4.2v4.2h-4.2zM632.4,784.6h4.2v4.2h-4.2zM632.4,790.6h4.2v4.2h-4.2zM632.9,788.8h4.2v4.2h-4.2zM632.8,779.4h4.2v4.2h-4.2zM633.2,802.2h4.2v4.2h-4.2zM633.3,793.0h4.2v4.2h-4.2zM633.4,789.9h4.2v4.2h-4.2zM633.8,790.9h4.2v4.2h-4.2zM633.9,804.1h4.2v4.2h-4.2zM633.9,794.2h4.2v4.2h-4.2zM634.5,788.8h4.2v4.2h-4.2zM634.5,784.6h4.2v4.2h-4.2zM634.9,797.8h4.2v4.2h-4.2zM635.0,788.4h4.2v4.2h-4.2zM635.2,780.7h4.2v4.2h-4.2zM635.2,788.4h4.2v4.2h-4.2zM635.7,794.3h4.2v4.2h-4.2zM636.0,784.4h4.2v4.2h-4.2zM635.8,790.3h4.2v4.2h-4.2zM636.4,795.0h4.2v4.2h-4.2zM636.2,794.6h4.2v4.2h-4.2zM636.8,792.2h4.2v4.2h-4.2zM636.8,787.3h4.2v4.2h-4.2zM637.1,789.3h4.2v4.2h-4.2zM637.0,784.3h4.2v4.2h-4.2zM637.6,794.0h4.2v4.2h-4.2zM637.9,793.0h4.2v4.2h-4.2zM637.9,794.4h4.2v4.2h-4.2zM638.0,783.3h4.2v4.2h-4.2zM638.4,812.7h4.2v4.2h-4.2zM638.3,805.1h4.2v4.2h-4.2zM638.9,785.2h4.2v4.2h-4.2zM638.8,778.1h4.2v4.2h-4.2zM639.0,794.5h4.2v4.2h-4.2zM639.3,781.2h4.2v4.2h-4.2zM639.6,792.8h4.2v4.2h-4.2zM639.6,788.4h4.2v4.2h-4.2zM639.9,789.0h4.2v4.2h-4.2zM639.9,798.9h4.2v4.2h-4.2zM640.4,815.0h4.2v4.2h-4.2zM640.4,790.2h4.2v4.2h-4.2zM640.5,811.4h4.2v4.2h-4.2zM641.1,804.2h4.2v4.2h-4.2zM641.2,793.5h4.2v4.2h-4.2zM641.2,795.7h4.2v4.2h-4.2zM641.9,802.2h4.2v4.2h-4.2zM642.0,796.8h4.2v4.2h-4.2zM642.1,795.0h4.2v4.2h-4.2zM642.1,795.4h4.2v4.2h-4.2zM642.6,786.8h4.2v4.2h-4.2zM642.4,793.7h4.2v4.2h-4.2zM643.0,806.6h4.2v4.2h-4.2zM643.2,789.2h4.2v4.2h-4.2zM643.2,810.0h4.2v4.2h-4.2zM643.7,784.5h4.2v4.2h-4.2zM643.6,790.1h4.2v4.2h-4.2zM644.1,792.7h4.2v4.2h-4.2zM643.9,785.3h4.2v4.2h-4.2zM644.5,789.8h4.2v4.2h-4.2zM644.8,794.1h4.2v4.2h-4.2zM644.5,807.8h4.2v4.2h-4.2zM644.9,797.8h4.2v4.2h-4.2zM645.0,813.3h4.2v4.2h-4.2zM645.4,801.4h4.2v4.2h-4.2zM645.8,793.7h4.2v4.2h-4.2zM645.5,781.3h4.2v4.2h-4.2zM646.2,797.6h4.2v4.2h-4.2zM645.9,796.1h4.2v4.2h-4.2zM646.7,794.7h4.2v4.2h-4.2zM646.5,790.8h4.2v4.2h-4.2zM646.8,800.9h4.2v4.2h-4.2zM646.8,798.6h4.2v4.2h-4.2zM647.0,796.1h4.2v4.2h-4.2zM647.4,796.9h4.2v4.2h-4.2zM647.5,801.7h4.2v4.2h-4.2zM648.0,788.4h4.2v4.2h-4.2zM647.9,808.5h4.2v4.2h-4.2zM648.1,771.5h4.2v4.2h-4.2zM648.4,791.8h4.2v4.2h-4.2zM648.7,799.2h4.2v4.2h-4.2zM649.0,800.2h4.2v4.2h-4.2zM649.3,797.7h4.2v4.2h-4.2zM649.4,803.0h4.2v4.2h-4.2zM649.4,797.2h4.2v4.2h-4.2zM649.5,790.7h4.2v4.2h-4.2zM649.7,793.8h4.2v4.2h-4.2zM649.9,781.6h4.2v4.2h-4.2zM650.4,797.5h4.2v4.2h-4.2zM650.5,789.2h4.2v4.2h-4.2zM650.9,793.0h4.2v4.2h-4.2zM650.9,783.8h4.2v4.2h-4.2zM650.9,806.5h4.2v4.2h-4.2zM651.7,796.9h4.2v4.2h-4.2zM651.7,786.7h4.2v4.2h-4.2zM651.7,796.5h4.2v4.2h-4.2zM651.9,784.4h4.2v4.2h-4.2zM652.0,792.7h4.2v4.2h-4.2zM652.3,788.2h4.2v4.2h-4.2zM652.4,797.0h4.2v4.2h-4.2zM653.0,786.7h4.2v4.2h-4.2zM653.2,795.6h4.2v4.2h-4.2zM653.3,804.9h4.2v4.2h-4.2zM653.7,785.6h4.2v4.2h-4.2zM653.9,791.4h4.2v4.2h-4.2zM653.9,798.0h4.2v4.2h-4.2zM653.9,795.9h4.2v4.2h-4.2zM654.6,790.6h4.2v4.2h-4.2zM654.5,795.9h4.2v4.2h-4.2zM654.9,792.4h4.2v4.2h-4.2zM655.2,759.6h4.2v4.2h-4.2zM655.0,787.5h4.2v4.2h-4.2zM655.1,790.7h4.2v4.2h-4.2zM655.5,791.7h4.2v4.2h-4.2zM655.6,792.7h4.2v4.2h-4.2zM655.7,813.2h4.2v4.2h-4.2zM656.2,791.6h4.2v4.2h-4.2zM656.4,797.6h4.2v4.2h-4.2zM656.6,793.2h4.2v4.2h-4.2zM657.0,789.6h4.2v4.2h-4.2zM656.8,794.3h4.2v4.2h-4.2zM657.1,783.4h4.2v4.2h-4.2zM657.3,798.3h4.2v4.2h-4.2zM657.7,788.3h4.2v4.2h-4.2zM657.5,783.9h4.2v4.2h-4.2zM657.8,788.3h4.2v4.2h-4.2zM658.1,797.5h4.2v4.2h-4.2zM658.5,800.1h4.2v4.2h-4.2zM658.8,793.5h4.2v4.2h-4.2zM658.9,791.7h4.2v4.2h-4.2zM659.3,796.8h4.2v4.2h-4.2zM659.3,791.2h4.2v4.2h-4.2zM659.8,790.6h4.2v4.2h-4.2zM659.9,794.2h4.2v4.2h-4.2zM659.6,796.4h4.2v4.2h-4.2zM660.4,783.3h4.2v4.2h-4.2zM660.1,795.4h4.2v4.2h-4.2zM660.3,787.3h4.2v4.2h-4.2zM661.0,795.2h4.2v4.2h-4.2zM660.8,797.5h4.2v4.2h-4.2zM661.3,791.8h4.2v4.2h-4.2zM661.5,804.3h4.2v4.2h-4.2zM661.4,777.4h4.2v4.2h-4.2zM661.7,785.2h4.2v4.2h-4.2zM661.8,802.9h4.2v4.2h-4.2zM662.2,777.4h4.2v4.2h-4.2zM662.3,794.4h4.2v4.2h-4.2zM662.6,791.6h4.2v4.2h-4.2zM662.6,786.8h4.2v4.2h-4.2zM662.9,788.2h4.2v4.2h-4.2zM663.1,793.4h4.2v4.2h-4.2zM663.3,790.2h4.2v4.2h-4.2zM663.4,792.4h4.2v4.2h-4.2zM663.6,787.7h4.2v4.2h-4.2zM664.0,795.2h4.2v4.2h-4.2zM664.3,792.6h4.2v4.2h-4.2zM664.5,800.0h4.2v4.2h-4.2zM664.8,789.1h4.2v4.2h-4.2zM664.9,793.4h4.2v4.2h-4.2zM665.0,801.4h4.2v4.2h-4.2zM665.6,794.4h4.2v4.2h-4.2zM665.3,790.4h4.2v4.2h-4.2zM665.7,794.0h4.2v4.2h-4.2zM665.9,795.1h4.2v4.2h-4.2zM666.3,788.7h4.2v4.2h-4.2zM666.4,785.3h4.2v4.2h-4.2zM666.5,789.2h4.2v4.2h-4.2zM666.6,793.6h4.2v4.2h-4.2zM667.0,795.0h4.2v4.2h-4.2zM666.9,793.2h4.2v4.2h-4.2zM667.1,796.4h4.2v4.2h-4.2zM667.5,770.7h4.2v4.2h-4.2zM667.8,790.4h4.2v4.2h-4.2zM668.1,793.6h4.2v4.2h-4.2zM667.9,801.1h4.2v4.2h-4.2zM668.7,788.0h4.2v4.2h-4.2zM668.6,790.1h4.2v4.2h-4.2zM668.6,789.2h4.2v4.2h-4.2zM668.9,800.4h4.2v4.2h-4.2zM669.1,790.3h4.2v4.2h-4.2zM669.4,790.5h4.2v4.2h-4.2zM669.7,797.0h4.2v4.2h-4.2zM670.1,784.3h4.2v4.2h-4.2zM670.0,811.0h4.2v4.2h-4.2zM670.2,797.9h4.2v4.2h-4.2zM670.4,789.7h4.2v4.2h-4.2zM670.8,784.8h4.2v4.2h-4.2zM671.2,793.7h4.2v4.2h-4.2zM671.1,786.7h4.2v4.2h-4.2zM671.3,794.8h4.2v4.2h-4.2zM671.5,793.3h4.2v4.2h-4.2zM671.9,796.2h4.2v4.2h-4.2zM672.1,788.9h4.2v4.2h-4.2zM672.3,797.2h4.2v4.2h-4.2zM672.5,793.5h4.2v4.2h-4.2zM672.7,789.5h4.2v4.2h-4.2zM672.7,795.4h4.2v4.2h-4.2zM672.9,802.4h4.2v4.2h-4.2zM673.1,802.5h4.2v4.2h-4.2zM673.2,798.3h4.2v4.2h-4.2zM673.5,784.4h4.2v4.2h-4.2zM674.1,797.7h4.2v4.2h-4.2zM674.0,791.8h4.2v4.2h-4.2zM674.5,789.6h4.2v4.2h-4.2zM674.4,797.1h4.2v4.2h-4.2zM674.6,792.3h4.2v4.2h-4.2zM674.7,797.6h4.2v4.2h-4.2zM674.9,790.7h4.2v4.2h-4.2zM675.4,799.1h4.2v4.2h-4.2zM675.7,800.4h4.2v4.2h-4.2zM675.8,793.1h4.2v4.2h-4.2zM675.9,796.7h4.2v4.2h-4.2zM676.1,790.5h4.2v4.2h-4.2zM676.3,788.1h4.2v4.2h-4.2zM676.6,794.1h4.2v4.2h-4.2zM676.6,799.2h4.2v4.2h-4.2zM676.8,799.1h4.2v4.2h-4.2zM677.1,787.7h4.2v4.2h-4.2zM677.3,789.8h4.2v4.2h-4.2zM677.4,791.2h4.2v4.2h-4.2zM677.7,794.6h4.2v4.2h-4.2zM678.2,796.5h4.2v4.2h-4.2zM678.0,790.5h4.2v4.2h-4.2zM678.7,789.3h4.2v4.2h-4.2zM678.7,797.9h4.2v4.2h-4.2zM679.1,788.9h4.2v4.2h-4.2zM679.3,804.5h4.2v4.2h-4.2zM679.2,795.2h4.2v4.2h-4.2zM679.6,805.4h4.2v4.2h-4.2zM679.5,796.6h4.2v4.2h-4.2zM680.1,787.7h4.2v4.2h-4.2zM679.8,785.6h4.2v4.2h-4.2zM680.2,794.5h4.2v4.2h-4.2zM680.6,775.8h4.2v4.2h-4.2zM680.8,783.9h4.2v4.2h-4.2zM680.9,794.3h4.2v4.2h-4.2zM681.1,782.3h4.2v4.2h-4.2zM681.1,797.0h4.2v4.2h-4.2zM681.8,802.0h4.2v4.2h-4.2zM681.7,799.3h4.2v4.2h-4.2zM682.1,796.7h4.2v4.2h-4.2zM682.1,802.8h4.2v4.2h-4.2zM682.3,792.6h4.2v4.2h-4.2zM682.6,787.1h4.2v4.2h-4.2zM682.7,806.2h4.2v4.2h-4.2zM682.7,799.4h4.2v4.2h-4.2zM683.4,791.7h4.2v4.2h-4.2zM683.2,797.8h4.2v4.2h-4.2zM683.7,800.5h4.2v4.2h-4.2zM683.9,794.0h4.2v4.2h-4.2zM683.8,782.5h4.2v4.2h-4.2zM684.1,794.5h4.2v4.2h-4.2zM684.3,796.7h4.2v4.2h-4.2zM684.6,799.0h4.2v4.2h-4.2zM684.9,787.7h4.2v4.2h-4.2zM685.0,796.5h4.2v4.2h-4.2zM685.4,793.7h4.2v4.2h-4.2zM685.6,782.7h4.2v4.2h-4.2zM685.4,795.3h4.2v4.2h-4.2zM685.9,790.3h4.2v4.2h-4.2zM686.3,797.6h4.2v4.2h-4.2zM686.3,807.6h4.2v4.2h-4.2zM686.2,799.2h4.2v4.2h-4.2zM686.9,803.3h4.2v4.2h-4.2zM687.2,786.4h4.2v4.2h-4.2zM687.2,797.2h4.2v4.2h-4.2zM687.3,780.4h4.2v4.2h-4.2zM687.3,807.3h4.2v4.2h-4.2zM687.8,794.6h4.2v4.2h-4.2zM688.3,799.7h4.2v4.2h-4.2zM688.0,796.9h4.2v4.2h-4.2zM688.5,791.3h4.2v4.2h-4.2zM688.7,773.3h4.2v4.2h-4.2zM688.9,792.7h4.2v4.2h-4.2zM688.8,799.7h4.2v4.2h-4.2zM689.4,787.4h4.2v4.2h-4.2zM689.3,798.3h4.2v4.2h-4.2zM689.8,788.3h4.2v4.2h-4.2zM689.7,793.9h4.2v4.2h-4.2zM690.3,793.0h4.2v4.2h-4.2zM690.3,792.3h4.2v4.2h-4.2zM690.7,788.2h4.2v4.2h-4.2zM690.8,798.8h4.2v4.2h-4.2zM690.9,789.2h4.2v4.2h-4.2zM690.9,796.7h4.2v4.2h-4.2zM691.0,804.0h4.2v4.2h-4.2zM691.6,793.8h4.2v4.2h-4.2zM691.9,784.6h4.2v4.2h-4.2zM692.0,789.2h4.2v4.2h-4.2zM692.1,785.2h4.2v4.2h-4.2zM692.2,793.2h4.2v4.2h-4.2zM692.3,792.9h4.2v4.2h-4.2zM692.8,794.4h4.2v4.2h-4.2zM693.0,785.3h4.2v4.2h-4.2zM692.9,802.0h4.2v4.2h-4.2zM693.6,794.3h4.2v4.2h-4.2zM693.3,800.4h4.2v4.2h-4.2zM693.7,796.6h4.2v4.2h-4.2zM694.1,785.0h4.2v4.2h-4.2zM693.9,805.5h4.2v4.2h-4.2zM694.5,796.7h4.2v4.2h-4.2zM694.6,790.9h4.2v4.2h-4.2zM694.6,793.2h4.2v4.2h-4.2zM695.3,797.0h4.2v4.2h-4.2zM695.0,801.8h4.2v4.2h-4.2zM695.3,790.3h4.2v4.2h-4.2zM695.9,787.6h4.2v4.2h-4.2zM695.7,797.8h4.2v4.2h-4.2zM696.3,801.9h4.2v4.2h-4.2zM696.4,794.6h4.2v4.2h-4.2zM696.5,798.4h4.2v4.2h-4.2zM696.9,799.1h4.2v4.2h-4.2zM696.8,791.9h4.2v4.2h-4.2zM697.3,797.4h4.2v4.2h-4.2zM697.1,790.7h4.2v4.2h-4.2zM697.6,788.8h4.2v4.2h-4.2zM697.9,796.7h4.2v4.2h-4.2zM697.7,794.9h4.2v4.2h-4.2zM697.8,795.0h4.2v4.2h-4.2zM698.1,790.4h4.2v4.2h-4.2zM698.5,792.4h4.2v4.2h-4.2zM699.0,797.4h4.2v4.2h-4.2zM698.7,798.0h4.2v4.2h-4.2zM698.9,800.9h4.2v4.2h-4.2zM699.3,793.5h4.2v4.2h-4.2zM699.9,825.9h4.2v4.2h-4.2zM699.6,789.6h4.2v4.2h-4.2zM699.9,795.6h4.2v4.2h-4.2zM700.1,796.8h4.2v4.2h-4.2zM700.1,802.8h4.2v4.2h-4.2zM700.9,793.7h4.2v4.2h-4.2zM700.8,813.2h4.2v4.2h-4.2zM701.1,801.4h4.2v4.2h-4.2zM701.3,794.1h4.2v4.2h-4.2zM701.4,785.4h4.2v4.2h-4.2zM701.5,795.0h4.2v4.2h-4.2zM702.1,800.2h4.2v4.2h-4.2zM701.9,781.4h4.2v4.2h-4.2zM702.4,791.8h4.2v4.2h-4.2zM702.7,794.0h4.2v4.2h-4.2zM702.5,781.3h4.2v4.2h-4.2zM703.0,794.5h4.2v4.2h-4.2zM702.8,792.9h4.2v4.2h-4.2zM703.0,792.7h4.2v4.2h-4.2zM703.5,783.2h4.2v4.2h-4.2zM703.4,789.8h4.2v4.2h-4.2zM703.7,807.4h4.2v4.2h-4.2zM704.2,803.8h4.2v4.2h-4.2zM704.6,791.4h4.2v4.2h-4.2zM704.6,794.3h4.2v4.2h-4.2zM704.5,785.4h4.2v4.2h-4.2zM705.3,794.1h4.2v4.2h-4.2zM705.4,785.5h4.2v4.2h-4.2zM705.7,795.7h4.2v4.2h-4.2zM705.6,790.5h4.2v4.2h-4.2zM705.7,800.6h4.2v4.2h-4.2zM706.2,792.0h4.2v4.2h-4.2zM706.3,794.7h4.2v4.2h-4.2zM706.7,797.4h4.2v4.2h-4.2zM706.5,800.8h4.2v4.2h-4.2zM707.2,803.8h4.2v4.2h-4.2zM707.3,796.7h4.2v4.2h-4.2zM707.3,791.0h4.2v4.2h-4.2zM707.5,788.1h4.2v4.2h-4.2zM707.9,803.7h4.2v4.2h-4.2zM708.0,791.7h4.2v4.2h-4.2zM708.4,797.2h4.2v4.2h-4.2zM708.6,789.0h4.2v4.2h-4.2zM708.7,792.7h4.2v4.2h-4.2zM708.5,794.0h4.2v4.2h-4.2zM708.8,798.0h4.2v4.2h-4.2zM708.9,793.3h4.2v4.2h-4.2zM709.4,809.6h4.2v4.2h-4.2zM709.8,782.9h4.2v4.2h-4.2zM709.6,792.8h4.2v4.2h-4.2zM710.0,799.5h4.2v4.2h-4.2zM710.1,792.4h4.2v4.2h-4.2zM710.4,784.5h4.2v4.2h-4.2zM710.8,797.3h4.2v4.2h-4.2zM710.6,788.3h4.2v4.2h-4.2zM711.0,800.0h4.2v4.2h-4.2zM711.0,787.0h4.2v4.2h-4.2zM711.7,792.1h4.2v4.2h-4.2zM711.7,801.5h4.2v4.2h-4.2zM711.6,790.3h4.2v4.2h-4.2zM712.0,794.7h4.2v4.2h-4.2zM712.3,805.3h4.2v4.2h-4.2zM712.2,793.1h4.2v4.2h-4.2zM712.7,789.5h4.2v4.2h-4.2zM712.7,787.0h4.2v4.2h-4.2zM713.0,790.4h4.2v4.2h-4.2zM713.3,794.2h4.2v4.2h-4.2zM713.6,798.7h4.2v4.2h-4.2zM713.7,792.2h4.2v4.2h-4.2zM714.0,795.2h4.2v4.2h-4.2zM714.3,799.7h4.2v4.2h-4.2zM714.5,802.2h4.2v4.2h-4.2zM714.5,792.7h4.2v4.2h-4.2zM714.8,797.6h4.2v4.2h-4.2zM714.8,799.4h4.2v4.2h-4.2zM714.9,801.2h4.2v4.2h-4.2zM715.1,790.0h4.2v4.2h-4.2zM715.9,790.6h4.2v4.2h-4.2zM715.9,797.9h4.2v4.2h-4.2zM716.0,795.9h4.2v4.2h-4.2zM716.0,788.2h4.2v4.2h-4.2zM716.6,794.8h4.2v4.2h-4.2zM716.4,794.4h4.2v4.2h-4.2zM717.1,791.3h4.2v4.2h-4.2zM717.0,807.6h4.2v4.2h-4.2zM717.4,788.9h4.2v4.2h-4.2zM717.4,784.8h4.2v4.2h-4.2zM717.5,798.1h4.2v4.2h-4.2zM718.1,798.2h4.2v4.2h-4.2zM718.3,793.2h4.2v4.2h-4.2zM718.1,787.8h4.2v4.2h-4.2zM718.7,803.7h4.2v4.2h-4.2zM718.7,787.0h4.2v4.2h-4.2zM718.8,790.7h4.2v4.2h-4.2zM719.1,793.3h4.2v4.2h-4.2zM719.6,790.2h4.2v4.2h-4.2zM719.6,797.9h4.2v4.2h-4.2zM719.5,792.7h4.2v4.2h-4.2zM720.1,800.9h4.2v4.2h-4.2zM720.4,802.7h4.2v4.2h-4.2zM720.5,785.8h4.2v4.2h-4.2zM720.9,793.8h4.2v4.2h-4.2zM720.7,787.1h4.2v4.2h-4.2zM721.0,789.5h4.2v4.2h-4.2zM721.1,798.3h4.2v4.2h-4.2zM721.2,803.2h4.2v4.2h-4.2zM721.9,800.0h4.2v4.2h-4.2zM722.1,792.0h4.2v4.2h-4.2zM722.2,792.9h4.2v4.2h-4.2zM722.2,797.8h4.2v4.2h-4.2zM722.4,795.6h4.2v4.2h-4.2zM722.8,798.2h4.2v4.2h-4.2zM722.8,795.0h4.2v4.2h-4.2zM722.8,797.8h4.2v4.2h-4.2zM723.3,801.5h4.2v4.2h-4.2zM723.2,793.3h4.2v4.2h-4.2zM723.7,800.5h4.2v4.2h-4.2zM723.8,785.1h4.2v4.2h-4.2zM723.9,800.5h4.2v4.2h-4.2zM724.5,793.0h4.2v4.2h-4.2zM724.5,784.3h4.2v4.2h-4.2zM724.5,796.3h4.2v4.2h-4.2zM725.2,796.0h4.2v4.2h-4.2zM725.1,806.4h4.2v4.2h-4.2zM725.5,809.9h4.2v4.2h-4.2zM725.5,786.1h4.2v4.2h-4.2zM726.0,798.3h4.2v4.2h-4.2zM726.0,809.5h4.2v4.2h-4.2zM726.3,782.0h4.2v4.2h-4.2zM726.7,796.2h4.2v4.2h-4.2zM726.8,797.1h4.2v4.2h-4.2zM726.7,782.1h4.2v4.2h-4.2zM727.2,791.6h4.2v4.2h-4.2zM727.0,779.4h4.2v4.2h-4.2zM727.2,787.7h4.2v4.2h-4.2zM727.9,809.1h4.2v4.2h-4.2zM727.7,813.0h4.2v4.2h-4.2zM728.0,789.7h4.2v4.2h-4.2zM728.2,798.0h4.2v4.2h-4.2zM728.4,794.4h4.2v4.2h-4.2zM729.0,802.8h4.2v4.2h-4.2zM729.2,795.5h4.2v4.2h-4.2zM729.1,799.0h4.2v4.2h-4.2zM729.4,787.8h4.2v4.2h-4.2zM729.3,788.2h4.2v4.2h-4.2zM729.8,792.7h4.2v4.2h-4.2zM730.0,798.8h4.2v4.2h-4.2zM730.3,798.2h4.2v4.2h-4.2zM730.1,789.8h4.2v4.2h-4.2zM730.6,789.5h4.2v4.2h-4.2zM730.7,786.3h4.2v4.2h-4.2zM731.0,792.7h4.2v4.2h-4.2zM731.0,794.2h4.2v4.2h-4.2zM731.2,802.3h4.2v4.2h-4.2zM731.6,799.5h4.2v4.2h-4.2zM731.8,795.3h4.2v4.2h-4.2zM731.9,799.6h4.2v4.2h-4.2zM732.2,771.9h4.2v4.2h-4.2zM732.4,797.9h4.2v4.2h-4.2zM732.8,797.8h4.2v4.2h-4.2zM732.7,794.5h4.2v4.2h-4.2zM733.0,791.9h4.2v4.2h-4.2zM733.1,795.2h4.2v4.2h-4.2zM733.7,792.6h4.2v4.2h-4.2zM733.6,795.9h4.2v4.2h-4.2zM733.8,800.7h4.2v4.2h-4.2zM734.0,786.1h4.2v4.2h-4.2zM734.3,787.2h4.2v4.2h-4.2zM734.2,794.7h4.2v4.2h-4.2zM734.6,794.6h4.2v4.2h-4.2zM734.8,793.0h4.2v4.2h-4.2zM735.4,791.9h4.2v4.2h-4.2zM735.5,794.0h4.2v4.2h-4.2zM735.6,819.1h4.2v4.2h-4.2zM735.7,788.9h4.2v4.2h-4.2zM736.0,784.7h4.2v4.2h-4.2zM736.3,798.8h4.2v4.2h-4.2zM736.6,797.4h4.2v4.2h-4.2zM736.5,786.3h4.2v4.2h-4.2zM737.1,796.0h4.2v4.2h-4.2zM737.2,805.4h4.2v4.2h-4.2zM737.1,787.1h4.2v4.2h-4.2zM737.6,799.2h4.2v4.2h-4.2zM737.7,786.6h4.2v4.2h-4.2zM737.9,794.8h4.2v4.2h-4.2zM738.1,801.8h4.2v4.2h-4.2zM738.5,801.4h4.2v4.2h-4.2zM738.2,794.6h4.2v4.2h-4.2zM738.6,793.1h4.2v4.2h-4.2zM738.7,786.5h4.2v4.2h-4.2zM738.8,793.8h4.2v4.2h-4.2zM739.3,794.8h4.2v4.2h-4.2zM739.7,805.6h4.2v4.2h-4.2zM739.4,789.6h4.2v4.2h-4.2zM739.6,789.6h4.2v4.2h-4.2zM739.8,787.7h4.2v4.2h-4.2zM740.4,800.9h4.2v4.2h-4.2zM740.6,814.2h4.2v4.2h-4.2zM740.6,793.2h4.2v4.2h-4.2zM740.7,796.9h4.2v4.2h-4.2zM741.2,785.3h4.2v4.2h-4.2zM741.5,799.1h4.2v4.2h-4.2zM741.4,789.8h4.2v4.2h-4.2zM741.5,789.2h4.2v4.2h-4.2zM741.7,789.8h4.2v4.2h-4.2zM742.3,789.8h4.2v4.2h-4.2zM742.4,802.5h4.2v4.2h-4.2zM742.8,789.1h4.2v4.2h-4.2zM742.7,795.3h4.2v4.2h-4.2zM742.9,787.3h4.2v4.2h-4.2zM743.4,774.9h4.2v4.2h-4.2zM743.3,803.8h4.2v4.2h-4.2zM743.4,801.3h4.2v4.2h-4.2zM744.1,796.6h4.2v4.2h-4.2zM744.0,798.0h4.2v4.2h-4.2zM744.1,798.0h4.2v4.2h-4.2zM744.2,803.6h4.2v4.2h-4.2zM744.4,794.2h4.2v4.2h-4.2zM744.9,800.7h4.2v4.2h-4.2zM745.1,796.2h4.2v4.2h-4.2zM745.6,794.7h4.2v4.2h-4.2zM745.7,801.1h4.2v4.2h-4.2zM745.6,793.1h4.2v4.2h-4.2zM745.9,799.3h4.2v4.2h-4.2zM746.4,792.8h4.2v4.2h-4.2zM746.0,786.4h4.2v4.2h-4.2zM746.3,789.0h4.2v4.2h-4.2zM746.7,795.9h4.2v4.2h-4.2zM747.2,789.0h4.2v4.2h-4.2zM747.2,802.9h4.2v4.2h-4.2zM747.4,800.8h4.2v4.2h-4.2zM747.6,789.4h4.2v4.2h-4.2zM748.0,797.0h4.2v4.2h-4.2zM748.1,785.7h4.2v4.2h-4.2zM748.3,792.1h4.2v4.2h-4.2zM748.3,799.5h4.2v4.2h-4.2zM748.4,800.0h4.2v4.2h-4.2zM748.9,794.3h4.2v4.2h-4.2zM749.3,793.1h4.2v4.2h-4.2zM749.0,792.3h4.2v4.2h-4.2zM749.6,799.0h4.2v4.2h-4.2zM749.6,774.2h4.2v4.2h-4.2zM750.0,794.8h4.2v4.2h-4.2zM750.1,791.3h4.2v4.2h-4.2zM750.0,796.0h4.2v4.2h-4.2zM750.5,796.6h4.2v4.2h-4.2zM750.8,779.1h4.2v4.2h-4.2zM751.0,785.2h4.2v4.2h-4.2zM751.3,799.7h4.2v4.2h-4.2zM751.2,787.6h4.2v4.2h-4.2zM751.3,798.6h4.2v4.2h-4.2zM751.8,801.8h4.2v4.2h-4.2zM751.7,796.8h4.2v4.2h-4.2zM752.2,794.8h4.2v4.2h-4.2zM752.3,794.7h4.2v4.2h-4.2zM752.3,795.9h4.2v4.2h-4.2zM752.8,791.1h4.2v4.2h-4.2zM752.8,778.4h4.2v4.2h-4.2zM753.2,785.4h4.2v4.2h-4.2zM753.3,794.6h4.2v4.2h-4.2zM753.7,784.8h4.2v4.2h-4.2zM753.6,796.3h4.2v4.2h-4.2zM754.3,798.7h4.2v4.2h-4.2zM754.3,794.9h4.2v4.2h-4.2zM754.2,781.2h4.2v4.2h-4.2zM754.8,785.7h4.2v4.2h-4.2zM755.1,786.4h4.2v4.2h-4.2zM755.1,798.1h4.2v4.2h-4.2zM755.0,784.5h4.2v4.2h-4.2zM755.4,784.1h4.2v4.2h-4.2zM755.6,784.6h4.2v4.2h-4.2zM755.7,787.6h4.2v4.2h-4.2zM756.2,795.5h4.2v4.2h-4.2zM756.5,798.1h4.2v4.2h-4.2zM756.3,797.6h4.2v4.2h-4.2zM757.0,802.2h4.2v4.2h-4.2zM757.1,793.7h4.2v4.2h-4.2zM757.0,795.2h4.2v4.2h-4.2zM757.1,797.4h4.2v4.2h-4.2zM757.5,785.9h4.2v4.2h-4.2zM757.7,793.3h4.2v4.2h-4.2zM758.2,798.8h4.2v4.2h-4.2zM758.1,790.7h4.2v4.2h-4.2zM758.6,808.9h4.2v4.2h-4.2zM758.8,791.8h4.2v4.2h-4.2zM759.0,789.2h4.2v4.2h-4.2zM759.0,792.0h4.2v4.2h-4.2zM759.4,804.4h4.2v4.2h-4.2zM759.6,799.7h4.2v4.2h-4.2zM759.5,798.6h4.2v4.2h-4.2zM759.6,794.3h4.2v4.2h-4.2zM760.2,812.3h4.2v4.2h-4.2zM760.5,789.0h4.2v4.2h-4.2zM760.6,795.1h4.2v4.2h-4.2zM760.8,796.1h4.2v4.2h-4.2zM760.9,795.7h4.2v4.2h-4.2zM761.3,798.5h4.2v4.2h-4.2zM761.0,784.5h4.2v4.2h-4.2zM761.3,792.2h4.2v4.2h-4.2zM761.8,804.7h4.2v4.2h-4.2zM761.8,795.2h4.2v4.2h-4.2z"/>
<path class="ax" stroke-width="6.0" d="M140.9,741.2 V1168.5 M124.30000000000001,1152.2 H767.0 M124.30000000000001,1057.7 H140.9 M124.30000000000001,963.1 H140.9 M124.30000000000001,868.6 H140.9 M124.30000000000001,774.0 H140.9 M348.6,1152.2 V1168.5 M556.3,1152.2 V1168.5 M764.0,1152.2 V1168.5"/>
<text class="b" transform="translate(102.83,1165.50) scale(0.96,1)" font-size="38.00" letter-spacing="0.000">0</text>
<text class="b" transform="translate(82.94,1070.95) scale(0.96,1)" font-size="38.00" letter-spacing="-0.101">25</text>
<text class="b" transform="translate(83.48,976.40) scale(0.96,1)" font-size="38.00" letter-spacing="-0.165">50</text>
<text class="b" transform="translate(83.43,881.85) scale(0.96,1)" font-size="38.00" letter-spacing="-0.619">75</text>
<text class="b" transform="translate(63.50,787.30) scale(0.96,1)" font-size="38.00" letter-spacing="-0.245">100</text>
<text class="b" transform="translate(130.78,1203.80) scale(0.96,1)" font-size="38.00" letter-spacing="0.000">0</text>
<text class="b" transform="translate(317.60,1203.80) scale(0.96,1)" font-size="38.00" letter-spacing="0.223">100</text>
<text class="b" transform="translate(526.34,1203.80) scale(0.96,1)" font-size="38.00" letter-spacing="-0.315">200</text>
<text class="b" transform="translate(734.46,1203.80) scale(0.96,1)" font-size="38.00" letter-spacing="-0.537">300</text>
<text class="b" transform="translate(353.35,1268.50) scale(0.96,1)" font-size="41.80" letter-spacing="0.007">Time (sec)</text>
<text class="b" transform="translate(34.30,1026.42) rotate(-90) scale(0.96,1)" font-size="47.00" letter-spacing="-0.722">F<tspan font-size="34.78" dy="13.00">(t)</tspan><tspan dy="-13.00">/F</tspan><tspan font-size="33.37" dy="12.00">0</tspan><tspan dy="-12.00">(%)</tspan></text>
<rect x="914.7" y="661.0" width="76.4" height="93.4" rx="2.8" fill="#000"/>
<text transform="translate(934.83,731.20) scale(0.899,1)" font-size="53.93" style="fill:#fff">D</text>
<defs>
<pattern id="py" patternUnits="userSpaceOnUse" x="-0.4" y="1.95" width="8.1" height="8.1"><rect width="8.1" height="8.1" fill="#000"/><rect x="4.05" y="0" width="4.05" height="4.05" fill="#ff0"/><rect x="0" y="4.05" width="4.05" height="4.05" fill="#ff0"/></pattern>
<pattern id="pr" patternUnits="userSpaceOnUse" x="3.2" y="3.0" width="16.2" height="16.2"><rect width="16.2" height="16.2" fill="#000"/><rect x="0" y="0" width="8.1" height="8.1" fill="#f00"/><rect x="8.1" y="8.1" width="8.1" height="8.1" fill="#f00"/></pattern>
<pattern id="pg" patternUnits="userSpaceOnUse" x="0" y="6" width="8.12" height="8.12"><rect width="8.12" height="8.12" fill="#000"/><rect x="0" y="0" width="8.12" height="6.05" fill="#0f0"/></pattern>
<pattern id="ly" patternUnits="userSpaceOnUse" x="6.6" y="6.2" width="8.1" height="8.1"><rect width="8.1" height="8.1" fill="#000"/><rect x="0" y="0" width="4.05" height="4.05" fill="#ff0"/><rect x="4.05" y="4.05" width="4.05" height="4.05" fill="#ff0"/></pattern>
<pattern id="lr" patternUnits="userSpaceOnUse" x="3.1" y="3.4" width="16.2" height="16.2"><rect width="16.2" height="16.2" fill="#000"/><rect x="0" y="0" width="8.1" height="8.1" fill="#f00"/><rect x="8.1" y="8.1" width="8.1" height="8.1" fill="#f00"/></pattern>
<pattern id="lg" patternUnits="userSpaceOnUse" x="0" y="7.0" width="8.2" height="8.2"><rect width="8.2" height="8.2" fill="#000"/><rect x="0" y="0" width="8.2" height="6.4" fill="#0f0"/></pattern>
</defs>
<g transform="translate(1083.1,586.4)"><rect x="2.9" y="2.9" width="43.6" height="30.5" fill="url(#ly)" stroke="#000" stroke-width="5.8"/></g>
<text class="b" transform="translate(1153.48,618.00) scale(0.96,1)" font-size="39.20" letter-spacing="0.913">PLGA-DDA-GSH-AuNCs</text>
<g transform="translate(1083.1,635.2)"><rect x="2.9" y="2.9" width="43.6" height="30.5" fill="url(#lr)" stroke="#000" stroke-width="5.8"/></g>
<text class="b" transform="translate(1153.48,667.10) scale(0.96,1)" font-size="39.20" letter-spacing="0.943">PLGA-Nile Red</text>
<g transform="translate(1083.1,684.0)"><rect x="2.9" y="2.9" width="43.6" height="30.5" fill="url(#lg)" stroke="#000" stroke-width="5.8"/></g>
<text class="b" transform="translate(1153.48,716.20) scale(0.96,1)" font-size="39.20" letter-spacing="1.164">PLGA-Fluorescein</text>
<text class="r" transform="translate(1073.98,774.00) scale(1.0,1)" font-size="45.50" letter-spacing="0.911">ns</text>
<text class="r" transform="translate(1113.58,827.70) scale(1.0,1)" font-size="45.50" letter-spacing="-0.189">ns</text>
<text class="r" transform="translate(1223.98,785.00) scale(1.0,1)" font-size="45.50" letter-spacing="1.111">ns</text>
<text class="r" transform="translate(1377.68,801.30) scale(1.0,1)" font-size="45.50" letter-spacing="0.911">ns</text>
<text class="r" transform="translate(1529.98,789.80) scale(1.0,1)" font-size="45.50" letter-spacing="1.211">ns</text>
<text class="r" transform="translate(1281.09,862.84) scale(1.0,1)" font-size="47.00" letter-spacing="0.000">*</text>
<text class="r" transform="translate(1421.24,909.74) scale(1.0,1)" font-size="47.00" letter-spacing="3.310">***</text>
<text class="r" transform="translate(1556.74,977.34) scale(1.0,1)" font-size="47.00" letter-spacing="2.843">****</text>
<path d="M1054.1,833.3 V806.1 M1047.4,806.1 H1060.8" stroke="#000" stroke-width="4.2" stroke-linecap="round" fill="none"/>
<g transform="translate(1037.35,830.40)"><rect x="2.9" y="2.9" width="27.70" height="333.00" fill="url(#py)" stroke="#000" stroke-width="5.8" stroke-linejoin="round"/></g>
<path d="M1095.8,809.5 V782.3 M1089.1,782.3 H1102.5" stroke="#000" stroke-width="4.2" stroke-linecap="round" fill="none"/>
<g transform="translate(1079.05,806.61)"><rect x="2.9" y="2.9" width="27.70" height="356.79" fill="url(#pr)" stroke="#000" stroke-width="5.8" stroke-linejoin="round"/></g>
<path d="M1137.5,860.5 V843.5 M1130.8,843.5 H1144.2" stroke="#000" stroke-width="4.2" stroke-linecap="round" fill="none"/>
<g transform="translate(1120.75,857.58)"><rect x="2.9" y="2.9" width="27.70" height="305.82" fill="url(#pg)" stroke="#000" stroke-width="5.8" stroke-linejoin="round"/></g>
<path d="M1207.4,836.7 V812.9 M1200.7,812.9 H1214.1" stroke="#000" stroke-width="4.2" stroke-linecap="round" fill="none"/>
<g transform="translate(1190.65,833.79)"><rect x="2.9" y="2.9" width="27.70" height="329.61" fill="url(#py)" stroke="#000" stroke-width="5.8" stroke-linejoin="round"/></g>
<path d="M1249.1,826.5 V795.9 M1242.4,795.9 H1255.8" stroke="#000" stroke-width="4.2" stroke-linecap="round" fill="none"/>
<g transform="translate(1232.35,823.60)"><rect x="2.9" y="2.9" width="27.70" height="339.80" fill="url(#pr)" stroke="#000" stroke-width="5.8" stroke-linejoin="round"/></g>
<path d="M1290.8,894.5 V874.1 M1284.1,874.1 H1297.5" stroke="#000" stroke-width="4.2" stroke-linecap="round" fill="none"/>
<g transform="translate(1274.05,891.56)"><rect x="2.9" y="2.9" width="27.70" height="271.84" fill="url(#pg)" stroke="#000" stroke-width="5.8" stroke-linejoin="round"/></g>
<path d="M1360.7,840.1 V816.3 M1354.0,816.3 H1367.4" stroke="#000" stroke-width="4.2" stroke-linecap="round" fill="none"/>
<g transform="translate(1343.95,837.19)"><rect x="2.9" y="2.9" width="27.70" height="326.21" fill="url(#py)" stroke="#000" stroke-width="5.8" stroke-linejoin="round"/></g>
<path d="M1402.4,843.5 V809.5 M1395.7,809.5 H1409.1" stroke="#000" stroke-width="4.2" stroke-linecap="round" fill="none"/>
<g transform="translate(1385.65,840.59)"><rect x="2.9" y="2.9" width="27.70" height="322.81" fill="url(#pr)" stroke="#000" stroke-width="5.8" stroke-linejoin="round"/></g>
<path d="M1444.1,931.8 V901.3 M1437.4,901.3 H1450.8" stroke="#000" stroke-width="4.2" stroke-linecap="round" fill="none"/>
<g transform="translate(1427.35,928.94)"><rect x="2.9" y="2.9" width="27.70" height="234.46" fill="url(#pg)" stroke="#000" stroke-width="5.8" stroke-linejoin="round"/></g>
<path d="M1513.7,833.3 V802.7 M1507.0,802.7 H1520.4" stroke="#000" stroke-width="4.2" stroke-linecap="round" fill="none"/>
<g transform="translate(1496.95,830.40)"><rect x="2.9" y="2.9" width="27.70" height="333.00" fill="url(#py)" stroke="#000" stroke-width="5.8" stroke-linejoin="round"/></g>
<path d="M1555.4,833.3 V795.9 M1548.7,795.9 H1562.1" stroke="#000" stroke-width="4.2" stroke-linecap="round" fill="none"/>
<g transform="translate(1538.65,830.40)"><rect x="2.9" y="2.9" width="27.70" height="333.00" fill="url(#pr)" stroke="#000" stroke-width="5.8" stroke-linejoin="round"/></g>
<path d="M1597.1,999.8 V979.4 M1590.4,979.4 H1603.8" stroke="#000" stroke-width="4.2" stroke-linecap="round" fill="none"/>
<g transform="translate(1580.35,996.90)"><rect x="2.9" y="2.9" width="27.70" height="166.50" fill="url(#pg)" stroke="#000" stroke-width="5.8" stroke-linejoin="round"/></g>
<path class="ax" stroke-width="6.1" d="M1019.6,759 V1169.35 M1003.6,1166.3 H1630.4 M1003.6,996.4 H1019.6 M1003.6,826.5 H1019.6 M1095.8,1166.3 V1182.1 M1249.1,1166.3 V1182.1 M1402.4,1166.3 V1182.1 M1555.4,1166.3 V1182.1"/>
<text class="b" transform="translate(983.55,1179.30) scale(0.96,1)" font-size="37.00" letter-spacing="0.000">0</text>
<text class="b" transform="translate(964.01,1009.40) scale(0.96,1)" font-size="37.00" letter-spacing="-0.375">50</text>
<text class="b" transform="translate(943.76,839.50) scale(0.96,1)" font-size="37.00" letter-spacing="0.068">100</text>
<text class="b" transform="translate(1106.7,1210.6) rotate(-45) scale(0.96,1)" text-anchor="end" font-size="43.6">5</text>
<text class="b" transform="translate(1260.0,1210.6) rotate(-45) scale(0.96,1)" text-anchor="end" font-size="43.6">10</text>
<text class="b" transform="translate(1413.3,1210.6) rotate(-45) scale(0.96,1)" text-anchor="end" font-size="43.6">15</text>
<text class="b" transform="translate(1566.3,1210.6) rotate(-45) scale(0.96,1)" text-anchor="end" font-size="43.6">20</text>
<text class="b" transform="translate(1223.44,1283.10) scale(0.96,1)" font-size="42.70" letter-spacing="-0.387">Time (min)</text>
<text class="b" transform="translate(940.00,1043.76) rotate(-90) scale(0.96,1)" font-size="44.50" letter-spacing="-1.031">F<tspan font-size="32.04" dy="11.50">(t)</tspan><tspan dy="-11.50">/F</tspan><tspan font-size="31.59" dy="11.50">0</tspan><tspan dy="-11.50">(%)</tspan></text>
</svg></body></html>
